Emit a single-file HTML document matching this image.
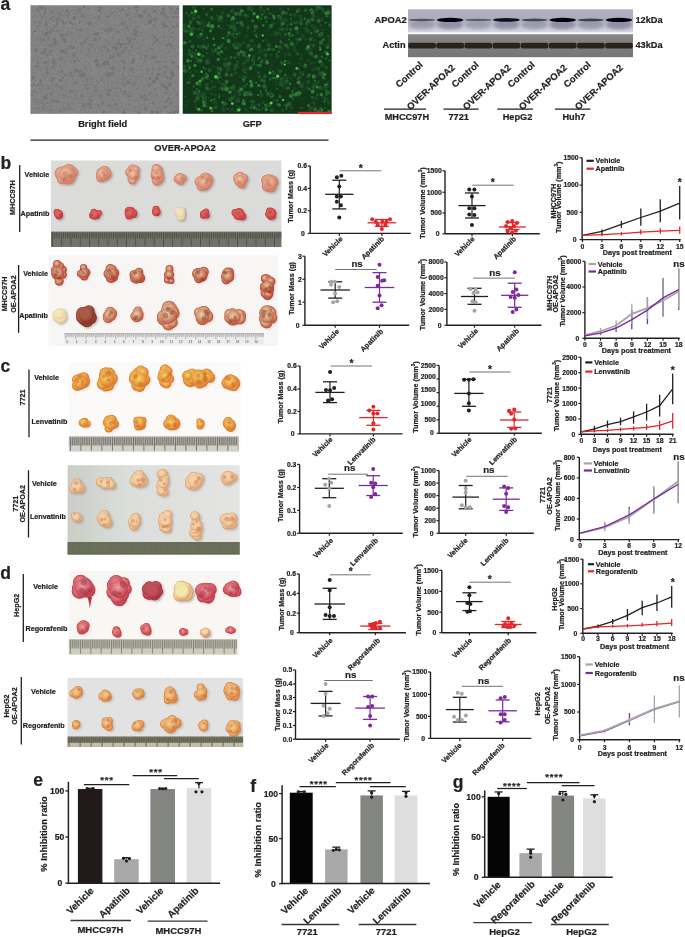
<!DOCTYPE html>
<html><head><meta charset="utf-8"><style>
html,body{margin:0;padding:0;background:#fff;}
body{width:685px;height:937px;overflow:hidden;}
svg{display:block;font-family:"Liberation Sans", sans-serif;will-change:transform;}
</style></head><body>
<svg width="685" height="937" viewBox="0 0 685 937">
<defs>
<filter id="noise" x="0" y="0" width="100%" height="100%">
<feTurbulence type="fractalNoise" baseFrequency="0.55" numOctaves="2" seed="3" result="t"/>
<feColorMatrix type="matrix" values="0 0 0 0 0.49  0 0 0 0 0.49  0 0 0 0 0.49  0 0 0 1.6 -0.55" />
</filter>
<filter id="bfn" x="0" y="0" width="1" height="1"><feTurbulence type="fractalNoise" baseFrequency="0.75" numOctaves="2" seed="5"/><feColorMatrix type="matrix" values="1 0 0 0 0  1 0 0 0 0  1 0 0 0 0  0 0 0 0 0.22"/></filter>
<clipPath id="bfclip"><rect x="30.5" y="5.3" width="148.7" height="108.5"/></clipPath>
<clipPath id="gfpclip"><rect x="182.7" y="5.3" width="148.9" height="108.5"/></clipPath>
<linearGradient id="apoa" x1="0" y1="0" x2="0" y2="1">
<stop offset="0" stop-color="#b0b0be"/><stop offset="0.45" stop-color="#acacbc"/><stop offset="0.75" stop-color="#c4c4d2"/><stop offset="1" stop-color="#d6d6e2"/></linearGradient>
<linearGradient id="act" x1="0" y1="0" x2="0" y2="1">
<stop offset="0" stop-color="#878785"/><stop offset="1" stop-color="#767674"/></linearGradient>
<filter id="bl1"><feGaussianBlur stdDeviation="0.9"/></filter>
<filter id="bl2"><feGaussianBlur stdDeviation="1.6"/></filter>
<filter id="bl05"><feGaussianBlur stdDeviation="0.5"/></filter>
<filter id="bl07"><feGaussianBlur stdDeviation="0.7"/></filter>
<radialGradient id="tg0" cx="0.42" cy="0.4" r="0.6"><stop offset="0" stop-color="#f0c8a8"/><stop offset="0.55" stop-color="#e0a084"/><stop offset="1" stop-color="#cf7c64"/></radialGradient>
<radialGradient id="tg1" cx="0.42" cy="0.4" r="0.6"><stop offset="0" stop-color="#dc6a60"/><stop offset="0.55" stop-color="#d85c58"/><stop offset="1" stop-color="#c63a3e"/></radialGradient>
<radialGradient id="tg2" cx="0.42" cy="0.4" r="0.6"><stop offset="0" stop-color="#f2e2c0"/><stop offset="0.55" stop-color="#f2e2c0"/><stop offset="1" stop-color="#e6c8a0"/></radialGradient>
<pattern id="rp1" patternUnits="userSpaceOnUse" x="52.00" y="231.60" width="9.25" height="15.40"><line x1="0.40" y1="0.8" x2="0.40" y2="14.94" stroke="#3c3e34" stroke-width="0.7"/><line x1="2.25" y1="0.8" x2="2.25" y2="6.93" stroke="#3c3e34" stroke-width="0.7"/><line x1="4.10" y1="0.8" x2="4.10" y2="6.93" stroke="#3c3e34" stroke-width="0.7"/><line x1="5.95" y1="0.8" x2="5.95" y2="6.93" stroke="#3c3e34" stroke-width="0.7"/><line x1="7.80" y1="0.8" x2="7.80" y2="6.93" stroke="#3c3e34" stroke-width="0.7"/></pattern>
<radialGradient id="tg3" cx="0.42" cy="0.4" r="0.6"><stop offset="0" stop-color="#e4c49c"/><stop offset="0.55" stop-color="#cc8466"/><stop offset="1" stop-color="#b4483a"/></radialGradient>
<radialGradient id="tg4" cx="0.42" cy="0.4" r="0.6"><stop offset="0" stop-color="#f3e4bc"/><stop offset="0.55" stop-color="#f3e4bc"/><stop offset="1" stop-color="#e8cf98"/></radialGradient>
<radialGradient id="tg5" cx="0.42" cy="0.4" r="0.6"><stop offset="0" stop-color="#a85a48"/><stop offset="0.55" stop-color="#a85a48"/><stop offset="1" stop-color="#8a3026"/></radialGradient>
<radialGradient id="tg6" cx="0.42" cy="0.4" r="0.6"><stop offset="0" stop-color="#ead2aa"/><stop offset="0.55" stop-color="#d49a7a"/><stop offset="1" stop-color="#bc5a42"/></radialGradient>
<pattern id="rp2" patternUnits="userSpaceOnUse" x="65.30" y="333.30" width="10" height="10.50"><line x1="0.30" y1="0.5" x2="0.30" y2="5.78" stroke="#5a5a5a" stroke-width="0.5"/><line x1="2.30" y1="0.5" x2="2.30" y2="3.67" stroke="#5a5a5a" stroke-width="0.5"/><line x1="4.30" y1="0.5" x2="4.30" y2="3.67" stroke="#5a5a5a" stroke-width="0.5"/><line x1="6.30" y1="0.5" x2="6.30" y2="3.67" stroke="#5a5a5a" stroke-width="0.5"/><line x1="8.30" y1="0.5" x2="8.30" y2="3.67" stroke="#5a5a5a" stroke-width="0.5"/></pattern>
<radialGradient id="tg7" cx="0.42" cy="0.4" r="0.6"><stop offset="0" stop-color="#f2d468"/><stop offset="0.55" stop-color="#eaa848"/><stop offset="1" stop-color="#da7a30"/></radialGradient>
<pattern id="rp3" patternUnits="userSpaceOnUse" x="69.90" y="436.30" width="10.50" height="15.00"><line x1="0.40" y1="0.8" x2="0.40" y2="14.55" stroke="#45453f" stroke-width="0.75"/><line x1="2.50" y1="0.8" x2="2.50" y2="9.00" stroke="#45453f" stroke-width="0.75"/><line x1="4.60" y1="0.8" x2="4.60" y2="9.00" stroke="#45453f" stroke-width="0.75"/><line x1="6.70" y1="0.8" x2="6.70" y2="9.00" stroke="#45453f" stroke-width="0.75"/><line x1="8.80" y1="0.8" x2="8.80" y2="9.00" stroke="#45453f" stroke-width="0.75"/></pattern>
<linearGradient id="c2bg" x1="0" y1="0" x2="1" y2="0"><stop offset="0" stop-color="#c9cdc6"/><stop offset="0.35" stop-color="#dcdedb"/><stop offset="1" stop-color="#e4e4e2"/></linearGradient>
<radialGradient id="tg8" cx="0.42" cy="0.4" r="0.6"><stop offset="0" stop-color="#f4d8b0"/><stop offset="0.55" stop-color="#f0cca0"/><stop offset="1" stop-color="#dca070"/></radialGradient>
<pattern id="rp4" patternUnits="userSpaceOnUse" x="68.60" y="542.10" width="11.00" height="12.50"><line x1="0.40" y1="0.8" x2="0.40" y2="11.50" stroke="#7e846c" stroke-width="0.9"/><line x1="2.60" y1="0.8" x2="2.60" y2="11.50" stroke="#7e846c" stroke-width="0.9"/><line x1="4.80" y1="0.8" x2="4.80" y2="11.50" stroke="#7e846c" stroke-width="0.9"/><line x1="7.00" y1="0.8" x2="7.00" y2="11.50" stroke="#7e846c" stroke-width="0.9"/><line x1="9.20" y1="0.8" x2="9.20" y2="11.50" stroke="#7e846c" stroke-width="0.9"/></pattern>
<radialGradient id="tg9" cx="0.42" cy="0.4" r="0.6"><stop offset="0" stop-color="#e8a0a0"/><stop offset="0.55" stop-color="#d86a74"/><stop offset="1" stop-color="#c03c4c"/></radialGradient>
<radialGradient id="tg10" cx="0.42" cy="0.4" r="0.6"><stop offset="0" stop-color="#c0505a"/><stop offset="0.55" stop-color="#c0505a"/><stop offset="1" stop-color="#a83446"/></radialGradient>
<radialGradient id="tg11" cx="0.42" cy="0.4" r="0.6"><stop offset="0" stop-color="#f4e8a8"/><stop offset="0.55" stop-color="#f4e8a8"/><stop offset="1" stop-color="#dca070"/></radialGradient>
<radialGradient id="tg12" cx="0.42" cy="0.4" r="0.6"><stop offset="0" stop-color="#e8a0a0"/><stop offset="0.55" stop-color="#dc7070"/><stop offset="1" stop-color="#c8404a"/></radialGradient>
<radialGradient id="tg13" cx="0.42" cy="0.4" r="0.6"><stop offset="0" stop-color="#f0d8a0"/><stop offset="0.55" stop-color="#f0d8a0"/><stop offset="1" stop-color="#dc8a70"/></radialGradient>
<pattern id="rp5" patternUnits="userSpaceOnUse" x="69.90" y="639.10" width="10.25" height="15.20"><line x1="0.40" y1="0.8" x2="0.40" y2="14.74" stroke="#4a4a40" stroke-width="0.6"/><line x1="2.45" y1="0.8" x2="2.45" y2="9.12" stroke="#4a4a40" stroke-width="0.6"/><line x1="4.50" y1="0.8" x2="4.50" y2="9.12" stroke="#4a4a40" stroke-width="0.6"/><line x1="6.55" y1="0.8" x2="6.55" y2="9.12" stroke="#4a4a40" stroke-width="0.6"/><line x1="8.60" y1="0.8" x2="8.60" y2="9.12" stroke="#4a4a40" stroke-width="0.6"/></pattern>
<radialGradient id="tg14" cx="0.42" cy="0.4" r="0.6"><stop offset="0" stop-color="#f4d090"/><stop offset="0.55" stop-color="#eab070"/><stop offset="1" stop-color="#d8803e"/></radialGradient>
<pattern id="rp6" patternUnits="userSpaceOnUse" x="68.60" y="736.40" width="11.00" height="10.50"><line x1="0.40" y1="0.8" x2="0.40" y2="10.19" stroke="#3a3a2e" stroke-width="0.8"/><line x1="2.60" y1="0.8" x2="2.60" y2="6.30" stroke="#3a3a2e" stroke-width="0.8"/><line x1="4.80" y1="0.8" x2="4.80" y2="6.30" stroke="#3a3a2e" stroke-width="0.8"/><line x1="7.00" y1="0.8" x2="7.00" y2="6.30" stroke="#3a3a2e" stroke-width="0.8"/><line x1="9.20" y1="0.8" x2="9.20" y2="6.30" stroke="#3a3a2e" stroke-width="0.8"/></pattern>
</defs>
<rect width="685" height="937" fill="#ffffff"/>
<text x="0.40" y="9.85" font-size="17.5" text-anchor="start" fill="#231f20" font-weight="bold" stroke="#231f20" stroke-width="0.22">a</text>
<text x="0.60" y="168.60" font-size="17.5" text-anchor="start" fill="#231f20" font-weight="bold" stroke="#231f20" stroke-width="0.22">b</text>
<text x="0.50" y="372.40" font-size="17.5" text-anchor="start" fill="#231f20" font-weight="bold" stroke="#231f20" stroke-width="0.22">c</text>
<text x="0.30" y="578.70" font-size="17.5" text-anchor="start" fill="#231f20" font-weight="bold" stroke="#231f20" stroke-width="0.22">d</text>
<text x="33.30" y="785.60" font-size="17.5" text-anchor="start" fill="#231f20" font-weight="bold" stroke="#231f20" stroke-width="0.22">e</text>
<text x="250.30" y="791.70" font-size="17.5" text-anchor="start" fill="#231f20" font-weight="bold" stroke="#231f20" stroke-width="0.22">f</text>
<text x="452.70" y="788.00" font-size="17.5" text-anchor="start" fill="#231f20" font-weight="bold" stroke="#231f20" stroke-width="0.22">g</text>
<rect x="30.50" y="5.30" width="148.70" height="108.50" fill="#727272"/>
<rect x="30.50" y="5.30" width="148.70" height="108.50" fill="#000" filter="url(#bfn)"/>
<g clip-path="url(#bfclip)" opacity="0.55">
<g fill="#6c6c6c"><circle cx="79.1" cy="22.4" r="1.6"/><circle cx="44.8" cy="51.6" r="1.8"/><circle cx="170.8" cy="73.6" r="1.5"/><circle cx="116.3" cy="48.6" r="2.0"/><circle cx="46.6" cy="67.2" r="1.0"/><circle cx="53.8" cy="58.5" r="0.8"/><circle cx="41.6" cy="16.3" r="1.1"/><circle cx="73.3" cy="47.5" r="1.6"/><circle cx="131.9" cy="46.9" r="1.1"/><circle cx="133.0" cy="61.3" r="1.5"/><circle cx="53.7" cy="17.1" r="1.2"/><circle cx="172.0" cy="70.6" r="1.4"/><circle cx="165.9" cy="87.2" r="1.2"/><circle cx="60.9" cy="58.9" r="1.7"/><circle cx="155.0" cy="57.5" r="1.6"/><circle cx="34.6" cy="91.6" r="1.7"/><circle cx="131.8" cy="62.9" r="1.4"/><circle cx="161.3" cy="12.4" r="1.0"/><circle cx="145.0" cy="60.5" r="1.5"/><circle cx="51.7" cy="19.3" r="1.3"/><circle cx="174.3" cy="17.5" r="1.1"/><circle cx="163.1" cy="35.0" r="0.8"/><circle cx="149.3" cy="15.2" r="1.8"/><circle cx="92.9" cy="104.0" r="1.5"/><circle cx="71.3" cy="92.1" r="2.0"/><circle cx="176.9" cy="111.1" r="1.8"/><circle cx="38.1" cy="26.1" r="1.1"/><circle cx="72.5" cy="76.3" r="1.1"/><circle cx="165.3" cy="86.6" r="1.5"/><circle cx="44.0" cy="10.8" r="1.6"/><circle cx="86.9" cy="54.5" r="0.9"/><circle cx="123.6" cy="78.9" r="1.4"/><circle cx="42.8" cy="103.4" r="1.1"/><circle cx="88.4" cy="104.1" r="1.9"/><circle cx="51.0" cy="93.8" r="1.4"/><circle cx="154.8" cy="19.1" r="1.9"/><circle cx="142.6" cy="97.4" r="1.1"/><circle cx="165.8" cy="106.7" r="1.5"/><circle cx="66.7" cy="33.9" r="1.5"/><circle cx="109.3" cy="90.6" r="1.8"/><circle cx="95.0" cy="39.6" r="1.8"/><circle cx="157.3" cy="110.0" r="1.1"/><circle cx="64.4" cy="22.5" r="2.0"/><circle cx="129.6" cy="105.0" r="1.1"/><circle cx="97.6" cy="82.3" r="1.2"/><circle cx="96.5" cy="17.9" r="0.9"/><circle cx="37.5" cy="10.0" r="0.9"/><circle cx="84.9" cy="42.0" r="1.9"/><circle cx="75.2" cy="83.3" r="1.5"/><circle cx="151.3" cy="20.5" r="1.4"/><circle cx="142.2" cy="32.7" r="0.9"/><circle cx="161.4" cy="111.7" r="1.1"/><circle cx="141.5" cy="96.7" r="1.6"/><circle cx="97.5" cy="34.0" r="1.7"/><circle cx="37.1" cy="84.4" r="1.9"/><circle cx="126.2" cy="48.0" r="1.3"/><circle cx="95.3" cy="23.0" r="0.9"/><circle cx="77.7" cy="71.1" r="1.6"/><circle cx="37.5" cy="66.3" r="1.7"/><circle cx="45.0" cy="53.5" r="1.4"/><circle cx="163.0" cy="75.9" r="1.7"/><circle cx="157.5" cy="112.6" r="1.7"/><circle cx="163.1" cy="24.3" r="1.7"/><circle cx="113.1" cy="68.2" r="1.9"/><circle cx="122.1" cy="52.4" r="1.4"/><circle cx="50.9" cy="30.5" r="1.6"/><circle cx="169.3" cy="84.6" r="1.1"/><circle cx="43.3" cy="76.2" r="1.0"/><circle cx="100.5" cy="95.9" r="1.6"/><circle cx="165.4" cy="21.7" r="0.8"/><circle cx="122.9" cy="23.6" r="2.0"/><circle cx="36.0" cy="21.1" r="1.6"/><circle cx="47.2" cy="28.3" r="0.9"/><circle cx="171.0" cy="103.5" r="1.7"/><circle cx="152.8" cy="73.7" r="1.1"/><circle cx="107.7" cy="16.8" r="1.4"/><circle cx="110.6" cy="29.4" r="1.8"/><circle cx="61.2" cy="87.6" r="2.0"/><circle cx="169.4" cy="31.0" r="1.0"/><circle cx="103.6" cy="112.1" r="1.5"/><circle cx="162.6" cy="85.8" r="1.3"/><circle cx="34.8" cy="33.7" r="1.7"/><circle cx="177.1" cy="25.9" r="1.4"/><circle cx="54.0" cy="38.6" r="1.3"/><circle cx="109.5" cy="43.1" r="1.5"/><circle cx="56.2" cy="101.4" r="1.5"/><circle cx="65.9" cy="21.2" r="1.4"/><circle cx="104.7" cy="63.9" r="1.8"/><circle cx="50.3" cy="110.1" r="0.9"/><circle cx="152.3" cy="57.0" r="1.7"/><circle cx="53.1" cy="78.2" r="1.6"/><circle cx="46.4" cy="25.6" r="0.8"/><circle cx="116.1" cy="104.3" r="1.3"/><circle cx="62.7" cy="22.5" r="0.8"/><circle cx="32.9" cy="77.7" r="2.0"/><circle cx="99.2" cy="105.8" r="1.1"/><circle cx="70.9" cy="23.1" r="1.9"/><circle cx="132.1" cy="103.8" r="1.2"/><circle cx="99.1" cy="15.7" r="1.8"/><circle cx="67.7" cy="104.7" r="1.4"/><circle cx="119.3" cy="43.1" r="1.4"/><circle cx="177.7" cy="46.7" r="0.8"/><circle cx="113.4" cy="99.2" r="1.3"/><circle cx="158.4" cy="74.6" r="1.9"/><circle cx="169.9" cy="12.6" r="1.5"/><circle cx="131.0" cy="38.2" r="1.5"/><circle cx="148.9" cy="23.0" r="1.8"/><circle cx="39.9" cy="83.8" r="1.2"/><circle cx="136.1" cy="27.3" r="0.9"/><circle cx="36.9" cy="81.2" r="1.5"/><circle cx="83.9" cy="105.8" r="2.0"/><circle cx="146.0" cy="98.9" r="1.5"/><circle cx="107.0" cy="62.9" r="1.4"/><circle cx="46.6" cy="33.0" r="1.8"/><circle cx="66.5" cy="53.7" r="1.2"/><circle cx="117.6" cy="87.6" r="0.9"/><circle cx="119.3" cy="70.6" r="0.8"/><circle cx="41.7" cy="52.5" r="1.4"/><circle cx="124.6" cy="92.6" r="1.9"/><circle cx="61.5" cy="51.8" r="1.9"/><circle cx="170.8" cy="78.5" r="1.4"/><circle cx="120.2" cy="44.0" r="2.0"/><circle cx="178.1" cy="67.6" r="1.3"/><circle cx="52.9" cy="61.6" r="1.4"/><circle cx="121.6" cy="92.4" r="0.9"/><circle cx="83.5" cy="24.4" r="1.1"/><circle cx="35.7" cy="82.9" r="1.0"/><circle cx="68.0" cy="96.6" r="1.2"/><circle cx="94.8" cy="87.1" r="1.0"/><circle cx="167.6" cy="77.8" r="1.5"/><circle cx="47.9" cy="87.8" r="1.6"/><circle cx="117.9" cy="32.0" r="1.6"/><circle cx="37.9" cy="101.9" r="1.2"/><circle cx="59.4" cy="64.2" r="0.8"/><circle cx="127.5" cy="14.6" r="1.7"/><circle cx="138.9" cy="112.5" r="1.5"/><circle cx="58.0" cy="101.3" r="1.5"/><circle cx="165.2" cy="66.8" r="1.8"/><circle cx="173.8" cy="26.7" r="1.4"/><circle cx="99.1" cy="19.2" r="1.0"/><circle cx="56.2" cy="85.8" r="1.2"/><circle cx="96.2" cy="90.7" r="1.4"/></g>
<g fill="#858585"><circle cx="152.2" cy="16.3" r="1.5"/><circle cx="113.3" cy="20.5" r="1.3"/><circle cx="134.3" cy="32.3" r="1.5"/><circle cx="104.3" cy="42.9" r="1.3"/><circle cx="98.6" cy="99.2" r="1.9"/><circle cx="47.7" cy="70.4" r="0.9"/><circle cx="171.3" cy="62.7" r="1.0"/><circle cx="83.8" cy="30.1" r="1.4"/><circle cx="147.6" cy="56.7" r="1.0"/><circle cx="100.6" cy="42.3" r="1.4"/><circle cx="105.2" cy="87.8" r="1.2"/><circle cx="163.5" cy="77.0" r="1.8"/><circle cx="93.3" cy="104.2" r="1.4"/><circle cx="96.7" cy="71.7" r="1.4"/><circle cx="78.3" cy="83.4" r="0.8"/><circle cx="98.9" cy="81.3" r="1.3"/><circle cx="70.4" cy="19.3" r="0.8"/><circle cx="128.0" cy="64.5" r="1.9"/><circle cx="39.6" cy="77.3" r="1.3"/><circle cx="70.2" cy="108.9" r="2.0"/><circle cx="44.9" cy="93.5" r="1.0"/><circle cx="138.0" cy="74.9" r="0.9"/><circle cx="98.7" cy="13.8" r="1.9"/><circle cx="80.3" cy="75.8" r="1.6"/><circle cx="126.2" cy="36.8" r="0.9"/><circle cx="49.1" cy="74.9" r="0.9"/><circle cx="141.7" cy="50.3" r="1.3"/><circle cx="72.3" cy="109.6" r="1.0"/><circle cx="173.8" cy="58.6" r="0.9"/><circle cx="134.2" cy="18.3" r="0.9"/><circle cx="170.2" cy="26.8" r="1.1"/><circle cx="60.6" cy="91.3" r="1.7"/><circle cx="102.8" cy="103.4" r="0.9"/><circle cx="53.0" cy="48.3" r="1.1"/><circle cx="44.4" cy="81.6" r="1.0"/><circle cx="58.8" cy="31.4" r="1.1"/><circle cx="65.7" cy="11.7" r="1.5"/><circle cx="151.9" cy="49.9" r="1.2"/><circle cx="77.4" cy="28.0" r="1.8"/><circle cx="102.6" cy="49.9" r="1.8"/><circle cx="44.6" cy="72.7" r="1.2"/><circle cx="125.6" cy="97.7" r="1.5"/><circle cx="97.2" cy="53.1" r="0.8"/><circle cx="176.5" cy="55.9" r="1.3"/><circle cx="145.8" cy="60.9" r="0.9"/><circle cx="121.2" cy="33.2" r="1.2"/><circle cx="71.9" cy="93.3" r="1.0"/><circle cx="173.3" cy="57.5" r="1.5"/><circle cx="80.1" cy="15.0" r="1.1"/><circle cx="39.5" cy="66.8" r="1.2"/><circle cx="84.0" cy="30.2" r="1.5"/><circle cx="90.6" cy="34.5" r="0.8"/><circle cx="162.7" cy="69.8" r="1.5"/><circle cx="54.9" cy="103.6" r="0.9"/><circle cx="125.9" cy="109.3" r="1.1"/><circle cx="79.8" cy="31.8" r="1.9"/><circle cx="147.5" cy="48.1" r="1.5"/><circle cx="134.0" cy="84.9" r="0.9"/><circle cx="143.5" cy="27.6" r="1.9"/><circle cx="116.0" cy="36.9" r="1.3"/><circle cx="173.7" cy="69.5" r="1.9"/><circle cx="86.2" cy="38.6" r="1.3"/><circle cx="170.3" cy="19.8" r="1.5"/><circle cx="56.4" cy="53.1" r="1.7"/><circle cx="106.1" cy="34.8" r="1.7"/><circle cx="140.4" cy="103.2" r="1.3"/><circle cx="117.9" cy="75.4" r="1.8"/><circle cx="68.3" cy="51.5" r="1.3"/><circle cx="55.1" cy="89.7" r="1.9"/><circle cx="166.1" cy="73.4" r="1.6"/><circle cx="70.5" cy="30.2" r="1.7"/><circle cx="62.3" cy="14.0" r="1.2"/><circle cx="82.4" cy="22.6" r="1.9"/><circle cx="45.4" cy="76.6" r="1.2"/><circle cx="90.1" cy="65.4" r="1.3"/><circle cx="147.5" cy="103.4" r="1.5"/><circle cx="58.7" cy="10.0" r="0.8"/><circle cx="125.8" cy="105.9" r="0.9"/><circle cx="136.9" cy="7.5" r="0.8"/><circle cx="72.6" cy="72.7" r="1.6"/><circle cx="73.9" cy="21.3" r="1.9"/><circle cx="53.1" cy="110.4" r="1.8"/><circle cx="65.7" cy="68.1" r="1.9"/><circle cx="45.3" cy="28.1" r="1.8"/><circle cx="94.1" cy="107.3" r="1.7"/><circle cx="69.3" cy="66.5" r="1.6"/><circle cx="93.0" cy="32.6" r="0.8"/><circle cx="117.2" cy="27.9" r="0.9"/><circle cx="34.1" cy="70.3" r="1.5"/><circle cx="151.3" cy="96.7" r="0.9"/><circle cx="36.6" cy="74.8" r="1.1"/><circle cx="71.7" cy="64.2" r="1.9"/><circle cx="49.2" cy="69.7" r="1.9"/><circle cx="116.4" cy="35.5" r="1.7"/><circle cx="36.1" cy="41.9" r="1.0"/><circle cx="39.9" cy="8.6" r="1.5"/><circle cx="154.1" cy="44.1" r="1.7"/><circle cx="122.1" cy="97.0" r="1.8"/><circle cx="92.2" cy="17.3" r="1.3"/><circle cx="117.6" cy="59.4" r="2.0"/><circle cx="53.5" cy="97.0" r="1.1"/><circle cx="73.8" cy="43.9" r="1.2"/><circle cx="91.7" cy="59.7" r="1.6"/><circle cx="78.3" cy="110.7" r="1.8"/><circle cx="105.7" cy="26.4" r="1.0"/><circle cx="133.2" cy="7.4" r="0.8"/><circle cx="32.1" cy="38.8" r="1.8"/><circle cx="33.8" cy="9.5" r="1.0"/><circle cx="114.9" cy="99.3" r="1.9"/><circle cx="117.2" cy="108.7" r="1.3"/><circle cx="66.5" cy="30.1" r="1.0"/><circle cx="175.5" cy="13.5" r="1.6"/><circle cx="117.9" cy="45.6" r="1.1"/><circle cx="106.5" cy="19.7" r="1.7"/><circle cx="78.7" cy="77.0" r="0.9"/><circle cx="112.7" cy="73.5" r="1.9"/><circle cx="178.2" cy="72.0" r="1.1"/><circle cx="106.3" cy="78.5" r="1.0"/><circle cx="96.9" cy="67.0" r="1.1"/><circle cx="43.8" cy="82.8" r="2.0"/><circle cx="46.5" cy="83.0" r="1.2"/><circle cx="63.6" cy="46.0" r="0.8"/><circle cx="44.0" cy="40.8" r="1.4"/><circle cx="165.1" cy="98.6" r="2.0"/><circle cx="131.3" cy="54.0" r="0.9"/><circle cx="86.2" cy="68.3" r="1.3"/><circle cx="109.5" cy="33.1" r="1.4"/><circle cx="98.8" cy="64.0" r="1.6"/><circle cx="149.1" cy="20.6" r="1.4"/><circle cx="136.5" cy="87.1" r="0.9"/><circle cx="152.9" cy="19.4" r="1.2"/><circle cx="170.9" cy="83.3" r="0.9"/><circle cx="83.5" cy="44.3" r="1.2"/><circle cx="83.6" cy="80.3" r="0.8"/><circle cx="159.9" cy="77.7" r="1.8"/></g>
<g fill="#707070"><circle cx="63.1" cy="15.5" r="1.3"/><circle cx="48.8" cy="39.2" r="1.8"/><circle cx="112.0" cy="13.0" r="0.9"/><circle cx="117.6" cy="54.7" r="1.2"/><circle cx="40.2" cy="88.3" r="1.0"/><circle cx="90.0" cy="104.1" r="1.4"/><circle cx="153.7" cy="25.8" r="1.1"/><circle cx="93.1" cy="45.7" r="1.5"/><circle cx="40.7" cy="13.5" r="1.1"/><circle cx="101.9" cy="80.1" r="1.4"/><circle cx="133.8" cy="34.2" r="1.2"/><circle cx="80.0" cy="30.1" r="1.8"/><circle cx="150.0" cy="93.6" r="1.7"/><circle cx="171.9" cy="45.2" r="1.1"/><circle cx="154.2" cy="19.1" r="1.3"/><circle cx="90.5" cy="107.3" r="1.7"/><circle cx="128.1" cy="43.7" r="1.5"/><circle cx="108.9" cy="105.9" r="1.3"/><circle cx="53.8" cy="60.8" r="1.8"/><circle cx="121.0" cy="89.1" r="1.0"/><circle cx="52.5" cy="100.5" r="2.0"/><circle cx="141.3" cy="16.3" r="1.9"/><circle cx="123.2" cy="61.0" r="0.9"/><circle cx="109.0" cy="31.7" r="0.9"/><circle cx="109.6" cy="28.3" r="1.3"/><circle cx="33.8" cy="84.5" r="1.5"/><circle cx="76.7" cy="29.3" r="1.1"/><circle cx="41.9" cy="85.4" r="1.1"/><circle cx="79.1" cy="10.0" r="1.9"/><circle cx="37.6" cy="8.7" r="1.2"/><circle cx="43.9" cy="108.5" r="1.8"/><circle cx="123.7" cy="84.6" r="1.8"/><circle cx="153.0" cy="68.6" r="1.9"/><circle cx="68.6" cy="14.2" r="1.1"/><circle cx="122.2" cy="74.9" r="0.9"/><circle cx="154.2" cy="36.8" r="1.9"/><circle cx="38.8" cy="84.4" r="1.3"/><circle cx="178.0" cy="54.3" r="1.0"/><circle cx="44.0" cy="89.2" r="0.8"/><circle cx="161.6" cy="75.4" r="0.9"/><circle cx="41.4" cy="59.2" r="1.0"/><circle cx="47.5" cy="72.8" r="1.5"/><circle cx="178.1" cy="105.7" r="1.2"/><circle cx="83.2" cy="108.3" r="0.9"/><circle cx="149.5" cy="85.1" r="1.8"/><circle cx="57.0" cy="20.5" r="1.4"/><circle cx="86.3" cy="85.1" r="1.0"/><circle cx="59.2" cy="13.2" r="1.1"/><circle cx="177.2" cy="17.2" r="1.4"/><circle cx="60.0" cy="14.3" r="1.4"/><circle cx="47.0" cy="69.9" r="1.5"/><circle cx="91.2" cy="100.5" r="1.4"/><circle cx="56.7" cy="43.4" r="1.0"/><circle cx="167.5" cy="17.9" r="1.4"/><circle cx="164.4" cy="72.5" r="1.8"/><circle cx="155.9" cy="94.8" r="1.0"/><circle cx="49.6" cy="32.7" r="1.7"/><circle cx="60.0" cy="111.1" r="1.4"/><circle cx="105.9" cy="40.3" r="0.8"/><circle cx="51.2" cy="45.4" r="1.8"/><circle cx="51.3" cy="106.2" r="1.1"/><circle cx="38.0" cy="63.0" r="1.3"/><circle cx="112.5" cy="106.7" r="1.0"/><circle cx="33.7" cy="34.1" r="1.1"/><circle cx="82.6" cy="16.5" r="1.6"/><circle cx="69.8" cy="107.0" r="1.1"/><circle cx="105.2" cy="46.8" r="1.9"/><circle cx="126.5" cy="43.5" r="1.2"/><circle cx="65.5" cy="41.9" r="1.6"/><circle cx="120.1" cy="43.5" r="1.1"/><circle cx="69.5" cy="108.2" r="2.0"/><circle cx="173.0" cy="17.1" r="1.3"/><circle cx="148.3" cy="84.5" r="1.3"/><circle cx="67.1" cy="49.0" r="1.7"/><circle cx="157.7" cy="61.6" r="1.6"/><circle cx="165.0" cy="17.7" r="1.1"/><circle cx="82.7" cy="96.7" r="1.3"/><circle cx="108.2" cy="50.1" r="1.9"/><circle cx="62.7" cy="20.1" r="1.7"/><circle cx="100.5" cy="66.3" r="1.1"/><circle cx="100.3" cy="37.7" r="1.5"/><circle cx="146.1" cy="56.4" r="1.7"/><circle cx="153.2" cy="102.9" r="1.7"/><circle cx="102.7" cy="102.9" r="1.6"/><circle cx="150.4" cy="16.3" r="1.4"/><circle cx="38.8" cy="38.4" r="0.8"/><circle cx="62.7" cy="77.5" r="1.3"/><circle cx="165.9" cy="76.3" r="1.2"/><circle cx="131.5" cy="69.7" r="2.0"/><circle cx="137.2" cy="32.2" r="1.7"/><circle cx="167.2" cy="45.3" r="1.7"/><circle cx="43.2" cy="39.5" r="1.7"/><circle cx="85.5" cy="67.6" r="1.3"/><circle cx="52.8" cy="91.4" r="1.2"/><circle cx="80.3" cy="70.9" r="2.0"/><circle cx="119.9" cy="39.2" r="1.3"/><circle cx="86.9" cy="79.4" r="1.5"/><circle cx="110.9" cy="58.0" r="1.3"/><circle cx="77.0" cy="12.4" r="1.3"/><circle cx="78.7" cy="60.3" r="1.0"/><circle cx="116.4" cy="44.6" r="1.7"/><circle cx="173.1" cy="33.4" r="0.8"/><circle cx="89.3" cy="54.1" r="1.0"/><circle cx="39.7" cy="21.7" r="1.7"/><circle cx="102.3" cy="24.3" r="1.1"/><circle cx="165.9" cy="101.5" r="1.4"/><circle cx="168.8" cy="98.8" r="1.9"/><circle cx="47.6" cy="55.0" r="1.4"/><circle cx="175.4" cy="12.4" r="1.9"/><circle cx="113.8" cy="95.4" r="0.9"/><circle cx="174.2" cy="52.4" r="1.1"/><circle cx="167.5" cy="16.7" r="1.1"/><circle cx="31.8" cy="95.1" r="1.4"/><circle cx="115.5" cy="21.0" r="1.0"/><circle cx="162.2" cy="84.3" r="1.7"/><circle cx="61.8" cy="71.6" r="1.6"/><circle cx="44.8" cy="50.0" r="1.7"/><circle cx="67.3" cy="15.8" r="1.5"/><circle cx="91.1" cy="20.9" r="1.5"/><circle cx="53.1" cy="67.4" r="1.7"/><circle cx="129.0" cy="7.5" r="0.9"/><circle cx="46.3" cy="19.3" r="0.8"/><circle cx="171.3" cy="37.0" r="1.2"/><circle cx="164.0" cy="15.3" r="1.5"/><circle cx="73.7" cy="54.8" r="1.6"/><circle cx="64.6" cy="108.7" r="1.7"/><circle cx="92.8" cy="77.6" r="1.0"/><circle cx="71.0" cy="73.6" r="1.6"/><circle cx="87.5" cy="38.3" r="1.4"/><circle cx="124.3" cy="62.2" r="1.8"/><circle cx="132.1" cy="68.1" r="1.0"/><circle cx="157.8" cy="107.4" r="0.9"/><circle cx="34.8" cy="98.9" r="0.9"/><circle cx="152.9" cy="43.8" r="1.1"/><circle cx="129.1" cy="42.7" r="1.0"/><circle cx="45.1" cy="35.1" r="1.8"/><circle cx="113.1" cy="56.1" r="1.8"/><circle cx="105.7" cy="30.6" r="1.3"/><circle cx="88.8" cy="15.5" r="1.0"/><circle cx="165.8" cy="92.2" r="1.7"/><circle cx="41.2" cy="39.5" r="1.1"/><circle cx="145.4" cy="100.5" r="1.8"/><circle cx="58.2" cy="18.6" r="1.9"/><circle cx="136.3" cy="10.6" r="0.8"/><circle cx="160.1" cy="68.7" r="1.6"/><circle cx="155.9" cy="89.3" r="1.4"/><circle cx="57.2" cy="23.8" r="1.7"/><circle cx="82.5" cy="16.2" r="1.6"/><circle cx="51.6" cy="81.7" r="1.6"/><circle cx="135.2" cy="6.9" r="1.6"/><circle cx="169.1" cy="43.8" r="1.2"/><circle cx="112.1" cy="87.4" r="1.0"/><circle cx="119.5" cy="55.5" r="1.7"/><circle cx="48.3" cy="37.2" r="1.2"/><circle cx="145.3" cy="95.9" r="1.2"/><circle cx="172.9" cy="62.4" r="1.9"/><circle cx="44.7" cy="10.6" r="1.3"/><circle cx="40.7" cy="7.2" r="1.9"/><circle cx="109.5" cy="73.9" r="1.8"/><circle cx="66.8" cy="53.4" r="1.1"/><circle cx="64.0" cy="95.6" r="1.6"/><circle cx="46.5" cy="94.9" r="1.3"/><circle cx="51.6" cy="89.1" r="0.9"/><circle cx="38.4" cy="10.8" r="1.6"/></g>
<g fill="#686868"><circle cx="104.5" cy="63.0" r="1.7"/><circle cx="81.5" cy="43.7" r="1.4"/><circle cx="40.4" cy="81.1" r="1.6"/><circle cx="169.8" cy="44.2" r="1.5"/><circle cx="97.5" cy="64.9" r="1.9"/><circle cx="57.4" cy="31.0" r="1.1"/><circle cx="89.2" cy="48.9" r="0.9"/><circle cx="156.3" cy="112.3" r="1.4"/><circle cx="44.3" cy="107.3" r="1.7"/><circle cx="177.5" cy="9.2" r="1.5"/><circle cx="150.1" cy="21.9" r="1.8"/><circle cx="60.8" cy="35.9" r="1.4"/><circle cx="167.1" cy="101.6" r="1.0"/><circle cx="177.0" cy="95.1" r="1.0"/><circle cx="164.7" cy="25.7" r="1.7"/><circle cx="156.4" cy="78.4" r="1.9"/><circle cx="44.7" cy="12.4" r="1.6"/><circle cx="107.1" cy="32.5" r="1.3"/><circle cx="153.8" cy="81.7" r="1.6"/><circle cx="83.9" cy="6.4" r="1.3"/><circle cx="128.2" cy="82.7" r="1.9"/><circle cx="45.0" cy="62.4" r="1.7"/><circle cx="65.4" cy="75.6" r="1.4"/><circle cx="174.5" cy="16.9" r="1.1"/><circle cx="74.3" cy="61.4" r="1.4"/><circle cx="175.3" cy="106.2" r="0.8"/><circle cx="134.9" cy="31.0" r="1.9"/><circle cx="89.4" cy="23.3" r="1.9"/><circle cx="91.1" cy="83.9" r="1.3"/><circle cx="164.0" cy="37.2" r="1.2"/><circle cx="88.9" cy="99.1" r="0.9"/><circle cx="146.9" cy="51.9" r="0.8"/><circle cx="69.1" cy="85.1" r="1.6"/><circle cx="127.9" cy="38.4" r="1.5"/><circle cx="62.4" cy="35.1" r="1.7"/><circle cx="71.3" cy="32.8" r="1.3"/><circle cx="50.2" cy="51.7" r="1.7"/><circle cx="169.9" cy="83.3" r="1.6"/><circle cx="173.0" cy="73.1" r="1.4"/><circle cx="172.5" cy="75.1" r="1.9"/><circle cx="108.9" cy="64.7" r="0.8"/><circle cx="135.1" cy="39.1" r="0.8"/><circle cx="133.8" cy="82.9" r="1.2"/><circle cx="52.4" cy="11.8" r="0.9"/><circle cx="87.4" cy="88.3" r="1.2"/><circle cx="166.7" cy="26.9" r="1.2"/><circle cx="36.0" cy="50.1" r="1.8"/><circle cx="35.1" cy="31.3" r="1.4"/><circle cx="171.7" cy="47.5" r="1.1"/><circle cx="146.7" cy="69.9" r="1.4"/><circle cx="102.3" cy="64.4" r="1.0"/><circle cx="62.1" cy="51.2" r="2.0"/><circle cx="106.1" cy="31.0" r="1.8"/><circle cx="54.2" cy="63.3" r="1.6"/><circle cx="50.6" cy="11.8" r="1.0"/><circle cx="75.8" cy="95.6" r="0.9"/><circle cx="129.7" cy="40.9" r="1.3"/><circle cx="112.4" cy="73.2" r="1.2"/><circle cx="146.2" cy="55.2" r="1.0"/><circle cx="144.4" cy="11.5" r="1.8"/><circle cx="107.7" cy="74.9" r="1.6"/><circle cx="123.5" cy="112.4" r="1.7"/><circle cx="136.7" cy="7.0" r="1.8"/><circle cx="136.1" cy="34.7" r="1.5"/><circle cx="170.4" cy="85.9" r="1.2"/><circle cx="162.5" cy="13.3" r="1.8"/><circle cx="122.4" cy="9.6" r="1.3"/><circle cx="123.8" cy="44.2" r="1.3"/><circle cx="47.6" cy="103.5" r="1.1"/><circle cx="99.7" cy="7.6" r="1.8"/><circle cx="133.4" cy="59.7" r="1.6"/><circle cx="156.8" cy="78.8" r="1.6"/><circle cx="95.1" cy="34.0" r="1.6"/><circle cx="163.0" cy="41.3" r="0.8"/><circle cx="71.8" cy="48.9" r="0.8"/><circle cx="174.3" cy="112.4" r="2.0"/><circle cx="83.4" cy="74.5" r="1.8"/><circle cx="70.8" cy="46.4" r="1.1"/><circle cx="84.1" cy="76.1" r="1.2"/><circle cx="46.4" cy="21.5" r="1.1"/><circle cx="60.5" cy="80.2" r="1.4"/><circle cx="130.2" cy="18.8" r="0.9"/><circle cx="55.1" cy="40.5" r="1.6"/><circle cx="129.3" cy="96.0" r="1.2"/><circle cx="159.8" cy="43.1" r="1.0"/><circle cx="108.3" cy="94.3" r="1.7"/><circle cx="101.4" cy="50.3" r="0.9"/><circle cx="138.8" cy="15.3" r="1.6"/><circle cx="124.1" cy="50.9" r="1.3"/><circle cx="167.6" cy="68.9" r="0.8"/><circle cx="154.6" cy="11.3" r="1.7"/><circle cx="145.9" cy="108.5" r="1.9"/><circle cx="52.5" cy="30.0" r="0.9"/><circle cx="154.9" cy="42.0" r="1.0"/><circle cx="96.5" cy="60.5" r="1.4"/><circle cx="80.8" cy="96.1" r="1.8"/><circle cx="74.4" cy="17.8" r="1.7"/><circle cx="136.9" cy="11.1" r="0.9"/><circle cx="170.9" cy="8.3" r="1.6"/><circle cx="53.1" cy="78.9" r="1.2"/><circle cx="64.6" cy="51.2" r="1.3"/><circle cx="96.2" cy="60.9" r="1.9"/><circle cx="127.1" cy="27.8" r="1.7"/><circle cx="159.6" cy="53.2" r="0.9"/><circle cx="45.5" cy="97.7" r="1.9"/><circle cx="120.8" cy="46.8" r="1.3"/><circle cx="113.1" cy="47.3" r="1.2"/><circle cx="166.8" cy="88.8" r="1.4"/><circle cx="107.6" cy="61.5" r="1.6"/><circle cx="99.7" cy="10.6" r="1.6"/><circle cx="54.2" cy="26.4" r="1.3"/><circle cx="152.1" cy="112.0" r="1.9"/><circle cx="46.2" cy="24.5" r="1.4"/><circle cx="97.6" cy="47.4" r="0.9"/><circle cx="157.1" cy="39.9" r="1.9"/><circle cx="76.1" cy="70.6" r="2.0"/><circle cx="64.0" cy="39.3" r="1.9"/><circle cx="89.7" cy="45.0" r="1.2"/><circle cx="80.9" cy="75.8" r="2.0"/><circle cx="54.9" cy="44.0" r="1.7"/><circle cx="124.0" cy="68.3" r="1.2"/><circle cx="170.0" cy="112.8" r="1.5"/><circle cx="44.9" cy="97.2" r="1.7"/><circle cx="151.6" cy="48.9" r="1.2"/><circle cx="163.4" cy="9.0" r="1.6"/><circle cx="141.7" cy="15.5" r="1.6"/><circle cx="133.2" cy="85.1" r="1.8"/><circle cx="42.1" cy="7.5" r="2.0"/><circle cx="70.4" cy="75.1" r="1.9"/><circle cx="66.7" cy="10.7" r="1.5"/><circle cx="164.6" cy="107.1" r="1.4"/><circle cx="52.4" cy="30.6" r="1.0"/><circle cx="164.4" cy="23.8" r="1.2"/><circle cx="149.7" cy="78.4" r="1.5"/></g>
<g fill="#8a8a8a"><circle cx="175.6" cy="18.9" r="1.3"/><circle cx="143.9" cy="67.4" r="1.9"/><circle cx="158.5" cy="36.0" r="1.3"/><circle cx="41.8" cy="28.5" r="1.3"/><circle cx="77.3" cy="21.7" r="1.7"/><circle cx="172.1" cy="54.0" r="1.9"/><circle cx="101.8" cy="25.3" r="1.7"/><circle cx="152.9" cy="28.8" r="1.1"/><circle cx="93.1" cy="20.3" r="1.9"/><circle cx="101.1" cy="83.7" r="1.5"/><circle cx="106.1" cy="32.7" r="1.4"/><circle cx="130.2" cy="52.0" r="1.1"/><circle cx="146.7" cy="102.0" r="1.0"/><circle cx="177.6" cy="49.4" r="1.3"/><circle cx="53.5" cy="104.4" r="1.5"/><circle cx="70.0" cy="25.6" r="1.9"/><circle cx="130.1" cy="36.4" r="1.1"/><circle cx="143.9" cy="83.2" r="1.4"/><circle cx="115.0" cy="7.6" r="0.9"/><circle cx="144.3" cy="112.3" r="1.5"/><circle cx="42.7" cy="60.4" r="2.0"/><circle cx="117.0" cy="21.4" r="1.4"/><circle cx="78.0" cy="96.0" r="0.8"/><circle cx="174.2" cy="52.8" r="1.2"/><circle cx="50.2" cy="56.7" r="1.2"/><circle cx="164.7" cy="59.3" r="1.1"/><circle cx="67.4" cy="24.9" r="1.5"/><circle cx="65.7" cy="104.5" r="1.6"/><circle cx="31.7" cy="63.6" r="2.0"/><circle cx="65.4" cy="29.9" r="1.7"/><circle cx="127.4" cy="62.3" r="1.4"/><circle cx="129.2" cy="46.7" r="1.2"/><circle cx="69.3" cy="86.0" r="1.9"/><circle cx="70.0" cy="82.8" r="1.2"/><circle cx="120.8" cy="41.3" r="1.2"/><circle cx="146.1" cy="37.7" r="1.1"/><circle cx="155.1" cy="103.9" r="0.8"/><circle cx="37.0" cy="42.6" r="0.9"/><circle cx="133.7" cy="50.0" r="1.1"/><circle cx="92.9" cy="11.8" r="1.7"/><circle cx="92.4" cy="8.2" r="1.7"/><circle cx="37.6" cy="106.4" r="1.0"/><circle cx="76.8" cy="32.9" r="1.3"/><circle cx="90.4" cy="13.5" r="1.2"/><circle cx="37.5" cy="20.2" r="1.9"/><circle cx="132.4" cy="83.2" r="1.1"/><circle cx="90.8" cy="74.2" r="1.1"/><circle cx="68.5" cy="63.5" r="1.8"/><circle cx="70.4" cy="112.0" r="1.5"/><circle cx="140.8" cy="11.5" r="1.8"/><circle cx="77.1" cy="109.4" r="1.8"/><circle cx="139.3" cy="86.0" r="1.1"/><circle cx="97.8" cy="13.1" r="1.0"/><circle cx="151.1" cy="24.9" r="1.2"/><circle cx="69.9" cy="75.0" r="0.9"/><circle cx="132.3" cy="104.2" r="2.0"/><circle cx="95.8" cy="83.6" r="1.5"/><circle cx="51.0" cy="90.8" r="1.6"/><circle cx="78.4" cy="51.5" r="0.8"/><circle cx="168.2" cy="11.5" r="1.7"/><circle cx="144.6" cy="70.5" r="1.4"/><circle cx="159.1" cy="54.3" r="1.5"/><circle cx="54.2" cy="22.9" r="1.1"/><circle cx="136.9" cy="61.0" r="1.6"/><circle cx="138.7" cy="71.8" r="1.6"/><circle cx="131.3" cy="57.7" r="1.8"/><circle cx="94.5" cy="74.3" r="1.6"/><circle cx="129.8" cy="101.7" r="1.7"/><circle cx="178.5" cy="78.4" r="1.0"/><circle cx="125.0" cy="9.3" r="1.5"/><circle cx="36.5" cy="82.9" r="1.6"/><circle cx="113.0" cy="103.6" r="1.1"/><circle cx="93.6" cy="65.4" r="1.8"/><circle cx="83.7" cy="59.0" r="1.2"/><circle cx="147.9" cy="41.6" r="1.2"/><circle cx="147.1" cy="66.3" r="1.1"/><circle cx="63.6" cy="19.2" r="1.4"/><circle cx="172.3" cy="95.4" r="1.5"/><circle cx="170.4" cy="90.0" r="1.5"/><circle cx="150.2" cy="36.5" r="0.8"/><circle cx="59.8" cy="25.6" r="1.6"/><circle cx="86.1" cy="55.7" r="0.9"/><circle cx="103.0" cy="66.8" r="1.1"/><circle cx="177.3" cy="30.0" r="0.8"/><circle cx="100.7" cy="46.0" r="1.3"/><circle cx="155.3" cy="73.3" r="1.3"/><circle cx="78.9" cy="31.3" r="0.9"/><circle cx="112.8" cy="21.7" r="1.8"/><circle cx="84.4" cy="10.6" r="1.3"/><circle cx="91.5" cy="83.3" r="0.9"/><circle cx="159.7" cy="34.7" r="1.0"/><circle cx="49.3" cy="82.5" r="1.8"/><circle cx="34.4" cy="105.1" r="1.7"/><circle cx="145.7" cy="42.4" r="1.1"/><circle cx="136.7" cy="96.3" r="1.5"/><circle cx="162.6" cy="38.7" r="1.4"/><circle cx="87.8" cy="68.8" r="0.8"/><circle cx="55.4" cy="107.9" r="1.2"/><circle cx="103.7" cy="36.7" r="2.0"/><circle cx="95.5" cy="46.5" r="1.1"/><circle cx="79.1" cy="96.3" r="1.8"/><circle cx="35.3" cy="33.7" r="1.9"/><circle cx="96.2" cy="72.9" r="2.0"/><circle cx="133.2" cy="85.9" r="0.9"/><circle cx="57.3" cy="76.3" r="1.2"/><circle cx="84.2" cy="26.2" r="2.0"/><circle cx="100.2" cy="43.1" r="1.3"/><circle cx="169.2" cy="25.1" r="1.2"/><circle cx="154.9" cy="67.1" r="1.7"/><circle cx="131.6" cy="10.3" r="1.2"/><circle cx="44.7" cy="107.3" r="1.3"/><circle cx="37.9" cy="81.3" r="1.8"/><circle cx="111.5" cy="32.9" r="0.9"/><circle cx="134.6" cy="54.1" r="0.9"/><circle cx="126.2" cy="73.3" r="1.9"/><circle cx="79.5" cy="26.0" r="1.8"/><circle cx="65.3" cy="20.8" r="1.9"/><circle cx="157.2" cy="90.3" r="1.3"/><circle cx="42.1" cy="12.2" r="1.7"/><circle cx="122.6" cy="92.8" r="0.9"/><circle cx="121.0" cy="38.0" r="1.5"/><circle cx="102.2" cy="75.4" r="1.2"/><circle cx="122.8" cy="99.4" r="1.5"/><circle cx="48.1" cy="105.0" r="1.6"/><circle cx="149.2" cy="26.1" r="1.5"/></g>
</g>
<rect x="182.70" y="5.30" width="148.90" height="108.50" fill="#123619"/>
<g clip-path="url(#gfpclip)" opacity="0.8">
<g fill="#1c4a24"><circle cx="311.8" cy="63.5" r="1.7"/><circle cx="255.1" cy="57.8" r="0.7"/><circle cx="303.6" cy="83.4" r="1.2"/><circle cx="189.0" cy="65.9" r="1.9"/><circle cx="237.0" cy="36.6" r="1.9"/><circle cx="300.3" cy="21.8" r="0.8"/><circle cx="286.8" cy="77.5" r="2.0"/><circle cx="329.5" cy="22.8" r="1.0"/><circle cx="282.0" cy="49.5" r="1.3"/><circle cx="328.2" cy="44.5" r="1.9"/><circle cx="283.1" cy="42.5" r="0.8"/><circle cx="300.3" cy="16.2" r="1.6"/><circle cx="256.2" cy="69.8" r="1.1"/><circle cx="204.8" cy="87.6" r="0.8"/><circle cx="236.8" cy="43.1" r="1.7"/><circle cx="217.6" cy="72.0" r="1.9"/><circle cx="295.4" cy="88.5" r="1.2"/><circle cx="297.6" cy="32.5" r="2.2"/><circle cx="215.1" cy="102.8" r="2.1"/><circle cx="280.4" cy="8.6" r="1.9"/><circle cx="282.4" cy="43.8" r="1.0"/><circle cx="247.3" cy="31.3" r="1.0"/><circle cx="246.1" cy="36.3" r="2.0"/><circle cx="215.6" cy="66.8" r="0.9"/><circle cx="304.1" cy="36.7" r="1.2"/><circle cx="271.2" cy="54.6" r="1.6"/><circle cx="214.6" cy="99.8" r="1.2"/><circle cx="189.5" cy="60.0" r="1.0"/><circle cx="264.1" cy="79.5" r="2.2"/><circle cx="245.2" cy="109.2" r="1.3"/><circle cx="285.3" cy="83.6" r="2.2"/><circle cx="213.0" cy="19.2" r="2.0"/><circle cx="308.6" cy="60.6" r="1.6"/><circle cx="218.2" cy="73.1" r="1.8"/><circle cx="300.4" cy="76.7" r="2.1"/><circle cx="206.3" cy="76.5" r="1.0"/><circle cx="236.1" cy="91.3" r="1.5"/><circle cx="280.7" cy="35.9" r="1.1"/><circle cx="285.5" cy="54.2" r="1.4"/><circle cx="256.0" cy="16.3" r="0.9"/><circle cx="294.4" cy="46.8" r="1.5"/><circle cx="270.5" cy="55.6" r="1.4"/><circle cx="248.2" cy="58.6" r="1.5"/><circle cx="189.9" cy="78.4" r="1.5"/><circle cx="240.6" cy="55.3" r="0.8"/><circle cx="307.8" cy="29.6" r="1.4"/><circle cx="240.0" cy="76.7" r="1.1"/><circle cx="304.2" cy="10.7" r="1.0"/><circle cx="202.2" cy="21.4" r="2.0"/><circle cx="282.5" cy="38.0" r="1.0"/><circle cx="244.5" cy="76.2" r="1.1"/><circle cx="203.5" cy="23.8" r="1.4"/><circle cx="194.6" cy="58.4" r="0.7"/><circle cx="256.5" cy="104.6" r="0.8"/><circle cx="224.9" cy="38.8" r="1.6"/><circle cx="196.9" cy="21.7" r="1.1"/><circle cx="321.5" cy="41.8" r="2.0"/><circle cx="186.2" cy="106.0" r="1.4"/><circle cx="219.6" cy="88.4" r="1.5"/><circle cx="190.0" cy="71.9" r="1.7"/><circle cx="318.4" cy="8.1" r="2.1"/><circle cx="232.3" cy="109.5" r="2.2"/><circle cx="310.5" cy="12.3" r="1.2"/><circle cx="301.3" cy="58.7" r="1.9"/><circle cx="208.0" cy="47.5" r="1.7"/><circle cx="322.1" cy="19.2" r="2.2"/><circle cx="212.9" cy="55.1" r="1.1"/><circle cx="227.9" cy="70.4" r="2.1"/><circle cx="233.0" cy="29.4" r="1.2"/><circle cx="323.8" cy="45.0" r="1.0"/><circle cx="273.1" cy="100.9" r="1.3"/><circle cx="282.7" cy="110.4" r="1.8"/><circle cx="281.3" cy="15.0" r="1.6"/><circle cx="245.4" cy="109.7" r="1.7"/><circle cx="236.6" cy="101.8" r="1.2"/><circle cx="316.5" cy="68.7" r="2.2"/><circle cx="314.1" cy="56.8" r="1.6"/><circle cx="319.2" cy="72.4" r="1.5"/><circle cx="224.7" cy="63.2" r="1.7"/><circle cx="288.7" cy="48.5" r="1.9"/><circle cx="311.8" cy="17.1" r="1.6"/><circle cx="285.0" cy="88.3" r="1.3"/><circle cx="292.4" cy="42.9" r="1.3"/><circle cx="203.5" cy="42.6" r="0.8"/><circle cx="202.2" cy="36.7" r="0.8"/><circle cx="236.5" cy="80.4" r="0.8"/><circle cx="323.3" cy="29.9" r="1.4"/><circle cx="204.3" cy="35.9" r="0.8"/><circle cx="215.8" cy="90.3" r="1.0"/><circle cx="297.6" cy="10.0" r="1.5"/><circle cx="194.4" cy="57.2" r="0.9"/><circle cx="296.9" cy="28.1" r="1.8"/><circle cx="309.3" cy="45.2" r="2.0"/><circle cx="328.6" cy="102.7" r="1.9"/><circle cx="290.0" cy="23.9" r="2.0"/><circle cx="261.6" cy="9.9" r="1.9"/><circle cx="198.3" cy="99.1" r="2.1"/><circle cx="309.8" cy="110.9" r="1.8"/><circle cx="285.0" cy="56.5" r="0.9"/><circle cx="316.6" cy="28.0" r="0.7"/><circle cx="258.8" cy="18.1" r="1.9"/><circle cx="185.1" cy="85.2" r="0.7"/><circle cx="197.7" cy="83.7" r="2.0"/><circle cx="283.7" cy="87.6" r="1.0"/><circle cx="281.8" cy="21.2" r="2.1"/><circle cx="312.2" cy="25.9" r="2.1"/><circle cx="221.3" cy="21.1" r="1.9"/><circle cx="234.9" cy="41.1" r="0.8"/><circle cx="207.8" cy="106.4" r="1.7"/><circle cx="295.3" cy="94.9" r="2.2"/><circle cx="187.1" cy="31.2" r="2.0"/><circle cx="300.0" cy="62.9" r="0.9"/><circle cx="191.8" cy="76.7" r="1.1"/><circle cx="325.6" cy="79.2" r="1.1"/><circle cx="249.7" cy="101.5" r="1.1"/><circle cx="222.4" cy="11.8" r="1.4"/><circle cx="311.4" cy="102.5" r="0.9"/><circle cx="188.3" cy="53.0" r="0.9"/><circle cx="265.1" cy="58.7" r="1.3"/><circle cx="254.0" cy="25.3" r="1.0"/><circle cx="192.9" cy="27.0" r="1.1"/><circle cx="253.7" cy="56.2" r="2.1"/><circle cx="196.0" cy="29.8" r="0.8"/><circle cx="253.6" cy="60.7" r="2.1"/><circle cx="305.8" cy="28.2" r="2.2"/><circle cx="267.0" cy="87.9" r="1.1"/><circle cx="184.0" cy="70.8" r="1.1"/><circle cx="245.3" cy="62.6" r="2.0"/><circle cx="280.8" cy="81.1" r="1.6"/><circle cx="219.6" cy="76.1" r="1.6"/><circle cx="238.0" cy="61.8" r="1.5"/><circle cx="309.5" cy="107.4" r="1.7"/><circle cx="282.1" cy="91.0" r="0.7"/><circle cx="252.0" cy="41.0" r="2.2"/><circle cx="197.0" cy="109.0" r="1.5"/><circle cx="268.2" cy="44.3" r="1.8"/><circle cx="295.9" cy="38.6" r="1.1"/><circle cx="193.5" cy="54.8" r="1.7"/><circle cx="244.2" cy="65.9" r="0.7"/><circle cx="209.3" cy="25.3" r="2.1"/><circle cx="234.9" cy="37.6" r="1.8"/><circle cx="301.6" cy="85.9" r="2.0"/><circle cx="240.2" cy="82.3" r="1.0"/><circle cx="211.9" cy="81.3" r="1.9"/><circle cx="302.9" cy="72.4" r="1.9"/><circle cx="215.5" cy="95.2" r="1.4"/><circle cx="315.2" cy="20.8" r="0.8"/><circle cx="288.5" cy="84.3" r="0.7"/><circle cx="291.2" cy="20.6" r="1.0"/><circle cx="315.3" cy="107.0" r="1.2"/><circle cx="321.6" cy="8.3" r="1.7"/><circle cx="234.4" cy="95.6" r="2.0"/><circle cx="263.2" cy="102.7" r="1.9"/><circle cx="264.0" cy="54.8" r="1.2"/><circle cx="309.5" cy="74.2" r="1.2"/><circle cx="269.8" cy="94.1" r="1.5"/><circle cx="246.7" cy="16.7" r="1.5"/><circle cx="259.2" cy="85.2" r="0.9"/><circle cx="247.3" cy="47.0" r="1.8"/><circle cx="281.6" cy="22.0" r="2.1"/><circle cx="271.9" cy="34.2" r="1.1"/><circle cx="215.6" cy="73.0" r="0.8"/><circle cx="298.3" cy="63.5" r="1.0"/><circle cx="326.5" cy="82.8" r="0.9"/><circle cx="288.0" cy="81.6" r="1.1"/><circle cx="248.6" cy="16.1" r="0.8"/><circle cx="277.3" cy="111.7" r="1.2"/><circle cx="289.4" cy="111.6" r="1.0"/><circle cx="230.1" cy="60.0" r="1.0"/><circle cx="306.6" cy="87.7" r="1.6"/><circle cx="291.2" cy="42.2" r="1.8"/><circle cx="264.0" cy="11.4" r="1.9"/><circle cx="235.8" cy="73.1" r="2.1"/><circle cx="260.1" cy="9.1" r="1.5"/><circle cx="221.2" cy="71.0" r="1.5"/><circle cx="226.0" cy="59.0" r="2.1"/><circle cx="187.2" cy="27.3" r="0.8"/><circle cx="204.5" cy="39.7" r="1.0"/><circle cx="299.9" cy="72.7" r="1.7"/><circle cx="261.4" cy="78.5" r="0.8"/><circle cx="263.9" cy="99.9" r="0.7"/><circle cx="312.7" cy="70.1" r="1.2"/><circle cx="258.7" cy="22.5" r="0.8"/><circle cx="265.9" cy="22.0" r="1.0"/><circle cx="206.9" cy="74.8" r="1.5"/><circle cx="319.6" cy="71.6" r="1.2"/><circle cx="231.6" cy="74.5" r="1.5"/><circle cx="273.2" cy="23.6" r="2.0"/><circle cx="323.0" cy="97.1" r="2.2"/><circle cx="319.8" cy="86.5" r="0.9"/><circle cx="246.4" cy="105.0" r="0.8"/><circle cx="310.1" cy="49.1" r="2.1"/><circle cx="323.9" cy="11.9" r="2.0"/><circle cx="291.6" cy="105.4" r="1.2"/><circle cx="248.9" cy="9.7" r="0.8"/><circle cx="314.4" cy="10.6" r="1.4"/><circle cx="311.9" cy="15.5" r="1.1"/><circle cx="320.2" cy="26.5" r="0.9"/><circle cx="233.1" cy="24.2" r="2.1"/><circle cx="216.3" cy="102.2" r="1.6"/><circle cx="193.2" cy="47.2" r="1.6"/><circle cx="283.6" cy="85.2" r="1.0"/><circle cx="207.4" cy="78.8" r="1.5"/><circle cx="313.9" cy="103.1" r="2.0"/><circle cx="254.2" cy="104.6" r="1.0"/><circle cx="187.9" cy="69.6" r="1.7"/><circle cx="207.7" cy="22.9" r="0.9"/><circle cx="198.0" cy="59.1" r="1.4"/><circle cx="219.3" cy="16.7" r="1.4"/><circle cx="259.0" cy="104.5" r="1.6"/><circle cx="247.3" cy="76.4" r="0.8"/><circle cx="318.3" cy="17.5" r="1.5"/><circle cx="302.1" cy="37.7" r="2.1"/><circle cx="314.2" cy="20.3" r="0.8"/><circle cx="327.8" cy="82.5" r="1.9"/><circle cx="329.5" cy="40.4" r="2.1"/><circle cx="224.5" cy="59.8" r="1.5"/><circle cx="224.3" cy="87.9" r="1.8"/><circle cx="238.7" cy="57.0" r="1.8"/><circle cx="258.6" cy="46.4" r="1.1"/><circle cx="291.1" cy="28.8" r="1.1"/><circle cx="211.2" cy="17.7" r="1.0"/><circle cx="190.3" cy="20.8" r="1.2"/><circle cx="189.4" cy="25.2" r="0.8"/><circle cx="239.4" cy="8.2" r="1.3"/><circle cx="217.8" cy="17.3" r="1.8"/><circle cx="186.2" cy="31.0" r="1.2"/><circle cx="302.3" cy="35.3" r="1.9"/><circle cx="252.3" cy="8.4" r="1.7"/><circle cx="217.3" cy="72.6" r="1.9"/><circle cx="197.7" cy="16.6" r="1.3"/><circle cx="271.9" cy="65.7" r="1.1"/><circle cx="232.0" cy="95.7" r="1.2"/><circle cx="207.6" cy="76.6" r="1.7"/><circle cx="283.6" cy="77.9" r="1.4"/><circle cx="286.5" cy="87.9" r="1.7"/><circle cx="229.8" cy="64.8" r="0.9"/><circle cx="283.1" cy="64.3" r="1.6"/><circle cx="223.1" cy="95.8" r="1.0"/><circle cx="316.2" cy="98.4" r="2.2"/><circle cx="309.8" cy="22.1" r="1.7"/><circle cx="234.8" cy="57.9" r="1.6"/><circle cx="207.4" cy="59.1" r="2.1"/><circle cx="239.0" cy="67.8" r="1.0"/><circle cx="301.9" cy="98.6" r="1.2"/><circle cx="310.0" cy="89.6" r="1.7"/><circle cx="252.2" cy="94.6" r="1.8"/><circle cx="314.9" cy="40.4" r="1.7"/><circle cx="327.1" cy="98.5" r="1.4"/><circle cx="278.3" cy="17.7" r="1.4"/><circle cx="228.8" cy="33.5" r="1.9"/><circle cx="212.8" cy="28.6" r="1.1"/><circle cx="232.1" cy="18.4" r="1.7"/><circle cx="294.5" cy="50.2" r="2.1"/><circle cx="216.7" cy="50.9" r="1.6"/><circle cx="258.8" cy="53.3" r="1.4"/><circle cx="261.5" cy="86.5" r="1.1"/><circle cx="276.8" cy="105.0" r="0.9"/><circle cx="279.9" cy="76.1" r="0.7"/><circle cx="202.7" cy="77.4" r="1.1"/><circle cx="201.2" cy="55.7" r="1.4"/><circle cx="231.0" cy="74.9" r="1.9"/><circle cx="315.0" cy="32.0" r="1.5"/><circle cx="195.9" cy="71.5" r="1.7"/><circle cx="272.2" cy="14.4" r="1.1"/><circle cx="246.5" cy="67.1" r="1.0"/><circle cx="224.0" cy="110.0" r="2.0"/><circle cx="302.2" cy="65.6" r="0.8"/><circle cx="261.2" cy="51.1" r="2.0"/><circle cx="324.9" cy="88.6" r="2.2"/><circle cx="288.4" cy="105.6" r="2.0"/><circle cx="314.3" cy="62.7" r="1.4"/><circle cx="322.6" cy="30.1" r="1.4"/></g>
<g fill="#235c2c"><circle cx="223.2" cy="53.6" r="0.7"/><circle cx="314.5" cy="68.9" r="0.8"/><circle cx="233.9" cy="45.1" r="2.0"/><circle cx="254.3" cy="45.6" r="1.1"/><circle cx="225.3" cy="59.7" r="0.8"/><circle cx="305.9" cy="23.5" r="0.7"/><circle cx="320.3" cy="87.8" r="2.1"/><circle cx="297.0" cy="53.1" r="1.4"/><circle cx="206.0" cy="84.3" r="0.8"/><circle cx="193.4" cy="18.6" r="2.1"/><circle cx="235.0" cy="29.6" r="2.2"/><circle cx="234.8" cy="68.9" r="1.6"/><circle cx="193.6" cy="86.5" r="1.2"/><circle cx="261.0" cy="92.4" r="1.1"/><circle cx="209.5" cy="61.3" r="0.7"/><circle cx="213.3" cy="66.9" r="0.8"/><circle cx="264.4" cy="85.5" r="2.0"/><circle cx="329.7" cy="92.8" r="2.0"/><circle cx="230.8" cy="27.0" r="2.2"/><circle cx="269.2" cy="45.4" r="1.9"/><circle cx="273.2" cy="49.6" r="1.8"/><circle cx="306.8" cy="22.9" r="1.9"/><circle cx="226.5" cy="75.8" r="1.7"/><circle cx="268.7" cy="17.6" r="0.7"/><circle cx="262.2" cy="60.2" r="1.3"/><circle cx="225.4" cy="65.3" r="2.2"/><circle cx="314.0" cy="15.9" r="1.6"/><circle cx="298.8" cy="10.4" r="1.9"/><circle cx="316.6" cy="85.9" r="1.7"/><circle cx="197.5" cy="82.3" r="1.2"/><circle cx="301.1" cy="85.8" r="2.0"/><circle cx="253.4" cy="50.1" r="1.1"/><circle cx="185.3" cy="96.6" r="0.9"/><circle cx="240.3" cy="108.2" r="1.1"/><circle cx="277.0" cy="88.8" r="1.2"/><circle cx="233.2" cy="97.8" r="1.8"/><circle cx="193.8" cy="7.3" r="1.6"/><circle cx="298.6" cy="78.4" r="2.0"/><circle cx="320.7" cy="108.3" r="1.5"/><circle cx="326.2" cy="67.6" r="1.8"/><circle cx="325.5" cy="99.4" r="1.6"/><circle cx="248.0" cy="27.8" r="1.8"/><circle cx="289.5" cy="82.5" r="0.8"/><circle cx="276.0" cy="34.7" r="1.2"/><circle cx="265.7" cy="55.5" r="1.9"/><circle cx="271.5" cy="13.6" r="1.1"/><circle cx="184.7" cy="66.4" r="1.8"/><circle cx="191.1" cy="32.2" r="2.1"/><circle cx="288.3" cy="52.3" r="0.9"/><circle cx="305.5" cy="10.2" r="1.9"/><circle cx="239.6" cy="87.3" r="1.0"/><circle cx="313.4" cy="87.1" r="2.0"/><circle cx="201.5" cy="110.3" r="1.4"/><circle cx="282.2" cy="29.3" r="2.1"/><circle cx="219.1" cy="19.7" r="2.1"/><circle cx="313.4" cy="13.0" r="1.1"/><circle cx="194.3" cy="86.1" r="1.0"/><circle cx="195.1" cy="101.2" r="1.6"/><circle cx="286.4" cy="13.0" r="1.7"/><circle cx="233.6" cy="86.9" r="2.1"/><circle cx="221.7" cy="12.8" r="0.8"/><circle cx="194.5" cy="56.6" r="0.8"/><circle cx="207.9" cy="62.8" r="1.9"/><circle cx="302.4" cy="86.7" r="1.3"/><circle cx="199.6" cy="92.4" r="1.2"/><circle cx="205.7" cy="96.7" r="1.2"/><circle cx="276.8" cy="100.2" r="1.8"/><circle cx="279.8" cy="47.0" r="2.0"/><circle cx="194.3" cy="14.1" r="1.8"/><circle cx="249.1" cy="8.2" r="2.1"/><circle cx="251.4" cy="66.8" r="0.7"/><circle cx="308.3" cy="82.0" r="1.8"/><circle cx="258.6" cy="104.9" r="1.5"/><circle cx="206.4" cy="53.0" r="0.7"/><circle cx="209.6" cy="70.3" r="2.1"/><circle cx="265.7" cy="50.6" r="1.2"/><circle cx="243.9" cy="71.9" r="1.2"/><circle cx="280.8" cy="84.2" r="2.1"/><circle cx="270.1" cy="78.1" r="1.2"/><circle cx="275.9" cy="81.4" r="1.0"/><circle cx="189.7" cy="41.4" r="1.7"/><circle cx="287.1" cy="25.4" r="1.0"/><circle cx="313.4" cy="45.6" r="2.1"/><circle cx="263.9" cy="40.0" r="0.7"/><circle cx="281.1" cy="25.4" r="1.0"/><circle cx="193.4" cy="8.0" r="1.5"/><circle cx="259.2" cy="76.6" r="1.8"/><circle cx="281.7" cy="78.8" r="2.1"/><circle cx="270.1" cy="93.6" r="0.7"/><circle cx="328.3" cy="102.1" r="1.0"/><circle cx="200.1" cy="85.4" r="1.1"/><circle cx="240.2" cy="46.0" r="1.2"/><circle cx="236.4" cy="101.5" r="1.1"/><circle cx="186.2" cy="13.1" r="1.3"/><circle cx="328.9" cy="12.1" r="2.2"/><circle cx="297.7" cy="53.9" r="1.7"/><circle cx="201.9" cy="96.0" r="1.7"/><circle cx="211.9" cy="49.5" r="1.0"/><circle cx="184.5" cy="30.4" r="1.3"/><circle cx="232.9" cy="35.0" r="1.7"/><circle cx="216.3" cy="106.6" r="1.1"/><circle cx="207.6" cy="53.0" r="1.0"/><circle cx="328.3" cy="110.6" r="1.3"/><circle cx="237.4" cy="110.3" r="1.7"/><circle cx="300.9" cy="63.9" r="0.8"/><circle cx="285.3" cy="34.2" r="1.7"/><circle cx="270.4" cy="79.3" r="1.5"/><circle cx="322.6" cy="9.5" r="1.6"/><circle cx="239.0" cy="91.7" r="1.9"/><circle cx="225.1" cy="85.2" r="1.9"/><circle cx="292.8" cy="99.0" r="1.2"/><circle cx="206.8" cy="87.3" r="1.3"/><circle cx="252.9" cy="60.2" r="1.9"/><circle cx="306.8" cy="23.9" r="1.6"/><circle cx="298.0" cy="39.2" r="1.8"/><circle cx="191.2" cy="29.6" r="2.1"/><circle cx="221.8" cy="58.3" r="0.9"/><circle cx="227.1" cy="90.5" r="1.7"/><circle cx="187.7" cy="83.0" r="1.3"/><circle cx="239.9" cy="52.7" r="1.0"/><circle cx="190.2" cy="54.1" r="2.0"/><circle cx="288.5" cy="9.0" r="1.3"/><circle cx="216.5" cy="15.6" r="0.8"/><circle cx="289.3" cy="36.2" r="1.4"/><circle cx="301.0" cy="21.2" r="1.5"/><circle cx="286.7" cy="44.8" r="1.7"/><circle cx="267.2" cy="61.1" r="1.0"/><circle cx="271.8" cy="110.3" r="2.0"/><circle cx="307.3" cy="77.3" r="1.0"/><circle cx="199.0" cy="23.3" r="1.8"/></g>
<g fill="#3a8f3e"><circle cx="189.2" cy="26.1" r="1.9"/><circle cx="271.6" cy="95.5" r="2.2"/><circle cx="267.1" cy="62.5" r="2.1"/><circle cx="289.1" cy="33.5" r="1.6"/><circle cx="194.7" cy="92.7" r="1.6"/><circle cx="311.5" cy="9.7" r="1.2"/><circle cx="328.2" cy="12.9" r="1.6"/><circle cx="237.4" cy="22.7" r="1.0"/><circle cx="243.8" cy="103.5" r="2.1"/><circle cx="309.6" cy="10.2" r="0.7"/><circle cx="251.8" cy="48.7" r="1.3"/><circle cx="312.7" cy="91.4" r="2.0"/><circle cx="250.5" cy="67.7" r="1.4"/><circle cx="273.5" cy="78.1" r="1.2"/><circle cx="222.7" cy="102.4" r="1.4"/><circle cx="219.3" cy="94.6" r="0.8"/><circle cx="226.4" cy="89.0" r="2.1"/><circle cx="279.2" cy="104.9" r="1.7"/><circle cx="250.6" cy="81.2" r="1.7"/><circle cx="312.2" cy="13.1" r="1.4"/><circle cx="291.6" cy="24.2" r="1.0"/><circle cx="284.1" cy="23.3" r="0.8"/><circle cx="241.2" cy="10.5" r="1.3"/><circle cx="251.8" cy="83.5" r="1.3"/><circle cx="242.6" cy="11.1" r="1.2"/><circle cx="189.8" cy="67.8" r="1.3"/><circle cx="290.2" cy="84.1" r="1.2"/><circle cx="296.4" cy="28.4" r="2.1"/><circle cx="258.9" cy="85.5" r="1.6"/><circle cx="241.2" cy="89.3" r="1.9"/><circle cx="217.3" cy="77.6" r="1.9"/><circle cx="222.9" cy="38.1" r="1.2"/><circle cx="276.3" cy="46.5" r="1.5"/><circle cx="192.7" cy="75.7" r="1.4"/><circle cx="326.5" cy="13.0" r="2.0"/><circle cx="322.7" cy="74.1" r="1.4"/><circle cx="208.2" cy="25.5" r="1.8"/><circle cx="319.8" cy="47.0" r="1.1"/><circle cx="304.8" cy="18.6" r="1.0"/><circle cx="326.1" cy="85.5" r="2.1"/><circle cx="245.0" cy="94.7" r="1.7"/><circle cx="322.0" cy="110.0" r="1.4"/><circle cx="250.6" cy="68.5" r="1.7"/><circle cx="317.4" cy="87.0" r="1.6"/><circle cx="191.8" cy="56.4" r="1.3"/><circle cx="253.9" cy="107.4" r="1.8"/><circle cx="280.6" cy="71.6" r="1.4"/><circle cx="258.0" cy="94.9" r="1.0"/><circle cx="273.5" cy="16.1" r="1.5"/><circle cx="250.5" cy="49.8" r="1.6"/><circle cx="320.0" cy="61.5" r="1.9"/><circle cx="273.1" cy="71.5" r="0.9"/><circle cx="324.8" cy="74.5" r="1.6"/><circle cx="194.9" cy="65.5" r="1.8"/><circle cx="243.7" cy="79.4" r="1.4"/><circle cx="207.1" cy="76.2" r="1.6"/><circle cx="263.2" cy="25.5" r="1.3"/><circle cx="278.0" cy="79.1" r="0.7"/><circle cx="218.2" cy="59.4" r="1.6"/><circle cx="292.1" cy="97.0" r="1.3"/><circle cx="210.5" cy="30.8" r="1.6"/><circle cx="269.2" cy="105.6" r="1.3"/><circle cx="313.7" cy="76.5" r="2.0"/><circle cx="324.4" cy="101.5" r="1.0"/><circle cx="229.9" cy="92.2" r="1.7"/><circle cx="282.7" cy="23.9" r="1.3"/><circle cx="295.9" cy="94.7" r="1.7"/><circle cx="221.7" cy="51.5" r="1.5"/><circle cx="212.1" cy="26.3" r="2.2"/><circle cx="296.6" cy="93.8" r="1.8"/><circle cx="300.0" cy="39.5" r="1.2"/><circle cx="191.2" cy="60.9" r="0.9"/><circle cx="298.6" cy="82.4" r="2.0"/><circle cx="308.4" cy="105.5" r="1.3"/><circle cx="274.3" cy="18.0" r="1.4"/><circle cx="219.0" cy="47.6" r="1.9"/><circle cx="201.1" cy="34.3" r="1.8"/><circle cx="188.0" cy="60.8" r="1.9"/><circle cx="290.5" cy="96.1" r="1.7"/><circle cx="303.3" cy="74.6" r="0.8"/><circle cx="204.3" cy="105.5" r="1.8"/><circle cx="251.4" cy="85.6" r="2.0"/><circle cx="214.4" cy="45.0" r="1.2"/><circle cx="292.7" cy="91.2" r="1.0"/><circle cx="213.5" cy="38.7" r="1.2"/><circle cx="265.9" cy="90.5" r="1.0"/><circle cx="184.8" cy="42.7" r="1.8"/><circle cx="323.0" cy="72.1" r="0.9"/><circle cx="249.1" cy="57.7" r="0.7"/><circle cx="244.5" cy="77.3" r="1.6"/><circle cx="211.9" cy="111.3" r="1.0"/><circle cx="299.1" cy="93.2" r="2.2"/><circle cx="256.1" cy="82.8" r="1.0"/><circle cx="285.1" cy="75.0" r="1.1"/><circle cx="285.2" cy="61.1" r="1.2"/><circle cx="323.6" cy="77.9" r="1.3"/><circle cx="329.1" cy="111.3" r="1.6"/><circle cx="246.7" cy="57.0" r="0.8"/><circle cx="228.6" cy="41.1" r="2.1"/><circle cx="233.0" cy="17.8" r="1.8"/><circle cx="197.4" cy="83.2" r="2.0"/><circle cx="265.6" cy="105.1" r="1.4"/><circle cx="243.8" cy="52.9" r="1.6"/><circle cx="233.2" cy="18.4" r="1.9"/><circle cx="230.9" cy="20.3" r="0.8"/><circle cx="236.7" cy="34.1" r="1.0"/><circle cx="250.8" cy="94.4" r="1.3"/><circle cx="321.3" cy="94.5" r="1.7"/><circle cx="218.8" cy="26.2" r="1.2"/><circle cx="207.3" cy="37.7" r="1.1"/><circle cx="305.3" cy="65.0" r="1.6"/><circle cx="315.0" cy="80.6" r="1.0"/><circle cx="254.1" cy="13.8" r="1.7"/><circle cx="318.0" cy="30.4" r="1.1"/><circle cx="243.3" cy="100.6" r="1.3"/><circle cx="329.3" cy="60.4" r="0.9"/><circle cx="252.6" cy="20.8" r="1.2"/><circle cx="266.2" cy="109.5" r="1.5"/><circle cx="200.8" cy="60.4" r="1.5"/><circle cx="280.5" cy="18.0" r="1.4"/><circle cx="241.1" cy="51.6" r="1.3"/><circle cx="266.0" cy="109.5" r="1.1"/></g>
<g fill="#2f7538"><circle cx="307.4" cy="48.3" r="2.0"/><circle cx="240.6" cy="44.1" r="0.7"/><circle cx="254.6" cy="30.8" r="1.1"/><circle cx="320.9" cy="42.7" r="2.1"/><circle cx="215.9" cy="49.0" r="1.0"/><circle cx="310.7" cy="9.8" r="1.4"/><circle cx="320.8" cy="72.6" r="0.9"/><circle cx="257.3" cy="65.3" r="1.0"/><circle cx="311.3" cy="33.2" r="1.2"/><circle cx="260.7" cy="7.3" r="1.0"/><circle cx="292.8" cy="35.2" r="1.3"/><circle cx="188.9" cy="82.2" r="1.3"/><circle cx="260.4" cy="91.2" r="1.1"/><circle cx="235.4" cy="47.5" r="1.6"/><circle cx="185.4" cy="31.4" r="1.0"/><circle cx="220.3" cy="46.9" r="1.4"/><circle cx="221.5" cy="28.2" r="0.8"/><circle cx="229.9" cy="63.0" r="1.3"/><circle cx="226.6" cy="81.6" r="1.9"/><circle cx="271.1" cy="25.9" r="2.1"/><circle cx="207.2" cy="88.6" r="1.8"/><circle cx="218.0" cy="68.1" r="1.2"/><circle cx="289.0" cy="39.5" r="1.1"/><circle cx="318.8" cy="111.6" r="2.1"/><circle cx="312.3" cy="19.3" r="1.4"/><circle cx="263.0" cy="41.0" r="1.1"/><circle cx="245.9" cy="72.5" r="0.9"/><circle cx="228.3" cy="15.8" r="1.8"/><circle cx="292.8" cy="94.4" r="1.9"/><circle cx="211.3" cy="100.4" r="1.3"/><circle cx="230.5" cy="99.0" r="1.9"/><circle cx="211.7" cy="94.2" r="0.9"/><circle cx="201.4" cy="46.6" r="1.2"/><circle cx="261.7" cy="80.3" r="1.2"/><circle cx="206.1" cy="77.5" r="1.8"/><circle cx="288.0" cy="88.0" r="1.6"/><circle cx="270.2" cy="69.5" r="0.7"/><circle cx="269.4" cy="49.0" r="1.5"/><circle cx="315.0" cy="109.5" r="2.0"/><circle cx="203.5" cy="8.4" r="1.0"/><circle cx="196.6" cy="88.9" r="1.0"/><circle cx="262.0" cy="14.5" r="1.2"/><circle cx="297.2" cy="11.6" r="1.5"/><circle cx="198.1" cy="22.0" r="1.5"/><circle cx="317.8" cy="7.2" r="2.0"/><circle cx="278.6" cy="16.0" r="1.5"/><circle cx="231.6" cy="91.4" r="0.7"/><circle cx="262.4" cy="108.4" r="0.9"/><circle cx="197.4" cy="98.0" r="1.7"/><circle cx="327.5" cy="47.2" r="1.7"/><circle cx="258.4" cy="57.8" r="1.0"/><circle cx="192.7" cy="52.3" r="0.8"/><circle cx="200.5" cy="60.5" r="2.0"/><circle cx="270.0" cy="27.8" r="0.7"/><circle cx="325.6" cy="22.6" r="1.2"/><circle cx="203.2" cy="98.2" r="1.2"/><circle cx="255.8" cy="26.8" r="2.1"/><circle cx="266.5" cy="21.5" r="1.0"/><circle cx="192.3" cy="31.0" r="0.7"/><circle cx="226.5" cy="74.2" r="1.7"/><circle cx="318.7" cy="21.0" r="2.0"/><circle cx="233.4" cy="19.9" r="1.1"/><circle cx="316.0" cy="56.6" r="2.1"/><circle cx="245.1" cy="93.3" r="2.0"/><circle cx="209.0" cy="22.8" r="1.2"/><circle cx="323.3" cy="39.5" r="1.6"/><circle cx="291.9" cy="44.0" r="2.1"/><circle cx="191.8" cy="12.8" r="1.5"/><circle cx="276.7" cy="53.8" r="0.9"/><circle cx="321.9" cy="56.5" r="1.0"/><circle cx="241.2" cy="23.0" r="2.0"/><circle cx="203.9" cy="102.0" r="2.2"/><circle cx="200.4" cy="24.0" r="1.0"/><circle cx="280.8" cy="42.0" r="1.4"/><circle cx="196.1" cy="50.5" r="1.1"/><circle cx="203.5" cy="46.5" r="2.0"/><circle cx="221.7" cy="89.1" r="1.0"/><circle cx="321.7" cy="111.8" r="1.3"/><circle cx="283.2" cy="12.6" r="2.2"/><circle cx="256.0" cy="35.1" r="1.3"/><circle cx="256.8" cy="36.7" r="1.2"/><circle cx="227.8" cy="108.8" r="1.1"/><circle cx="326.3" cy="16.2" r="1.1"/><circle cx="320.1" cy="35.1" r="2.0"/><circle cx="300.9" cy="23.8" r="1.5"/><circle cx="278.7" cy="51.5" r="1.2"/><circle cx="220.9" cy="17.4" r="2.1"/><circle cx="202.5" cy="79.0" r="1.7"/><circle cx="235.8" cy="65.7" r="2.2"/><circle cx="200.3" cy="35.5" r="1.5"/><circle cx="211.5" cy="9.1" r="1.7"/><circle cx="316.8" cy="31.5" r="1.6"/><circle cx="312.8" cy="19.7" r="1.6"/><circle cx="219.1" cy="96.9" r="1.1"/><circle cx="219.1" cy="73.5" r="1.5"/><circle cx="259.4" cy="110.1" r="1.0"/><circle cx="261.1" cy="19.0" r="1.1"/><circle cx="248.2" cy="94.2" r="1.7"/><circle cx="322.5" cy="76.4" r="1.4"/><circle cx="215.7" cy="107.2" r="1.3"/><circle cx="211.6" cy="17.6" r="1.3"/><circle cx="240.6" cy="22.6" r="1.0"/><circle cx="259.8" cy="65.4" r="2.0"/><circle cx="198.9" cy="91.0" r="1.3"/><circle cx="300.6" cy="16.3" r="0.7"/><circle cx="229.0" cy="33.0" r="2.1"/><circle cx="321.7" cy="34.0" r="1.9"/></g>
<g fill="#2a6a33"><circle cx="259.5" cy="44.9" r="1.5"/><circle cx="190.6" cy="22.3" r="1.7"/><circle cx="240.1" cy="13.7" r="2.2"/><circle cx="228.2" cy="24.7" r="0.8"/><circle cx="319.0" cy="68.4" r="1.2"/><circle cx="289.3" cy="103.8" r="2.0"/><circle cx="277.4" cy="103.9" r="1.0"/><circle cx="265.0" cy="76.0" r="1.6"/><circle cx="264.2" cy="81.2" r="1.5"/><circle cx="265.5" cy="17.5" r="1.9"/><circle cx="308.9" cy="88.8" r="1.5"/><circle cx="206.2" cy="102.8" r="0.9"/><circle cx="286.0" cy="83.5" r="0.8"/><circle cx="290.8" cy="35.7" r="1.0"/><circle cx="231.6" cy="11.3" r="1.4"/><circle cx="184.8" cy="70.8" r="2.1"/><circle cx="231.4" cy="74.9" r="1.5"/><circle cx="235.9" cy="13.7" r="2.2"/><circle cx="308.9" cy="75.5" r="2.1"/><circle cx="243.9" cy="80.8" r="1.3"/><circle cx="237.6" cy="61.7" r="1.1"/><circle cx="228.8" cy="64.2" r="2.1"/><circle cx="248.6" cy="45.6" r="1.8"/><circle cx="325.6" cy="52.3" r="1.6"/><circle cx="212.0" cy="109.0" r="1.8"/><circle cx="328.3" cy="35.8" r="1.1"/><circle cx="258.6" cy="51.1" r="0.8"/><circle cx="321.9" cy="75.9" r="0.8"/><circle cx="235.1" cy="57.5" r="1.2"/><circle cx="203.3" cy="67.7" r="1.2"/><circle cx="291.1" cy="78.3" r="0.9"/><circle cx="312.6" cy="11.0" r="1.5"/><circle cx="252.0" cy="10.4" r="1.2"/><circle cx="238.8" cy="101.1" r="1.3"/><circle cx="250.4" cy="92.0" r="1.1"/><circle cx="259.0" cy="46.6" r="2.1"/><circle cx="322.4" cy="57.7" r="0.7"/><circle cx="329.7" cy="25.2" r="1.6"/><circle cx="268.0" cy="93.7" r="1.9"/><circle cx="207.7" cy="84.5" r="1.0"/><circle cx="325.2" cy="108.0" r="1.0"/><circle cx="242.8" cy="78.6" r="1.2"/><circle cx="281.9" cy="86.0" r="1.1"/><circle cx="244.3" cy="91.8" r="0.9"/><circle cx="261.6" cy="61.7" r="1.7"/><circle cx="268.4" cy="49.4" r="1.6"/><circle cx="286.8" cy="80.9" r="1.6"/><circle cx="301.4" cy="107.9" r="1.2"/><circle cx="233.9" cy="26.9" r="1.3"/><circle cx="266.3" cy="60.3" r="1.0"/><circle cx="279.8" cy="105.4" r="1.0"/><circle cx="327.6" cy="16.4" r="1.1"/><circle cx="295.3" cy="22.5" r="1.6"/><circle cx="232.0" cy="87.9" r="1.9"/><circle cx="193.3" cy="14.0" r="0.7"/><circle cx="312.2" cy="97.4" r="1.4"/><circle cx="199.6" cy="28.9" r="1.2"/><circle cx="269.2" cy="13.5" r="1.1"/><circle cx="308.5" cy="20.7" r="2.1"/><circle cx="198.5" cy="46.6" r="1.3"/><circle cx="290.8" cy="14.8" r="1.4"/><circle cx="237.2" cy="47.7" r="2.0"/><circle cx="326.4" cy="95.1" r="1.2"/><circle cx="253.4" cy="64.5" r="1.3"/><circle cx="316.9" cy="111.8" r="0.9"/><circle cx="195.7" cy="93.0" r="1.9"/><circle cx="247.6" cy="93.1" r="2.2"/><circle cx="287.4" cy="46.9" r="1.4"/><circle cx="202.6" cy="30.4" r="1.0"/><circle cx="245.4" cy="15.2" r="1.6"/><circle cx="220.3" cy="69.2" r="1.9"/><circle cx="222.8" cy="13.7" r="0.8"/><circle cx="228.7" cy="88.3" r="1.2"/><circle cx="220.9" cy="77.2" r="1.0"/><circle cx="238.3" cy="53.9" r="2.1"/><circle cx="202.8" cy="55.9" r="1.6"/><circle cx="280.0" cy="96.5" r="1.7"/><circle cx="281.9" cy="62.7" r="1.8"/><circle cx="230.4" cy="99.5" r="2.1"/><circle cx="233.7" cy="33.2" r="0.9"/><circle cx="313.4" cy="101.8" r="0.7"/><circle cx="252.7" cy="101.5" r="1.8"/><circle cx="264.5" cy="86.8" r="2.0"/><circle cx="258.3" cy="59.5" r="1.0"/><circle cx="286.4" cy="108.5" r="1.3"/><circle cx="275.5" cy="78.2" r="1.3"/><circle cx="231.2" cy="57.4" r="1.4"/><circle cx="319.7" cy="74.1" r="1.4"/><circle cx="222.0" cy="45.9" r="1.3"/><circle cx="302.3" cy="73.0" r="0.7"/><circle cx="326.9" cy="52.6" r="1.3"/><circle cx="286.4" cy="105.6" r="2.0"/><circle cx="311.2" cy="53.4" r="1.8"/><circle cx="294.6" cy="74.7" r="2.0"/><circle cx="215.0" cy="50.7" r="1.4"/><circle cx="254.2" cy="62.7" r="1.0"/><circle cx="256.6" cy="109.3" r="1.2"/><circle cx="250.9" cy="107.5" r="1.4"/><circle cx="266.2" cy="106.6" r="1.7"/><circle cx="319.2" cy="7.6" r="2.0"/><circle cx="221.9" cy="88.3" r="1.8"/><circle cx="243.6" cy="63.3" r="1.1"/><circle cx="206.7" cy="14.4" r="1.5"/><circle cx="285.5" cy="45.5" r="1.8"/><circle cx="206.3" cy="98.8" r="0.8"/><circle cx="298.6" cy="95.1" r="1.5"/><circle cx="259.7" cy="57.7" r="1.2"/><circle cx="246.7" cy="69.8" r="0.8"/><circle cx="305.2" cy="10.3" r="1.1"/><circle cx="290.7" cy="29.4" r="1.4"/><circle cx="287.6" cy="54.8" r="0.8"/><circle cx="247.1" cy="84.2" r="1.1"/><circle cx="285.3" cy="35.6" r="0.8"/><circle cx="310.8" cy="39.1" r="1.9"/><circle cx="310.7" cy="53.1" r="1.3"/><circle cx="206.5" cy="74.3" r="1.8"/><circle cx="225.0" cy="103.8" r="2.0"/><circle cx="218.7" cy="53.3" r="2.2"/><circle cx="243.9" cy="54.8" r="2.1"/><circle cx="214.6" cy="99.1" r="1.2"/><circle cx="192.5" cy="46.5" r="2.0"/><circle cx="291.0" cy="18.7" r="1.1"/><circle cx="305.2" cy="66.5" r="1.8"/><circle cx="222.5" cy="43.6" r="0.9"/><circle cx="196.6" cy="58.4" r="1.1"/><circle cx="187.4" cy="30.7" r="1.2"/><circle cx="200.9" cy="83.8" r="0.8"/><circle cx="206.4" cy="47.9" r="1.6"/><circle cx="206.3" cy="61.5" r="1.3"/><circle cx="267.9" cy="9.2" r="1.4"/><circle cx="197.7" cy="61.2" r="1.2"/><circle cx="242.3" cy="25.3" r="1.7"/><circle cx="223.1" cy="89.7" r="1.4"/><circle cx="327.0" cy="92.3" r="2.2"/></g>
<g fill="#1f5328"><circle cx="213.1" cy="51.8" r="1.6"/><circle cx="235.2" cy="64.8" r="1.3"/><circle cx="315.3" cy="36.0" r="1.1"/><circle cx="294.7" cy="72.8" r="1.1"/><circle cx="291.1" cy="108.1" r="1.6"/><circle cx="204.0" cy="26.8" r="1.5"/><circle cx="260.4" cy="105.8" r="0.9"/><circle cx="206.0" cy="73.0" r="1.3"/><circle cx="251.2" cy="41.0" r="2.1"/><circle cx="329.2" cy="38.2" r="0.7"/><circle cx="318.1" cy="82.2" r="2.0"/><circle cx="269.4" cy="28.1" r="1.6"/><circle cx="205.6" cy="84.5" r="1.5"/><circle cx="261.4" cy="95.2" r="2.1"/><circle cx="223.3" cy="108.5" r="1.0"/><circle cx="243.6" cy="65.4" r="1.2"/><circle cx="239.7" cy="94.4" r="1.9"/><circle cx="193.3" cy="28.3" r="2.0"/><circle cx="320.6" cy="74.5" r="1.9"/><circle cx="247.7" cy="111.5" r="1.0"/><circle cx="195.3" cy="92.8" r="0.9"/><circle cx="283.4" cy="81.7" r="1.4"/><circle cx="198.7" cy="17.0" r="1.9"/><circle cx="307.4" cy="30.9" r="2.1"/><circle cx="210.1" cy="89.7" r="1.1"/><circle cx="289.7" cy="54.8" r="1.8"/><circle cx="299.0" cy="69.5" r="1.4"/><circle cx="306.2" cy="38.9" r="1.1"/><circle cx="290.1" cy="63.2" r="1.1"/><circle cx="286.4" cy="29.1" r="1.8"/><circle cx="293.5" cy="23.1" r="1.1"/><circle cx="193.1" cy="32.8" r="1.6"/><circle cx="203.7" cy="94.0" r="2.1"/><circle cx="268.0" cy="105.0" r="2.0"/><circle cx="297.0" cy="43.0" r="1.3"/><circle cx="270.9" cy="94.8" r="1.9"/><circle cx="301.8" cy="19.7" r="1.7"/><circle cx="314.1" cy="83.5" r="1.8"/><circle cx="205.1" cy="68.7" r="1.6"/><circle cx="275.6" cy="32.4" r="1.9"/><circle cx="314.5" cy="28.1" r="1.9"/><circle cx="276.0" cy="34.3" r="1.9"/><circle cx="321.2" cy="34.9" r="1.1"/><circle cx="223.9" cy="29.4" r="1.0"/><circle cx="236.5" cy="66.7" r="2.0"/><circle cx="238.7" cy="107.2" r="1.1"/><circle cx="243.7" cy="77.0" r="2.0"/><circle cx="294.9" cy="15.0" r="2.0"/><circle cx="266.5" cy="40.1" r="1.2"/><circle cx="190.5" cy="25.4" r="1.2"/><circle cx="301.5" cy="54.8" r="0.9"/><circle cx="185.1" cy="28.5" r="1.2"/><circle cx="276.5" cy="84.9" r="0.8"/><circle cx="318.2" cy="34.6" r="0.9"/><circle cx="270.8" cy="90.9" r="0.8"/><circle cx="278.9" cy="28.7" r="1.3"/><circle cx="296.2" cy="7.7" r="0.8"/><circle cx="214.8" cy="86.7" r="1.8"/><circle cx="317.3" cy="94.9" r="1.8"/><circle cx="308.3" cy="51.6" r="1.2"/><circle cx="197.1" cy="29.3" r="1.1"/><circle cx="225.5" cy="48.0" r="1.2"/><circle cx="194.1" cy="14.1" r="1.3"/><circle cx="224.5" cy="8.0" r="1.0"/><circle cx="220.7" cy="45.5" r="1.5"/><circle cx="277.6" cy="56.5" r="2.0"/><circle cx="252.5" cy="105.3" r="1.5"/><circle cx="311.1" cy="108.1" r="2.0"/><circle cx="208.9" cy="97.8" r="1.0"/><circle cx="198.3" cy="36.5" r="1.9"/><circle cx="258.4" cy="72.9" r="1.9"/><circle cx="208.1" cy="44.8" r="1.4"/><circle cx="223.6" cy="109.4" r="1.8"/><circle cx="243.4" cy="43.0" r="1.7"/><circle cx="223.3" cy="105.9" r="1.3"/><circle cx="237.5" cy="62.0" r="1.7"/><circle cx="184.7" cy="25.2" r="1.7"/><circle cx="328.1" cy="9.0" r="0.9"/><circle cx="312.1" cy="55.5" r="1.0"/><circle cx="288.6" cy="62.6" r="1.9"/><circle cx="280.2" cy="72.5" r="1.4"/><circle cx="247.9" cy="16.0" r="1.3"/><circle cx="234.2" cy="89.7" r="1.1"/><circle cx="238.7" cy="44.1" r="1.3"/><circle cx="219.0" cy="81.9" r="1.7"/><circle cx="285.6" cy="20.1" r="2.1"/><circle cx="326.0" cy="58.6" r="1.8"/><circle cx="246.0" cy="60.6" r="1.4"/><circle cx="264.2" cy="49.3" r="1.0"/><circle cx="222.5" cy="84.0" r="1.8"/><circle cx="322.3" cy="64.8" r="2.1"/><circle cx="296.8" cy="22.6" r="2.0"/><circle cx="293.2" cy="97.2" r="1.3"/><circle cx="326.6" cy="11.0" r="0.8"/><circle cx="236.3" cy="105.8" r="1.0"/><circle cx="195.9" cy="54.1" r="1.3"/><circle cx="239.0" cy="33.2" r="1.9"/><circle cx="309.2" cy="30.5" r="1.1"/><circle cx="283.0" cy="81.9" r="0.7"/><circle cx="246.5" cy="98.4" r="0.7"/><circle cx="318.9" cy="70.4" r="1.0"/><circle cx="303.5" cy="90.0" r="1.1"/><circle cx="189.5" cy="50.7" r="2.0"/><circle cx="300.9" cy="18.9" r="1.2"/><circle cx="316.5" cy="76.2" r="1.1"/><circle cx="200.8" cy="47.0" r="1.7"/><circle cx="212.1" cy="88.1" r="1.3"/><circle cx="278.1" cy="70.2" r="1.5"/><circle cx="252.5" cy="107.4" r="0.9"/><circle cx="326.9" cy="86.7" r="1.8"/><circle cx="229.4" cy="98.5" r="1.7"/><circle cx="196.3" cy="107.3" r="1.3"/><circle cx="187.3" cy="101.3" r="1.0"/><circle cx="256.1" cy="64.7" r="0.9"/><circle cx="279.3" cy="18.2" r="1.6"/><circle cx="233.5" cy="9.7" r="1.2"/><circle cx="316.8" cy="9.4" r="1.8"/><circle cx="272.0" cy="108.9" r="1.5"/><circle cx="302.4" cy="83.9" r="1.0"/><circle cx="203.4" cy="39.1" r="0.8"/><circle cx="279.4" cy="33.1" r="1.6"/><circle cx="248.2" cy="59.9" r="2.0"/><circle cx="321.2" cy="25.1" r="1.2"/><circle cx="198.8" cy="95.1" r="2.0"/><circle cx="244.4" cy="86.2" r="2.0"/><circle cx="237.9" cy="99.5" r="2.2"/><circle cx="289.1" cy="61.6" r="1.0"/><circle cx="274.0" cy="73.9" r="1.8"/><circle cx="228.2" cy="68.5" r="1.8"/><circle cx="248.4" cy="68.5" r="1.2"/><circle cx="243.6" cy="69.8" r="2.0"/><circle cx="227.7" cy="35.9" r="1.7"/><circle cx="189.3" cy="15.6" r="1.7"/><circle cx="228.2" cy="35.1" r="1.3"/></g>
</g>
<g fill="#4cc043"><circle cx="308.3" cy="46.6" r="1.1"/><circle cx="320.2" cy="49.5" r="1.0"/><circle cx="198.8" cy="54.2" r="1.8"/><circle cx="238.9" cy="109.9" r="1.6"/><circle cx="201.6" cy="71.8" r="1.2"/><circle cx="283.1" cy="99.9" r="1.2"/><circle cx="215.7" cy="76.7" r="1.8"/><circle cx="327.5" cy="53.9" r="1.5"/><circle cx="210.6" cy="108.1" r="1.4"/><circle cx="257.6" cy="16.9" r="1.7"/><circle cx="296.7" cy="68.4" r="1.3"/></g>
<g fill="#3fae3c"><circle cx="200.1" cy="81.1" r="1.5"/><circle cx="269.9" cy="72.8" r="1.6"/><circle cx="198.8" cy="109.3" r="1.5"/><circle cx="191.4" cy="34.2" r="1.7"/><circle cx="249.3" cy="55.6" r="1.3"/></g>
<g fill="#5ad24a"><circle cx="284.8" cy="64.6" r="1.1"/><circle cx="262.7" cy="35.4" r="1.1"/><circle cx="271.1" cy="103.0" r="1.5"/><circle cx="232.3" cy="103.6" r="1.4"/><circle cx="277.7" cy="76.2" r="1.6"/><circle cx="195.6" cy="11.2" r="1.6"/></g>
<rect x="298.00" y="111.80" width="33.50" height="2.30" fill="#e2262b"/>
<text x="102.70" y="126.80" font-size="9.3" text-anchor="middle" fill="#231f20" font-weight="bold" stroke="#231f20" stroke-width="0.22">Bright field</text>
<text x="252.20" y="127.00" font-size="9.3" text-anchor="middle" fill="#231f20" font-weight="bold" stroke="#231f20" stroke-width="0.22">GFP</text>
<line x1="30.50" y1="140.20" x2="328.50" y2="140.20" stroke="#231f20" stroke-width="1.2"/>
<text x="185.00" y="151.20" font-size="9.3" text-anchor="middle" fill="#231f20" font-weight="bold" stroke="#231f20" stroke-width="0.22">OVER-APOA2</text>
<rect x="408.00" y="9.30" width="225.00" height="23.20" fill="url(#apoa)"/>
<rect x="408.00" y="34.20" width="225.00" height="23.00" fill="url(#act)"/>
<ellipse cx="422.06" cy="25" rx="12.94" ry="4.6" fill="#6a6a86" opacity="0.38" filter="url(#bl2)"/>
<ellipse cx="422.06" cy="19.9" rx="13.22" ry="1.26" fill="#06060c" opacity="0.51" filter="url(#bl07)"/>
<rect x="408.20" y="42.8" width="27.73" height="5.6" rx="2" fill="#2c201e" filter="url(#bl07)"/>
<ellipse cx="450.19" cy="25" rx="12.94" ry="4.6" fill="#6a6a86" opacity="0.55" filter="url(#bl2)"/>
<ellipse cx="450.19" cy="19.9" rx="13.22" ry="2.10" fill="#06060c" opacity="1.00" filter="url(#bl07)"/>
<rect x="436.32" y="42.8" width="27.73" height="5.6" rx="2" fill="#2c201e" filter="url(#bl07)"/>
<ellipse cx="478.31" cy="25" rx="12.94" ry="4.6" fill="#6a6a86" opacity="0.35" filter="url(#bl2)"/>
<ellipse cx="478.31" cy="19.9" rx="13.22" ry="1.14" fill="#06060c" opacity="0.44" filter="url(#bl07)"/>
<rect x="464.45" y="42.8" width="27.73" height="5.6" rx="2" fill="#2c201e" filter="url(#bl07)"/>
<ellipse cx="506.44" cy="25" rx="12.94" ry="4.6" fill="#6a6a86" opacity="0.51" filter="url(#bl2)"/>
<ellipse cx="506.44" cy="19.9" rx="13.22" ry="1.92" fill="#06060c" opacity="0.90" filter="url(#bl07)"/>
<rect x="492.57" y="42.8" width="27.73" height="5.6" rx="2" fill="#2c201e" filter="url(#bl07)"/>
<ellipse cx="534.56" cy="25" rx="12.94" ry="4.6" fill="#6a6a86" opacity="0.40" filter="url(#bl2)"/>
<ellipse cx="534.56" cy="19.9" rx="13.22" ry="1.38" fill="#06060c" opacity="0.58" filter="url(#bl07)"/>
<rect x="520.70" y="42.8" width="27.73" height="5.6" rx="2" fill="#2c201e" filter="url(#bl07)"/>
<ellipse cx="562.69" cy="25" rx="12.94" ry="4.6" fill="#6a6a86" opacity="0.55" filter="url(#bl2)"/>
<ellipse cx="562.69" cy="19.9" rx="13.22" ry="2.10" fill="#06060c" opacity="1.00" filter="url(#bl07)"/>
<rect x="548.83" y="42.8" width="27.73" height="5.6" rx="2" fill="#2c201e" filter="url(#bl07)"/>
<ellipse cx="590.81" cy="25" rx="12.94" ry="4.6" fill="#6a6a86" opacity="0.41" filter="url(#bl2)"/>
<ellipse cx="590.81" cy="19.9" rx="13.22" ry="1.44" fill="#06060c" opacity="0.61" filter="url(#bl07)"/>
<rect x="576.95" y="42.8" width="27.73" height="5.6" rx="2" fill="#2c201e" filter="url(#bl07)"/>
<ellipse cx="618.94" cy="25" rx="12.94" ry="4.6" fill="#6a6a86" opacity="0.55" filter="url(#bl2)"/>
<ellipse cx="618.94" cy="19.9" rx="13.22" ry="2.10" fill="#06060c" opacity="1.00" filter="url(#bl07)"/>
<rect x="605.08" y="42.8" width="27.73" height="5.6" rx="2" fill="#2c201e" filter="url(#bl07)"/>
<text x="406.80" y="22.90" font-size="9.4" text-anchor="end" fill="#231f20" font-weight="bold" stroke="#231f20" stroke-width="0.22">APOA2</text>
<text x="405.50" y="47.80" font-size="9.2" text-anchor="end" fill="#231f20" font-weight="bold" stroke="#231f20" stroke-width="0.22">Actin</text>
<text x="635.50" y="23.20" font-size="9.2" text-anchor="start" fill="#231f20" font-weight="bold" stroke="#231f20" stroke-width="0.22">12kDa</text>
<text x="635.50" y="48.20" font-size="9.2" text-anchor="start" fill="#231f20" font-weight="bold" stroke="#231f20" stroke-width="0.22">43kDa</text>
<text x="423.50" y="65.50" font-size="9.3" text-anchor="end" fill="#231f20" font-weight="bold" stroke="#231f20" stroke-width="0.22" transform="rotate(-43 423.50 65.50)">Control</text>
<text x="455.50" y="68.50" font-size="9.3" text-anchor="end" fill="#231f20" font-weight="bold" stroke="#231f20" stroke-width="0.22" transform="rotate(-43 455.50 68.50)">OVER-APOA2</text>
<text x="479.50" y="65.50" font-size="9.3" text-anchor="end" fill="#231f20" font-weight="bold" stroke="#231f20" stroke-width="0.22" transform="rotate(-43 479.50 65.50)">Control</text>
<text x="511.50" y="68.50" font-size="9.3" text-anchor="end" fill="#231f20" font-weight="bold" stroke="#231f20" stroke-width="0.22" transform="rotate(-43 511.50 68.50)">OVER-APOA2</text>
<text x="535.50" y="65.50" font-size="9.3" text-anchor="end" fill="#231f20" font-weight="bold" stroke="#231f20" stroke-width="0.22" transform="rotate(-43 535.50 65.50)">Control</text>
<text x="567.50" y="68.50" font-size="9.3" text-anchor="end" fill="#231f20" font-weight="bold" stroke="#231f20" stroke-width="0.22" transform="rotate(-43 567.50 68.50)">OVER-APOA2</text>
<text x="591.50" y="65.50" font-size="9.3" text-anchor="end" fill="#231f20" font-weight="bold" stroke="#231f20" stroke-width="0.22" transform="rotate(-43 591.50 65.50)">Control</text>
<text x="623.50" y="68.50" font-size="9.3" text-anchor="end" fill="#231f20" font-weight="bold" stroke="#231f20" stroke-width="0.22" transform="rotate(-43 623.50 68.50)">OVER-APOA2</text>
<line x1="384.00" y1="109.20" x2="426.00" y2="109.20" stroke="#231f20" stroke-width="1.3"/>
<line x1="443.50" y1="109.20" x2="478.60" y2="109.20" stroke="#231f20" stroke-width="1.3"/>
<line x1="497.30" y1="109.20" x2="533.00" y2="109.20" stroke="#231f20" stroke-width="1.3"/>
<line x1="554.90" y1="109.20" x2="590.40" y2="109.20" stroke="#231f20" stroke-width="1.3"/>
<text x="384.70" y="120.30" font-size="9.2" text-anchor="start" fill="#231f20" font-weight="bold" stroke="#231f20" stroke-width="0.22">MHCC97H</text>
<text x="448.50" y="120.30" font-size="9.2" text-anchor="start" fill="#231f20" font-weight="bold" stroke="#231f20" stroke-width="0.22">7721</text>
<text x="502.70" y="120.00" font-size="9.2" text-anchor="start" fill="#231f20" font-weight="bold" stroke="#231f20" stroke-width="0.22">HepG2</text>
<text x="562.40" y="120.30" font-size="9.2" text-anchor="start" fill="#231f20" font-weight="bold" stroke="#231f20" stroke-width="0.22">Huh7</text>
<rect x="51.00" y="160.50" width="230.40" height="86.50" fill="#dbdbd9"/>
<g fill="#000" opacity="0.22" transform="translate(1.5,1.2)" filter="url(#bl1)"><circle cx="66.5" cy="174.2" r="8.6"/><circle cx="62.0" cy="173.7" r="5.2"/><circle cx="68.4" cy="176.3" r="5.9"/><circle cx="63.2" cy="174.1" r="6.0"/><circle cx="70.6" cy="177.1" r="5.2"/><circle cx="64.9" cy="171.5" r="5.3"/><circle cx="72.5" cy="172.5" r="5.4"/><circle cx="68.7" cy="170.7" r="6.7"/><circle cx="61.7" cy="173.5" r="7.0"/><circle cx="68.8" cy="178.7" r="5.8"/><circle cx="70.2" cy="174.1" r="5.8"/><circle cx="62.1" cy="178.9" r="5.2"/><circle cx="66.1" cy="178.0" r="6.3"/></g>
<g fill="#cf7c64"><circle cx="66.5" cy="174.2" r="8.6"/><circle cx="62.0" cy="173.7" r="5.2"/><circle cx="68.4" cy="176.3" r="5.9"/><circle cx="63.2" cy="174.1" r="6.0"/><circle cx="70.6" cy="177.1" r="5.2"/><circle cx="64.9" cy="171.5" r="5.3"/><circle cx="72.5" cy="172.5" r="5.4"/><circle cx="68.7" cy="170.7" r="6.7"/><circle cx="61.7" cy="173.5" r="7.0"/><circle cx="68.8" cy="178.7" r="5.8"/><circle cx="70.2" cy="174.1" r="5.8"/><circle cx="62.1" cy="178.9" r="5.2"/><circle cx="66.1" cy="178.0" r="6.3"/></g>
<g fill="url(#tg0)"><circle cx="62.0" cy="173.7" r="4.7"/><circle cx="68.4" cy="176.3" r="5.4"/><circle cx="63.2" cy="174.1" r="5.5"/><circle cx="70.6" cy="177.1" r="4.7"/><circle cx="64.9" cy="171.5" r="4.8"/><circle cx="72.5" cy="172.5" r="4.9"/><circle cx="68.7" cy="170.7" r="6.2"/><circle cx="61.7" cy="173.5" r="6.5"/><circle cx="68.8" cy="178.7" r="5.3"/><circle cx="70.2" cy="174.1" r="5.3"/><circle cx="62.1" cy="178.9" r="4.7"/><circle cx="66.1" cy="178.0" r="5.8"/><circle cx="66.5" cy="174.2" r="8.1"/></g>
<g fill="#b85a48" opacity=".4" filter="url(#bl07)"><circle cx="70.1" cy="176.2" r="2.3"/><circle cx="64.5" cy="178.9" r="2.3"/><circle cx="66.3" cy="176.9" r="1.9"/><circle cx="65.3" cy="173.7" r="2.7"/></g>
<g fill="#000" opacity="0.22" transform="translate(1.5,1.2)" filter="url(#bl1)"><circle cx="102.5" cy="173.8" r="6.4"/><circle cx="105.5" cy="174.9" r="5.3"/><circle cx="104.5" cy="171.0" r="5.2"/><circle cx="102.8" cy="176.5" r="5.1"/><circle cx="102.2" cy="171.7" r="4.5"/><circle cx="100.5" cy="177.6" r="4.4"/><circle cx="103.4" cy="176.3" r="5.0"/><circle cx="106.1" cy="173.5" r="5.4"/></g>
<g fill="#cf7c64"><circle cx="102.5" cy="173.8" r="6.4"/><circle cx="105.5" cy="174.9" r="5.3"/><circle cx="104.5" cy="171.0" r="5.2"/><circle cx="102.8" cy="176.5" r="5.1"/><circle cx="102.2" cy="171.7" r="4.5"/><circle cx="100.5" cy="177.6" r="4.4"/><circle cx="103.4" cy="176.3" r="5.0"/><circle cx="106.1" cy="173.5" r="5.4"/></g>
<g fill="url(#tg0)"><circle cx="105.5" cy="174.9" r="4.8"/><circle cx="104.5" cy="171.0" r="4.7"/><circle cx="102.8" cy="176.5" r="4.6"/><circle cx="102.2" cy="171.7" r="4.0"/><circle cx="100.5" cy="177.6" r="3.9"/><circle cx="103.4" cy="176.3" r="4.5"/><circle cx="106.1" cy="173.5" r="4.9"/><circle cx="102.5" cy="173.8" r="5.9"/></g>
<g fill="#b85a48" opacity=".4" filter="url(#bl07)"><circle cx="104.5" cy="175.1" r="1.6"/><circle cx="103.0" cy="172.5" r="1.6"/></g>
<g fill="#000" opacity="0.22" transform="translate(1.5,1.2)" filter="url(#bl1)"><circle cx="133.2" cy="174.4" r="6.1"/><circle cx="131.6" cy="171.0" r="3.9"/><circle cx="132.5" cy="169.4" r="4.8"/><circle cx="134.3" cy="176.3" r="4.9"/><circle cx="132.1" cy="178.6" r="4.6"/><circle cx="132.6" cy="170.2" r="3.8"/><circle cx="132.4" cy="180.5" r="3.9"/><circle cx="129.2" cy="172.2" r="3.9"/><circle cx="135.5" cy="169.8" r="4.2"/></g>
<g fill="#cf7c64"><circle cx="133.2" cy="174.4" r="6.1"/><circle cx="131.6" cy="171.0" r="3.9"/><circle cx="132.5" cy="169.4" r="4.8"/><circle cx="134.3" cy="176.3" r="4.9"/><circle cx="132.1" cy="178.6" r="4.6"/><circle cx="132.6" cy="170.2" r="3.8"/><circle cx="132.4" cy="180.5" r="3.9"/><circle cx="129.2" cy="172.2" r="3.9"/><circle cx="135.5" cy="169.8" r="4.2"/></g>
<g fill="url(#tg0)"><circle cx="131.6" cy="171.0" r="3.4"/><circle cx="132.5" cy="169.4" r="4.3"/><circle cx="134.3" cy="176.3" r="4.4"/><circle cx="132.1" cy="178.6" r="4.1"/><circle cx="132.6" cy="170.2" r="3.3"/><circle cx="132.4" cy="180.5" r="3.4"/><circle cx="129.2" cy="172.2" r="3.4"/><circle cx="135.5" cy="169.8" r="3.7"/><circle cx="133.2" cy="174.4" r="5.6"/></g>
<g fill="#b85a48" opacity=".4" filter="url(#bl07)"><circle cx="130.2" cy="170.8" r="1.8"/><circle cx="135.5" cy="177.4" r="1.6"/></g>
<g fill="#000" opacity="0.22" transform="translate(1.5,1.2)" filter="url(#bl1)"><circle cx="156.9" cy="174.7" r="6.3"/><circle cx="158.5" cy="169.6" r="4.2"/><circle cx="158.5" cy="173.4" r="5.0"/><circle cx="159.2" cy="173.0" r="4.0"/><circle cx="157.2" cy="178.7" r="5.3"/><circle cx="157.0" cy="180.3" r="5.2"/><circle cx="156.3" cy="168.9" r="4.8"/><circle cx="159.0" cy="179.6" r="4.1"/><circle cx="159.5" cy="179.3" r="3.9"/><circle cx="159.6" cy="177.6" r="4.7"/></g>
<g fill="#cf7c64"><circle cx="156.9" cy="174.7" r="6.3"/><circle cx="158.5" cy="169.6" r="4.2"/><circle cx="158.5" cy="173.4" r="5.0"/><circle cx="159.2" cy="173.0" r="4.0"/><circle cx="157.2" cy="178.7" r="5.3"/><circle cx="157.0" cy="180.3" r="5.2"/><circle cx="156.3" cy="168.9" r="4.8"/><circle cx="159.0" cy="179.6" r="4.1"/><circle cx="159.5" cy="179.3" r="3.9"/><circle cx="159.6" cy="177.6" r="4.7"/></g>
<g fill="url(#tg0)"><circle cx="158.5" cy="169.6" r="3.7"/><circle cx="158.5" cy="173.4" r="4.5"/><circle cx="159.2" cy="173.0" r="3.5"/><circle cx="157.2" cy="178.7" r="4.8"/><circle cx="157.0" cy="180.3" r="4.7"/><circle cx="156.3" cy="168.9" r="4.3"/><circle cx="159.0" cy="179.6" r="3.6"/><circle cx="159.5" cy="179.3" r="3.4"/><circle cx="159.6" cy="177.6" r="4.2"/><circle cx="156.9" cy="174.7" r="5.8"/></g>
<g fill="#b85a48" opacity=".4" filter="url(#bl07)"><circle cx="156.4" cy="172.9" r="1.9"/><circle cx="153.4" cy="177.6" r="1.7"/><circle cx="158.0" cy="177.6" r="1.9"/></g>
<g fill="#000" opacity="0.22" transform="translate(1.5,1.2)" filter="url(#bl1)"><circle cx="180.0" cy="178.2" r="5.2"/><circle cx="183.1" cy="178.2" r="3.7"/><circle cx="177.1" cy="179.1" r="3.4"/><circle cx="179.5" cy="180.1" r="4.2"/><circle cx="180.9" cy="181.5" r="3.4"/></g>
<g fill="#cf7c64"><circle cx="180.0" cy="178.2" r="5.2"/><circle cx="183.1" cy="178.2" r="3.7"/><circle cx="177.1" cy="179.1" r="3.4"/><circle cx="179.5" cy="180.1" r="4.2"/><circle cx="180.9" cy="181.5" r="3.4"/></g>
<g fill="url(#tg0)"><circle cx="183.1" cy="178.2" r="3.2"/><circle cx="177.1" cy="179.1" r="2.9"/><circle cx="179.5" cy="180.1" r="3.7"/><circle cx="180.9" cy="181.5" r="2.9"/><circle cx="180.0" cy="178.2" r="4.7"/></g>
<g fill="#b85a48" opacity=".4" filter="url(#bl07)"><circle cx="181.4" cy="178.2" r="1.6"/></g>
<g fill="#000" opacity="0.22" transform="translate(1.5,1.2)" filter="url(#bl1)"><circle cx="204.8" cy="182.0" r="7.4"/><circle cx="205.5" cy="178.6" r="5.7"/><circle cx="206.6" cy="180.8" r="6.1"/><circle cx="207.2" cy="179.8" r="6.1"/><circle cx="204.6" cy="179.6" r="5.4"/><circle cx="199.7" cy="181.5" r="5.1"/><circle cx="204.1" cy="186.0" r="4.7"/><circle cx="201.3" cy="186.2" r="4.7"/><circle cx="205.3" cy="184.8" r="5.4"/><circle cx="205.4" cy="178.4" r="5.8"/><circle cx="202.3" cy="182.9" r="5.8"/></g>
<g fill="#cf7c64"><circle cx="204.8" cy="182.0" r="7.4"/><circle cx="205.5" cy="178.6" r="5.7"/><circle cx="206.6" cy="180.8" r="6.1"/><circle cx="207.2" cy="179.8" r="6.1"/><circle cx="204.6" cy="179.6" r="5.4"/><circle cx="199.7" cy="181.5" r="5.1"/><circle cx="204.1" cy="186.0" r="4.7"/><circle cx="201.3" cy="186.2" r="4.7"/><circle cx="205.3" cy="184.8" r="5.4"/><circle cx="205.4" cy="178.4" r="5.8"/><circle cx="202.3" cy="182.9" r="5.8"/></g>
<g fill="url(#tg0)"><circle cx="205.5" cy="178.6" r="5.2"/><circle cx="206.6" cy="180.8" r="5.6"/><circle cx="207.2" cy="179.8" r="5.6"/><circle cx="204.6" cy="179.6" r="4.9"/><circle cx="199.7" cy="181.5" r="4.6"/><circle cx="204.1" cy="186.0" r="4.2"/><circle cx="201.3" cy="186.2" r="4.2"/><circle cx="205.3" cy="184.8" r="4.9"/><circle cx="205.4" cy="178.4" r="5.3"/><circle cx="202.3" cy="182.9" r="5.3"/><circle cx="204.8" cy="182.0" r="6.9"/></g>
<g fill="#b85a48" opacity=".4" filter="url(#bl07)"><circle cx="202.8" cy="177.8" r="1.9"/><circle cx="207.2" cy="180.1" r="2.3"/><circle cx="206.1" cy="182.9" r="1.7"/></g>
<g fill="#000" opacity="0.22" transform="translate(1.5,1.2)" filter="url(#bl1)"><circle cx="240.4" cy="180.6" r="6.2"/><circle cx="243.1" cy="179.1" r="5.0"/><circle cx="240.0" cy="175.8" r="4.0"/><circle cx="242.3" cy="178.4" r="3.9"/><circle cx="243.8" cy="178.1" r="4.3"/><circle cx="241.7" cy="184.3" r="4.1"/><circle cx="237.3" cy="178.2" r="4.1"/><circle cx="241.7" cy="183.8" r="4.4"/></g>
<g fill="#cf7c64"><circle cx="240.4" cy="180.6" r="6.2"/><circle cx="243.1" cy="179.1" r="5.0"/><circle cx="240.0" cy="175.8" r="4.0"/><circle cx="242.3" cy="178.4" r="3.9"/><circle cx="243.8" cy="178.1" r="4.3"/><circle cx="241.7" cy="184.3" r="4.1"/><circle cx="237.3" cy="178.2" r="4.1"/><circle cx="241.7" cy="183.8" r="4.4"/></g>
<g fill="url(#tg0)"><circle cx="243.1" cy="179.1" r="4.5"/><circle cx="240.0" cy="175.8" r="3.5"/><circle cx="242.3" cy="178.4" r="3.4"/><circle cx="243.8" cy="178.1" r="3.8"/><circle cx="241.7" cy="184.3" r="3.6"/><circle cx="237.3" cy="178.2" r="3.6"/><circle cx="241.7" cy="183.8" r="3.9"/><circle cx="240.4" cy="180.6" r="5.7"/></g>
<g fill="#b85a48" opacity=".4" filter="url(#bl07)"><circle cx="239.1" cy="182.1" r="1.9"/><circle cx="239.1" cy="181.9" r="1.4"/></g>
<g fill="#000" opacity="0.22" transform="translate(1.5,1.2)" filter="url(#bl1)"><circle cx="269.9" cy="182.9" r="7.3"/><circle cx="271.2" cy="184.8" r="5.6"/><circle cx="267.6" cy="186.0" r="5.8"/><circle cx="272.4" cy="181.7" r="6.0"/><circle cx="269.8" cy="180.4" r="5.9"/><circle cx="266.3" cy="180.2" r="5.1"/><circle cx="268.2" cy="185.6" r="4.5"/><circle cx="268.4" cy="180.0" r="5.8"/><circle cx="271.5" cy="181.3" r="6.0"/><circle cx="270.8" cy="186.7" r="5.7"/><circle cx="267.6" cy="185.9" r="5.2"/></g>
<g fill="#cf7c64"><circle cx="269.9" cy="182.9" r="7.3"/><circle cx="271.2" cy="184.8" r="5.6"/><circle cx="267.6" cy="186.0" r="5.8"/><circle cx="272.4" cy="181.7" r="6.0"/><circle cx="269.8" cy="180.4" r="5.9"/><circle cx="266.3" cy="180.2" r="5.1"/><circle cx="268.2" cy="185.6" r="4.5"/><circle cx="268.4" cy="180.0" r="5.8"/><circle cx="271.5" cy="181.3" r="6.0"/><circle cx="270.8" cy="186.7" r="5.7"/><circle cx="267.6" cy="185.9" r="5.2"/></g>
<g fill="url(#tg0)"><circle cx="271.2" cy="184.8" r="5.1"/><circle cx="267.6" cy="186.0" r="5.3"/><circle cx="272.4" cy="181.7" r="5.5"/><circle cx="269.8" cy="180.4" r="5.4"/><circle cx="266.3" cy="180.2" r="4.6"/><circle cx="268.2" cy="185.6" r="4.0"/><circle cx="268.4" cy="180.0" r="5.3"/><circle cx="271.5" cy="181.3" r="5.5"/><circle cx="270.8" cy="186.7" r="5.2"/><circle cx="267.6" cy="185.9" r="4.7"/><circle cx="269.9" cy="182.9" r="6.8"/></g>
<g fill="#b85a48" opacity=".4" filter="url(#bl07)"><circle cx="269.0" cy="184.3" r="2.4"/><circle cx="268.3" cy="183.6" r="2.2"/><circle cx="267.9" cy="181.1" r="2.3"/></g>
<g fill="#000" opacity="0.22" transform="translate(1.5,1.2)" filter="url(#bl1)"><circle cx="58.6" cy="214.2" r="4.4"/><circle cx="59.3" cy="215.6" r="3.6"/><circle cx="58.6" cy="216.5" r="2.9"/><circle cx="56.7" cy="212.2" r="3.1"/><circle cx="57.1" cy="212.0" r="3.0"/></g>
<g fill="#c63a3e"><circle cx="58.6" cy="214.2" r="4.4"/><circle cx="59.3" cy="215.6" r="3.6"/><circle cx="58.6" cy="216.5" r="2.9"/><circle cx="56.7" cy="212.2" r="3.1"/><circle cx="57.1" cy="212.0" r="3.0"/></g>
<g fill="url(#tg1)"><circle cx="59.3" cy="215.6" r="3.1"/><circle cx="58.6" cy="216.5" r="2.4"/><circle cx="56.7" cy="212.2" r="2.6"/><circle cx="57.1" cy="212.0" r="2.5"/><circle cx="58.6" cy="214.2" r="3.9"/></g>
<g fill="#a82a30" opacity=".4" filter="url(#bl07)"><circle cx="60.4" cy="215.0" r="1.5"/></g>
<g fill="#000" opacity="0.22" transform="translate(1.5,1.2)" filter="url(#bl1)"><circle cx="94.6" cy="214.6" r="4.7"/><circle cx="96.8" cy="215.7" r="3.4"/><circle cx="93.7" cy="211.8" r="3.0"/><circle cx="98.9" cy="213.1" r="3.0"/><circle cx="92.4" cy="215.4" r="3.3"/><circle cx="95.1" cy="215.7" r="3.8"/></g>
<g fill="#c63a3e"><circle cx="94.6" cy="214.6" r="4.7"/><circle cx="96.8" cy="215.7" r="3.4"/><circle cx="93.7" cy="211.8" r="3.0"/><circle cx="98.9" cy="213.1" r="3.0"/><circle cx="92.4" cy="215.4" r="3.3"/><circle cx="95.1" cy="215.7" r="3.8"/></g>
<g fill="url(#tg1)"><circle cx="96.8" cy="215.7" r="2.9"/><circle cx="93.7" cy="211.8" r="2.5"/><circle cx="98.9" cy="213.1" r="2.5"/><circle cx="92.4" cy="215.4" r="2.8"/><circle cx="95.1" cy="215.7" r="3.3"/><circle cx="94.6" cy="214.6" r="4.2"/></g>
<g fill="#a82a30" opacity=".4" filter="url(#bl07)"><circle cx="91.6" cy="215.0" r="1.2"/></g>
<g fill="#000" opacity="0.22" transform="translate(1.5,1.2)" filter="url(#bl1)"><circle cx="129.8" cy="213.2" r="5.2"/><circle cx="133.5" cy="214.2" r="3.7"/><circle cx="128.9" cy="216.1" r="3.5"/><circle cx="130.8" cy="211.2" r="4.1"/><circle cx="129.0" cy="211.0" r="4.3"/><circle cx="133.3" cy="213.2" r="4.0"/></g>
<g fill="#c63a3e"><circle cx="129.8" cy="213.2" r="5.2"/><circle cx="133.5" cy="214.2" r="3.7"/><circle cx="128.9" cy="216.1" r="3.5"/><circle cx="130.8" cy="211.2" r="4.1"/><circle cx="129.0" cy="211.0" r="4.3"/><circle cx="133.3" cy="213.2" r="4.0"/></g>
<g fill="url(#tg1)"><circle cx="133.5" cy="214.2" r="3.2"/><circle cx="128.9" cy="216.1" r="3.0"/><circle cx="130.8" cy="211.2" r="3.6"/><circle cx="129.0" cy="211.0" r="3.8"/><circle cx="133.3" cy="213.2" r="3.5"/><circle cx="129.8" cy="213.2" r="4.7"/></g>
<g fill="#a82a30" opacity=".4" filter="url(#bl07)"><circle cx="126.9" cy="210.8" r="1.7"/></g>
<g fill="#000" opacity="0.22" transform="translate(1.5,1.2)" filter="url(#bl1)"><circle cx="156.3" cy="212.0" r="4.2"/><circle cx="157.6" cy="212.3" r="2.9"/><circle cx="155.9" cy="209.1" r="3.3"/><circle cx="156.4" cy="209.4" r="3.2"/><circle cx="155.3" cy="211.7" r="3.2"/></g>
<g fill="#c63a3e"><circle cx="156.3" cy="212.0" r="4.2"/><circle cx="157.6" cy="212.3" r="2.9"/><circle cx="155.9" cy="209.1" r="3.3"/><circle cx="156.4" cy="209.4" r="3.2"/><circle cx="155.3" cy="211.7" r="3.2"/></g>
<g fill="url(#tg1)"><circle cx="157.6" cy="212.3" r="2.4"/><circle cx="155.9" cy="209.1" r="2.8"/><circle cx="156.4" cy="209.4" r="2.7"/><circle cx="155.3" cy="211.7" r="2.7"/><circle cx="156.3" cy="212.0" r="3.7"/></g>
<g fill="#a82a30" opacity=".4" filter="url(#bl07)"><circle cx="157.6" cy="214.6" r="1.4"/></g>
<g fill="#000" opacity="0.25" transform="translate(1.5,1.2)" filter="url(#bl1)"><circle cx="180.3" cy="213.2" r="4.9"/><circle cx="179.0" cy="213.1" r="3.2"/><circle cx="180.7" cy="211.0" r="4.1"/><circle cx="180.9" cy="216.5" r="4.0"/><circle cx="178.3" cy="211.0" r="3.9"/></g>
<g fill="#e6c8a0"><circle cx="180.3" cy="213.2" r="4.9"/><circle cx="179.0" cy="213.1" r="3.2"/><circle cx="180.7" cy="211.0" r="4.1"/><circle cx="180.9" cy="216.5" r="4.0"/><circle cx="178.3" cy="211.0" r="3.9"/></g>
<g fill="url(#tg2)"><circle cx="179.0" cy="213.1" r="2.7"/><circle cx="180.7" cy="211.0" r="3.6"/><circle cx="180.9" cy="216.5" r="3.5"/><circle cx="178.3" cy="211.0" r="3.4"/><circle cx="180.3" cy="213.2" r="4.4"/></g>
<g fill="#000" opacity="0.22" transform="translate(1.5,1.2)" filter="url(#bl1)"><circle cx="204.7" cy="214.1" r="4.0"/><circle cx="202.9" cy="213.5" r="2.8"/><circle cx="206.3" cy="215.2" r="3.4"/><circle cx="203.2" cy="215.6" r="3.2"/><circle cx="206.1" cy="211.3" r="2.8"/></g>
<g fill="#c63a3e"><circle cx="204.7" cy="214.1" r="4.0"/><circle cx="202.9" cy="213.5" r="2.8"/><circle cx="206.3" cy="215.2" r="3.4"/><circle cx="203.2" cy="215.6" r="3.2"/><circle cx="206.1" cy="211.3" r="2.8"/></g>
<g fill="url(#tg1)"><circle cx="202.9" cy="213.5" r="2.3"/><circle cx="206.3" cy="215.2" r="2.9"/><circle cx="203.2" cy="215.6" r="2.7"/><circle cx="206.1" cy="211.3" r="2.3"/><circle cx="204.7" cy="214.1" r="3.5"/></g>
<g fill="#a82a30" opacity=".4" filter="url(#bl07)"><circle cx="205.2" cy="214.3" r="1.2"/></g>
<g fill="#000" opacity="0.22" transform="translate(1.5,1.2)" filter="url(#bl1)"><circle cx="239.2" cy="214.6" r="5.5"/><circle cx="239.5" cy="212.2" r="3.9"/><circle cx="237.6" cy="215.6" r="4.1"/><circle cx="241.3" cy="216.5" r="3.5"/><circle cx="238.6" cy="212.8" r="4.5"/><circle cx="235.2" cy="212.6" r="3.7"/><circle cx="242.2" cy="216.4" r="4.0"/></g>
<g fill="#c63a3e"><circle cx="239.2" cy="214.6" r="5.5"/><circle cx="239.5" cy="212.2" r="3.9"/><circle cx="237.6" cy="215.6" r="4.1"/><circle cx="241.3" cy="216.5" r="3.5"/><circle cx="238.6" cy="212.8" r="4.5"/><circle cx="235.2" cy="212.6" r="3.7"/><circle cx="242.2" cy="216.4" r="4.0"/></g>
<g fill="url(#tg1)"><circle cx="239.5" cy="212.2" r="3.4"/><circle cx="237.6" cy="215.6" r="3.6"/><circle cx="241.3" cy="216.5" r="3.0"/><circle cx="238.6" cy="212.8" r="4.0"/><circle cx="235.2" cy="212.6" r="3.2"/><circle cx="242.2" cy="216.4" r="3.5"/><circle cx="239.2" cy="214.6" r="5.0"/></g>
<g fill="#a82a30" opacity=".4" filter="url(#bl07)"><circle cx="238.1" cy="213.5" r="1.4"/><circle cx="239.9" cy="215.9" r="1.2"/></g>
<g fill="#000" opacity="0.22" transform="translate(1.5,1.2)" filter="url(#bl1)"><circle cx="271.2" cy="213.2" r="5.2"/><circle cx="271.1" cy="216.0" r="3.9"/><circle cx="269.5" cy="214.0" r="4.3"/><circle cx="270.0" cy="211.4" r="4.0"/><circle cx="272.3" cy="215.7" r="3.8"/></g>
<g fill="#c63a3e"><circle cx="271.2" cy="213.2" r="5.2"/><circle cx="271.1" cy="216.0" r="3.9"/><circle cx="269.5" cy="214.0" r="4.3"/><circle cx="270.0" cy="211.4" r="4.0"/><circle cx="272.3" cy="215.7" r="3.8"/></g>
<g fill="url(#tg1)"><circle cx="271.1" cy="216.0" r="3.4"/><circle cx="269.5" cy="214.0" r="3.8"/><circle cx="270.0" cy="211.4" r="3.5"/><circle cx="272.3" cy="215.7" r="3.3"/><circle cx="271.2" cy="213.2" r="4.7"/></g>
<g fill="#a82a30" opacity=".4" filter="url(#bl07)"><circle cx="270.3" cy="212.3" r="1.8"/></g>
<rect x="51.00" y="231.60" width="230.40" height="15.40" fill="#70746a"/>
<rect x="51.00" y="231.60" width="230.40" height="15.40" fill="url(#rp1)"/>
<rect x="48.50" y="255.50" width="229.50" height="90.50" fill="#f7f6f4"/>
<g fill="#000" opacity="0.08" transform="translate(1.5,1.2)" filter="url(#bl1)"><circle cx="58.5" cy="273.0" r="6.4"/><circle cx="62.8" cy="269.8" r="4.0"/><circle cx="57.0" cy="270.4" r="4.0"/><circle cx="59.1" cy="279.8" r="4.2"/><circle cx="59.5" cy="267.6" r="4.5"/><circle cx="59.2" cy="281.2" r="4.5"/><circle cx="62.8" cy="274.8" r="4.0"/><circle cx="55.3" cy="269.8" r="4.3"/><circle cx="57.3" cy="271.1" r="5.4"/><circle cx="59.7" cy="266.4" r="4.4"/><circle cx="57.1" cy="264.0" r="4.0"/><circle cx="56.6" cy="274.2" r="5.2"/><circle cx="56.0" cy="272.5" r="4.6"/></g>
<g fill="#b4483a"><circle cx="58.5" cy="273.0" r="6.4"/><circle cx="62.8" cy="269.8" r="4.0"/><circle cx="57.0" cy="270.4" r="4.0"/><circle cx="59.1" cy="279.8" r="4.2"/><circle cx="59.5" cy="267.6" r="4.5"/><circle cx="59.2" cy="281.2" r="4.5"/><circle cx="62.8" cy="274.8" r="4.0"/><circle cx="55.3" cy="269.8" r="4.3"/><circle cx="57.3" cy="271.1" r="5.4"/><circle cx="59.7" cy="266.4" r="4.4"/><circle cx="57.1" cy="264.0" r="4.0"/><circle cx="56.6" cy="274.2" r="5.2"/><circle cx="56.0" cy="272.5" r="4.6"/></g>
<g fill="url(#tg3)"><circle cx="62.8" cy="269.8" r="3.5"/><circle cx="57.0" cy="270.4" r="3.5"/><circle cx="59.1" cy="279.8" r="3.7"/><circle cx="59.5" cy="267.6" r="4.0"/><circle cx="59.2" cy="281.2" r="4.0"/><circle cx="62.8" cy="274.8" r="3.5"/><circle cx="55.3" cy="269.8" r="3.8"/><circle cx="57.3" cy="271.1" r="4.9"/><circle cx="59.7" cy="266.4" r="3.9"/><circle cx="57.1" cy="264.0" r="3.5"/><circle cx="56.6" cy="274.2" r="4.7"/><circle cx="56.0" cy="272.5" r="4.1"/><circle cx="58.5" cy="273.0" r="5.9"/></g>
<g fill="#7a2418" opacity=".4" filter="url(#bl07)"><circle cx="55.7" cy="274.9" r="1.8"/><circle cx="57.0" cy="271.4" r="1.7"/><circle cx="59.1" cy="278.8" r="2.0"/><circle cx="57.3" cy="272.6" r="1.5"/></g>
<g fill="#000" opacity="0.08" transform="translate(1.5,1.2)" filter="url(#bl1)"><circle cx="83.8" cy="273.1" r="5.3"/><circle cx="80.2" cy="273.6" r="3.4"/><circle cx="83.6" cy="267.6" r="3.6"/><circle cx="86.1" cy="272.5" r="4.3"/><circle cx="85.4" cy="271.8" r="3.7"/><circle cx="84.3" cy="276.1" r="4.3"/><circle cx="81.4" cy="274.6" r="3.4"/></g>
<g fill="#b4483a"><circle cx="83.8" cy="273.1" r="5.3"/><circle cx="80.2" cy="273.6" r="3.4"/><circle cx="83.6" cy="267.6" r="3.6"/><circle cx="86.1" cy="272.5" r="4.3"/><circle cx="85.4" cy="271.8" r="3.7"/><circle cx="84.3" cy="276.1" r="4.3"/><circle cx="81.4" cy="274.6" r="3.4"/></g>
<g fill="url(#tg3)"><circle cx="80.2" cy="273.6" r="2.9"/><circle cx="83.6" cy="267.6" r="3.1"/><circle cx="86.1" cy="272.5" r="3.8"/><circle cx="85.4" cy="271.8" r="3.2"/><circle cx="84.3" cy="276.1" r="3.8"/><circle cx="81.4" cy="274.6" r="2.9"/><circle cx="83.8" cy="273.1" r="4.8"/></g>
<g fill="#7a2418" opacity=".4" filter="url(#bl07)"><circle cx="83.2" cy="272.5" r="1.6"/><circle cx="81.3" cy="270.0" r="1.2"/></g>
<g fill="#000" opacity="0.08" transform="translate(1.5,1.2)" filter="url(#bl1)"><circle cx="111.5" cy="273.9" r="6.8"/><circle cx="109.4" cy="274.3" r="5.1"/><circle cx="112.8" cy="276.6" r="5.4"/><circle cx="109.9" cy="272.2" r="5.0"/><circle cx="110.3" cy="268.9" r="4.8"/><circle cx="112.2" cy="277.2" r="5.0"/><circle cx="114.7" cy="272.9" r="4.6"/><circle cx="108.2" cy="273.8" r="4.7"/><circle cx="110.9" cy="277.9" r="5.1"/><circle cx="112.4" cy="269.1" r="4.2"/></g>
<g fill="#b4483a"><circle cx="111.5" cy="273.9" r="6.8"/><circle cx="109.4" cy="274.3" r="5.1"/><circle cx="112.8" cy="276.6" r="5.4"/><circle cx="109.9" cy="272.2" r="5.0"/><circle cx="110.3" cy="268.9" r="4.8"/><circle cx="112.2" cy="277.2" r="5.0"/><circle cx="114.7" cy="272.9" r="4.6"/><circle cx="108.2" cy="273.8" r="4.7"/><circle cx="110.9" cy="277.9" r="5.1"/><circle cx="112.4" cy="269.1" r="4.2"/></g>
<g fill="url(#tg3)"><circle cx="109.4" cy="274.3" r="4.6"/><circle cx="112.8" cy="276.6" r="4.9"/><circle cx="109.9" cy="272.2" r="4.5"/><circle cx="110.3" cy="268.9" r="4.3"/><circle cx="112.2" cy="277.2" r="4.5"/><circle cx="114.7" cy="272.9" r="4.1"/><circle cx="108.2" cy="273.8" r="4.2"/><circle cx="110.9" cy="277.9" r="4.6"/><circle cx="112.4" cy="269.1" r="3.7"/><circle cx="111.5" cy="273.9" r="6.3"/></g>
<g fill="#7a2418" opacity=".4" filter="url(#bl07)"><circle cx="109.5" cy="271.3" r="2.3"/><circle cx="110.9" cy="273.7" r="2.3"/><circle cx="112.9" cy="276.9" r="2.1"/></g>
<g fill="#000" opacity="0.08" transform="translate(1.5,1.2)" filter="url(#bl1)"><circle cx="137.3" cy="276.0" r="6.4"/><circle cx="138.3" cy="273.3" r="4.3"/><circle cx="139.0" cy="272.1" r="4.3"/><circle cx="140.4" cy="278.3" r="4.8"/><circle cx="133.6" cy="274.8" r="4.1"/><circle cx="135.1" cy="278.3" r="5.0"/><circle cx="134.3" cy="274.8" r="4.5"/><circle cx="140.0" cy="277.8" r="4.8"/><circle cx="136.4" cy="279.6" r="4.1"/></g>
<g fill="#b4483a"><circle cx="137.3" cy="276.0" r="6.4"/><circle cx="138.3" cy="273.3" r="4.3"/><circle cx="139.0" cy="272.1" r="4.3"/><circle cx="140.4" cy="278.3" r="4.8"/><circle cx="133.6" cy="274.8" r="4.1"/><circle cx="135.1" cy="278.3" r="5.0"/><circle cx="134.3" cy="274.8" r="4.5"/><circle cx="140.0" cy="277.8" r="4.8"/><circle cx="136.4" cy="279.6" r="4.1"/></g>
<g fill="url(#tg3)"><circle cx="138.3" cy="273.3" r="3.8"/><circle cx="139.0" cy="272.1" r="3.8"/><circle cx="140.4" cy="278.3" r="4.3"/><circle cx="133.6" cy="274.8" r="3.6"/><circle cx="135.1" cy="278.3" r="4.5"/><circle cx="134.3" cy="274.8" r="4.0"/><circle cx="140.0" cy="277.8" r="4.3"/><circle cx="136.4" cy="279.6" r="3.6"/><circle cx="137.3" cy="276.0" r="5.9"/></g>
<g fill="#7a2418" opacity=".4" filter="url(#bl07)"><circle cx="135.2" cy="272.9" r="1.5"/><circle cx="135.0" cy="273.2" r="1.6"/></g>
<g fill="#000" opacity="0.08" transform="translate(1.5,1.2)" filter="url(#bl1)"><circle cx="169.4" cy="274.8" r="4.8"/><circle cx="167.6" cy="279.3" r="3.2"/><circle cx="168.0" cy="279.6" r="3.8"/><circle cx="168.1" cy="274.8" r="4.1"/><circle cx="171.1" cy="280.7" r="3.4"/><circle cx="167.2" cy="280.1" r="3.2"/><circle cx="169.5" cy="268.9" r="4.0"/></g>
<g fill="#b4483a"><circle cx="169.4" cy="274.8" r="4.8"/><circle cx="167.6" cy="279.3" r="3.2"/><circle cx="168.0" cy="279.6" r="3.8"/><circle cx="168.1" cy="274.8" r="4.1"/><circle cx="171.1" cy="280.7" r="3.4"/><circle cx="167.2" cy="280.1" r="3.2"/><circle cx="169.5" cy="268.9" r="4.0"/></g>
<g fill="url(#tg3)"><circle cx="167.6" cy="279.3" r="2.7"/><circle cx="168.0" cy="279.6" r="3.3"/><circle cx="168.1" cy="274.8" r="3.6"/><circle cx="171.1" cy="280.7" r="2.9"/><circle cx="167.2" cy="280.1" r="2.7"/><circle cx="169.5" cy="268.9" r="3.5"/><circle cx="169.4" cy="274.8" r="4.3"/></g>
<g fill="#7a2418" opacity=".4" filter="url(#bl07)"><circle cx="168.1" cy="278.4" r="1.5"/><circle cx="171.3" cy="279.0" r="1.3"/></g>
<g fill="#000" opacity="0.08" transform="translate(1.5,1.2)" filter="url(#bl1)"><circle cx="200.9" cy="275.1" r="6.8"/><circle cx="199.4" cy="274.9" r="5.2"/><circle cx="198.0" cy="272.9" r="4.9"/><circle cx="198.2" cy="276.2" r="4.3"/><circle cx="201.9" cy="272.6" r="4.5"/><circle cx="198.8" cy="278.7" r="4.5"/><circle cx="197.2" cy="273.7" r="5.1"/><circle cx="202.7" cy="277.0" r="4.3"/><circle cx="203.7" cy="271.8" r="5.1"/></g>
<g fill="#b4483a"><circle cx="200.9" cy="275.1" r="6.8"/><circle cx="199.4" cy="274.9" r="5.2"/><circle cx="198.0" cy="272.9" r="4.9"/><circle cx="198.2" cy="276.2" r="4.3"/><circle cx="201.9" cy="272.6" r="4.5"/><circle cx="198.8" cy="278.7" r="4.5"/><circle cx="197.2" cy="273.7" r="5.1"/><circle cx="202.7" cy="277.0" r="4.3"/><circle cx="203.7" cy="271.8" r="5.1"/></g>
<g fill="url(#tg3)"><circle cx="199.4" cy="274.9" r="4.7"/><circle cx="198.0" cy="272.9" r="4.4"/><circle cx="198.2" cy="276.2" r="3.8"/><circle cx="201.9" cy="272.6" r="4.0"/><circle cx="198.8" cy="278.7" r="4.0"/><circle cx="197.2" cy="273.7" r="4.6"/><circle cx="202.7" cy="277.0" r="3.8"/><circle cx="203.7" cy="271.8" r="4.6"/><circle cx="200.9" cy="275.1" r="6.3"/></g>
<g fill="#7a2418" opacity=".4" filter="url(#bl07)"><circle cx="198.3" cy="272.5" r="2.2"/><circle cx="202.4" cy="279.0" r="2.0"/></g>
<g fill="#000" opacity="0.08" transform="translate(1.5,1.2)" filter="url(#bl1)"><circle cx="228.1" cy="276.5" r="6.2"/><circle cx="229.7" cy="272.8" r="4.3"/><circle cx="229.4" cy="274.3" r="4.9"/><circle cx="229.3" cy="273.6" r="4.4"/><circle cx="229.8" cy="271.7" r="3.9"/><circle cx="227.0" cy="273.5" r="5.0"/><circle cx="225.3" cy="276.2" r="4.3"/><circle cx="226.2" cy="279.7" r="4.7"/><circle cx="227.9" cy="272.6" r="5.1"/></g>
<g fill="#b4483a"><circle cx="228.1" cy="276.5" r="6.2"/><circle cx="229.7" cy="272.8" r="4.3"/><circle cx="229.4" cy="274.3" r="4.9"/><circle cx="229.3" cy="273.6" r="4.4"/><circle cx="229.8" cy="271.7" r="3.9"/><circle cx="227.0" cy="273.5" r="5.0"/><circle cx="225.3" cy="276.2" r="4.3"/><circle cx="226.2" cy="279.7" r="4.7"/><circle cx="227.9" cy="272.6" r="5.1"/></g>
<g fill="url(#tg3)"><circle cx="229.7" cy="272.8" r="3.8"/><circle cx="229.4" cy="274.3" r="4.4"/><circle cx="229.3" cy="273.6" r="3.9"/><circle cx="229.8" cy="271.7" r="3.4"/><circle cx="227.0" cy="273.5" r="4.5"/><circle cx="225.3" cy="276.2" r="3.8"/><circle cx="226.2" cy="279.7" r="4.2"/><circle cx="227.9" cy="272.6" r="4.6"/><circle cx="228.1" cy="276.5" r="5.7"/></g>
<g fill="#7a2418" opacity=".4" filter="url(#bl07)"><circle cx="224.8" cy="272.3" r="1.4"/><circle cx="225.8" cy="273.1" r="1.6"/></g>
<g fill="#000" opacity="0.08" transform="translate(1.5,1.2)" filter="url(#bl1)"><circle cx="267.5" cy="286.4" r="6.3"/><circle cx="267.6" cy="294.7" r="5.2"/><circle cx="266.7" cy="279.5" r="5.2"/><circle cx="269.3" cy="289.5" r="4.7"/><circle cx="265.5" cy="293.0" r="5.0"/><circle cx="264.9" cy="278.4" r="4.1"/><circle cx="268.6" cy="293.6" r="4.9"/><circle cx="265.1" cy="288.1" r="5.1"/><circle cx="269.8" cy="289.7" r="3.9"/><circle cx="263.9" cy="286.4" r="4.0"/><circle cx="268.8" cy="286.9" r="5.3"/><circle cx="269.2" cy="280.5" r="3.9"/><circle cx="270.7" cy="281.6" r="4.8"/></g>
<g fill="#b4483a"><circle cx="267.5" cy="286.4" r="6.3"/><circle cx="267.6" cy="294.7" r="5.2"/><circle cx="266.7" cy="279.5" r="5.2"/><circle cx="269.3" cy="289.5" r="4.7"/><circle cx="265.5" cy="293.0" r="5.0"/><circle cx="264.9" cy="278.4" r="4.1"/><circle cx="268.6" cy="293.6" r="4.9"/><circle cx="265.1" cy="288.1" r="5.1"/><circle cx="269.8" cy="289.7" r="3.9"/><circle cx="263.9" cy="286.4" r="4.0"/><circle cx="268.8" cy="286.9" r="5.3"/><circle cx="269.2" cy="280.5" r="3.9"/><circle cx="270.7" cy="281.6" r="4.8"/></g>
<g fill="url(#tg3)"><circle cx="267.6" cy="294.7" r="4.7"/><circle cx="266.7" cy="279.5" r="4.7"/><circle cx="269.3" cy="289.5" r="4.2"/><circle cx="265.5" cy="293.0" r="4.5"/><circle cx="264.9" cy="278.4" r="3.6"/><circle cx="268.6" cy="293.6" r="4.4"/><circle cx="265.1" cy="288.1" r="4.6"/><circle cx="269.8" cy="289.7" r="3.4"/><circle cx="263.9" cy="286.4" r="3.5"/><circle cx="268.8" cy="286.9" r="4.8"/><circle cx="269.2" cy="280.5" r="3.4"/><circle cx="270.7" cy="281.6" r="4.3"/><circle cx="267.5" cy="286.4" r="5.8"/></g>
<g fill="#7a2418" opacity=".4" filter="url(#bl07)"><circle cx="269.8" cy="292.2" r="1.8"/><circle cx="266.1" cy="289.0" r="1.9"/><circle cx="270.0" cy="287.6" r="1.6"/><circle cx="269.4" cy="287.3" r="1.4"/></g>
<g fill="#000" opacity="0.25" transform="translate(1.5,1.2)" filter="url(#bl1)"><circle cx="59.4" cy="314.2" r="5.8"/><circle cx="59.9" cy="319.0" r="4.6"/><circle cx="56.4" cy="317.3" r="3.7"/><circle cx="61.6" cy="312.9" r="4.3"/><circle cx="61.9" cy="316.8" r="4.9"/><circle cx="60.4" cy="318.3" r="4.9"/><circle cx="61.4" cy="317.7" r="4.8"/><circle cx="56.4" cy="315.0" r="4.0"/></g>
<g fill="#e8cf98"><circle cx="59.4" cy="314.2" r="5.8"/><circle cx="59.9" cy="319.0" r="4.6"/><circle cx="56.4" cy="317.3" r="3.7"/><circle cx="61.6" cy="312.9" r="4.3"/><circle cx="61.9" cy="316.8" r="4.9"/><circle cx="60.4" cy="318.3" r="4.9"/><circle cx="61.4" cy="317.7" r="4.8"/><circle cx="56.4" cy="315.0" r="4.0"/></g>
<g fill="url(#tg4)"><circle cx="59.9" cy="319.0" r="4.1"/><circle cx="56.4" cy="317.3" r="3.2"/><circle cx="61.6" cy="312.9" r="3.8"/><circle cx="61.9" cy="316.8" r="4.4"/><circle cx="60.4" cy="318.3" r="4.4"/><circle cx="61.4" cy="317.7" r="4.3"/><circle cx="56.4" cy="315.0" r="3.5"/><circle cx="59.4" cy="314.2" r="5.3"/></g>
<g fill="#000" opacity="0.25" transform="translate(1.5,1.2)" filter="url(#bl1)"><circle cx="86.3" cy="315.1" r="8.1"/><circle cx="83.9" cy="315.0" r="6.4"/><circle cx="86.8" cy="320.9" r="6.3"/><circle cx="84.5" cy="318.8" r="6.8"/><circle cx="88.7" cy="311.1" r="5.9"/><circle cx="90.4" cy="317.8" r="6.5"/><circle cx="88.4" cy="313.9" r="6.6"/><circle cx="85.2" cy="318.9" r="6.4"/><circle cx="83.2" cy="315.6" r="4.9"/><circle cx="89.7" cy="317.1" r="6.5"/><circle cx="87.5" cy="317.5" r="5.9"/><circle cx="82.7" cy="313.6" r="6.6"/><circle cx="82.7" cy="317.2" r="6.6"/></g>
<g fill="#8a3026"><circle cx="86.3" cy="315.1" r="8.1"/><circle cx="83.9" cy="315.0" r="6.4"/><circle cx="86.8" cy="320.9" r="6.3"/><circle cx="84.5" cy="318.8" r="6.8"/><circle cx="88.7" cy="311.1" r="5.9"/><circle cx="90.4" cy="317.8" r="6.5"/><circle cx="88.4" cy="313.9" r="6.6"/><circle cx="85.2" cy="318.9" r="6.4"/><circle cx="83.2" cy="315.6" r="4.9"/><circle cx="89.7" cy="317.1" r="6.5"/><circle cx="87.5" cy="317.5" r="5.9"/><circle cx="82.7" cy="313.6" r="6.6"/><circle cx="82.7" cy="317.2" r="6.6"/></g>
<g fill="url(#tg5)"><circle cx="83.9" cy="315.0" r="5.9"/><circle cx="86.8" cy="320.9" r="5.8"/><circle cx="84.5" cy="318.8" r="6.3"/><circle cx="88.7" cy="311.1" r="5.4"/><circle cx="90.4" cy="317.8" r="6.0"/><circle cx="88.4" cy="313.9" r="6.1"/><circle cx="85.2" cy="318.9" r="5.9"/><circle cx="83.2" cy="315.6" r="4.4"/><circle cx="89.7" cy="317.1" r="6.0"/><circle cx="87.5" cy="317.5" r="5.4"/><circle cx="82.7" cy="313.6" r="6.1"/><circle cx="82.7" cy="317.2" r="6.1"/><circle cx="86.3" cy="315.1" r="7.6"/></g>
<g fill="#000" opacity="0.08" transform="translate(1.5,1.2)" filter="url(#bl1)"><circle cx="109.8" cy="315.1" r="6.3"/><circle cx="111.9" cy="313.6" r="5.0"/><circle cx="107.8" cy="316.6" r="5.1"/><circle cx="111.1" cy="316.0" r="4.9"/><circle cx="110.2" cy="311.6" r="4.9"/><circle cx="110.0" cy="312.7" r="5.2"/><circle cx="108.1" cy="318.3" r="4.9"/><circle cx="111.8" cy="313.7" r="5.3"/></g>
<g fill="#bc5a42"><circle cx="109.8" cy="315.1" r="6.3"/><circle cx="111.9" cy="313.6" r="5.0"/><circle cx="107.8" cy="316.6" r="5.1"/><circle cx="111.1" cy="316.0" r="4.9"/><circle cx="110.2" cy="311.6" r="4.9"/><circle cx="110.0" cy="312.7" r="5.2"/><circle cx="108.1" cy="318.3" r="4.9"/><circle cx="111.8" cy="313.7" r="5.3"/></g>
<g fill="url(#tg6)"><circle cx="111.9" cy="313.6" r="4.5"/><circle cx="107.8" cy="316.6" r="4.6"/><circle cx="111.1" cy="316.0" r="4.4"/><circle cx="110.2" cy="311.6" r="4.4"/><circle cx="110.0" cy="312.7" r="4.7"/><circle cx="108.1" cy="318.3" r="4.4"/><circle cx="111.8" cy="313.7" r="4.8"/><circle cx="109.8" cy="315.1" r="5.8"/></g>
<g fill="#7a2a1c" opacity=".4" filter="url(#bl07)"><circle cx="111.0" cy="312.7" r="2.0"/><circle cx="109.5" cy="315.0" r="1.7"/></g>
<g fill="#000" opacity="0.08" transform="translate(1.5,1.2)" filter="url(#bl1)"><circle cx="137.4" cy="314.8" r="5.9"/><circle cx="138.0" cy="310.4" r="4.0"/><circle cx="139.3" cy="316.6" r="4.2"/><circle cx="136.5" cy="317.0" r="3.9"/><circle cx="136.8" cy="311.6" r="3.7"/><circle cx="134.7" cy="316.1" r="4.4"/><circle cx="138.6" cy="316.5" r="4.3"/><circle cx="139.2" cy="313.9" r="4.4"/><circle cx="136.7" cy="317.5" r="4.8"/></g>
<g fill="#bc5a42"><circle cx="137.4" cy="314.8" r="5.9"/><circle cx="138.0" cy="310.4" r="4.0"/><circle cx="139.3" cy="316.6" r="4.2"/><circle cx="136.5" cy="317.0" r="3.9"/><circle cx="136.8" cy="311.6" r="3.7"/><circle cx="134.7" cy="316.1" r="4.4"/><circle cx="138.6" cy="316.5" r="4.3"/><circle cx="139.2" cy="313.9" r="4.4"/><circle cx="136.7" cy="317.5" r="4.8"/></g>
<g fill="url(#tg6)"><circle cx="138.0" cy="310.4" r="3.5"/><circle cx="139.3" cy="316.6" r="3.7"/><circle cx="136.5" cy="317.0" r="3.4"/><circle cx="136.8" cy="311.6" r="3.2"/><circle cx="134.7" cy="316.1" r="3.9"/><circle cx="138.6" cy="316.5" r="3.8"/><circle cx="139.2" cy="313.9" r="3.9"/><circle cx="136.7" cy="317.5" r="4.3"/><circle cx="137.4" cy="314.8" r="5.4"/></g>
<g fill="#7a2a1c" opacity=".4" filter="url(#bl07)"><circle cx="134.8" cy="318.8" r="1.8"/><circle cx="136.1" cy="316.9" r="1.8"/></g>
<g fill="#000" opacity="0.08" transform="translate(1.5,1.2)" filter="url(#bl1)"><circle cx="168.5" cy="315.6" r="8.7"/><circle cx="163.3" cy="318.5" r="6.3"/><circle cx="169.0" cy="307.9" r="7.2"/><circle cx="168.4" cy="324.0" r="6.5"/><circle cx="172.1" cy="322.4" r="5.7"/><circle cx="169.7" cy="311.3" r="6.6"/><circle cx="167.6" cy="309.4" r="6.2"/><circle cx="171.3" cy="314.5" r="6.9"/><circle cx="171.1" cy="309.5" r="6.5"/><circle cx="163.8" cy="318.7" r="6.7"/><circle cx="172.4" cy="313.2" r="7.2"/><circle cx="163.4" cy="316.6" r="6.5"/><circle cx="172.2" cy="315.0" r="5.5"/></g>
<g fill="#bc5a42"><circle cx="168.5" cy="315.6" r="8.7"/><circle cx="163.3" cy="318.5" r="6.3"/><circle cx="169.0" cy="307.9" r="7.2"/><circle cx="168.4" cy="324.0" r="6.5"/><circle cx="172.1" cy="322.4" r="5.7"/><circle cx="169.7" cy="311.3" r="6.6"/><circle cx="167.6" cy="309.4" r="6.2"/><circle cx="171.3" cy="314.5" r="6.9"/><circle cx="171.1" cy="309.5" r="6.5"/><circle cx="163.8" cy="318.7" r="6.7"/><circle cx="172.4" cy="313.2" r="7.2"/><circle cx="163.4" cy="316.6" r="6.5"/><circle cx="172.2" cy="315.0" r="5.5"/></g>
<g fill="url(#tg6)"><circle cx="163.3" cy="318.5" r="5.8"/><circle cx="169.0" cy="307.9" r="6.7"/><circle cx="168.4" cy="324.0" r="6.0"/><circle cx="172.1" cy="322.4" r="5.2"/><circle cx="169.7" cy="311.3" r="6.1"/><circle cx="167.6" cy="309.4" r="5.7"/><circle cx="171.3" cy="314.5" r="6.4"/><circle cx="171.1" cy="309.5" r="6.0"/><circle cx="163.8" cy="318.7" r="6.2"/><circle cx="172.4" cy="313.2" r="6.7"/><circle cx="163.4" cy="316.6" r="6.0"/><circle cx="172.2" cy="315.0" r="5.0"/><circle cx="168.5" cy="315.6" r="8.2"/></g>
<g fill="#7a2a1c" opacity=".4" filter="url(#bl07)"><circle cx="168.0" cy="309.5" r="2.4"/><circle cx="165.4" cy="315.2" r="2.8"/><circle cx="171.8" cy="312.6" r="2.5"/><circle cx="166.4" cy="316.5" r="1.8"/></g>
<g fill="#000" opacity="0.08" transform="translate(1.5,1.2)" filter="url(#bl1)"><circle cx="202.7" cy="316.0" r="7.4"/><circle cx="207.4" cy="315.9" r="5.6"/><circle cx="198.7" cy="312.4" r="4.8"/><circle cx="205.8" cy="315.0" r="5.3"/><circle cx="205.9" cy="317.0" r="5.8"/><circle cx="207.8" cy="316.8" r="5.5"/><circle cx="200.4" cy="318.4" r="4.6"/><circle cx="203.6" cy="311.4" r="5.3"/><circle cx="202.4" cy="318.8" r="6.3"/><circle cx="203.7" cy="311.5" r="5.3"/><circle cx="202.3" cy="311.4" r="4.8"/><circle cx="204.1" cy="312.3" r="6.2"/></g>
<g fill="#bc5a42"><circle cx="202.7" cy="316.0" r="7.4"/><circle cx="207.4" cy="315.9" r="5.6"/><circle cx="198.7" cy="312.4" r="4.8"/><circle cx="205.8" cy="315.0" r="5.3"/><circle cx="205.9" cy="317.0" r="5.8"/><circle cx="207.8" cy="316.8" r="5.5"/><circle cx="200.4" cy="318.4" r="4.6"/><circle cx="203.6" cy="311.4" r="5.3"/><circle cx="202.4" cy="318.8" r="6.3"/><circle cx="203.7" cy="311.5" r="5.3"/><circle cx="202.3" cy="311.4" r="4.8"/><circle cx="204.1" cy="312.3" r="6.2"/></g>
<g fill="url(#tg6)"><circle cx="207.4" cy="315.9" r="5.1"/><circle cx="198.7" cy="312.4" r="4.3"/><circle cx="205.8" cy="315.0" r="4.8"/><circle cx="205.9" cy="317.0" r="5.3"/><circle cx="207.8" cy="316.8" r="5.0"/><circle cx="200.4" cy="318.4" r="4.1"/><circle cx="203.6" cy="311.4" r="4.8"/><circle cx="202.4" cy="318.8" r="5.8"/><circle cx="203.7" cy="311.5" r="4.8"/><circle cx="202.3" cy="311.4" r="4.3"/><circle cx="204.1" cy="312.3" r="5.7"/><circle cx="202.7" cy="316.0" r="6.9"/></g>
<g fill="#7a2a1c" opacity=".4" filter="url(#bl07)"><circle cx="205.8" cy="311.7" r="2.1"/><circle cx="203.9" cy="318.6" r="2.3"/><circle cx="206.6" cy="313.9" r="2.3"/></g>
<g fill="#000" opacity="0.08" transform="translate(1.5,1.2)" filter="url(#bl1)"><circle cx="234.2" cy="317.1" r="7.1"/><circle cx="232.4" cy="313.2" r="4.9"/><circle cx="240.5" cy="315.4" r="5.6"/><circle cx="238.3" cy="313.9" r="4.6"/><circle cx="229.1" cy="317.8" r="4.9"/><circle cx="239.8" cy="313.9" r="4.5"/><circle cx="229.2" cy="313.9" r="4.8"/><circle cx="235.9" cy="319.0" r="5.6"/><circle cx="232.2" cy="319.9" r="5.6"/><circle cx="233.6" cy="320.4" r="5.1"/><circle cx="240.0" cy="318.6" r="5.8"/><circle cx="231.7" cy="319.0" r="5.7"/><circle cx="230.8" cy="316.2" r="4.4"/></g>
<g fill="#bc5a42"><circle cx="234.2" cy="317.1" r="7.1"/><circle cx="232.4" cy="313.2" r="4.9"/><circle cx="240.5" cy="315.4" r="5.6"/><circle cx="238.3" cy="313.9" r="4.6"/><circle cx="229.1" cy="317.8" r="4.9"/><circle cx="239.8" cy="313.9" r="4.5"/><circle cx="229.2" cy="313.9" r="4.8"/><circle cx="235.9" cy="319.0" r="5.6"/><circle cx="232.2" cy="319.9" r="5.6"/><circle cx="233.6" cy="320.4" r="5.1"/><circle cx="240.0" cy="318.6" r="5.8"/><circle cx="231.7" cy="319.0" r="5.7"/><circle cx="230.8" cy="316.2" r="4.4"/></g>
<g fill="url(#tg6)"><circle cx="232.4" cy="313.2" r="4.4"/><circle cx="240.5" cy="315.4" r="5.1"/><circle cx="238.3" cy="313.9" r="4.1"/><circle cx="229.1" cy="317.8" r="4.4"/><circle cx="239.8" cy="313.9" r="4.0"/><circle cx="229.2" cy="313.9" r="4.3"/><circle cx="235.9" cy="319.0" r="5.1"/><circle cx="232.2" cy="319.9" r="5.1"/><circle cx="233.6" cy="320.4" r="4.6"/><circle cx="240.0" cy="318.6" r="5.3"/><circle cx="231.7" cy="319.0" r="5.2"/><circle cx="230.8" cy="316.2" r="3.9"/><circle cx="234.2" cy="317.1" r="6.6"/></g>
<g fill="#7a2a1c" opacity=".4" filter="url(#bl07)"><circle cx="233.5" cy="320.1" r="1.5"/><circle cx="234.8" cy="317.1" r="1.8"/><circle cx="230.7" cy="320.9" r="2.2"/><circle cx="235.3" cy="319.9" r="2.2"/></g>
<g fill="#000" opacity="0.08" transform="translate(1.5,1.2)" filter="url(#bl1)"><circle cx="267.5" cy="316.5" r="7.3"/><circle cx="268.8" cy="310.9" r="4.8"/><circle cx="266.4" cy="319.5" r="5.7"/><circle cx="271.4" cy="318.1" r="5.8"/><circle cx="267.0" cy="323.1" r="5.2"/><circle cx="264.7" cy="318.6" r="5.8"/><circle cx="269.1" cy="311.6" r="6.1"/><circle cx="271.7" cy="312.4" r="4.7"/><circle cx="265.9" cy="312.1" r="5.6"/><circle cx="272.1" cy="317.3" r="5.2"/><circle cx="264.9" cy="312.9" r="5.7"/><circle cx="266.3" cy="322.3" r="6.1"/><circle cx="266.6" cy="311.4" r="6.1"/></g>
<g fill="#bc5a42"><circle cx="267.5" cy="316.5" r="7.3"/><circle cx="268.8" cy="310.9" r="4.8"/><circle cx="266.4" cy="319.5" r="5.7"/><circle cx="271.4" cy="318.1" r="5.8"/><circle cx="267.0" cy="323.1" r="5.2"/><circle cx="264.7" cy="318.6" r="5.8"/><circle cx="269.1" cy="311.6" r="6.1"/><circle cx="271.7" cy="312.4" r="4.7"/><circle cx="265.9" cy="312.1" r="5.6"/><circle cx="272.1" cy="317.3" r="5.2"/><circle cx="264.9" cy="312.9" r="5.7"/><circle cx="266.3" cy="322.3" r="6.1"/><circle cx="266.6" cy="311.4" r="6.1"/></g>
<g fill="url(#tg6)"><circle cx="268.8" cy="310.9" r="4.3"/><circle cx="266.4" cy="319.5" r="5.2"/><circle cx="271.4" cy="318.1" r="5.3"/><circle cx="267.0" cy="323.1" r="4.7"/><circle cx="264.7" cy="318.6" r="5.3"/><circle cx="269.1" cy="311.6" r="5.6"/><circle cx="271.7" cy="312.4" r="4.2"/><circle cx="265.9" cy="312.1" r="5.1"/><circle cx="272.1" cy="317.3" r="4.7"/><circle cx="264.9" cy="312.9" r="5.2"/><circle cx="266.3" cy="322.3" r="5.6"/><circle cx="266.6" cy="311.4" r="5.6"/><circle cx="267.5" cy="316.5" r="6.8"/></g>
<g fill="#7a2a1c" opacity=".4" filter="url(#bl07)"><circle cx="269.3" cy="314.8" r="2.4"/><circle cx="264.2" cy="311.7" r="2.3"/><circle cx="263.5" cy="316.1" r="2.1"/><circle cx="264.0" cy="313.6" r="2.4"/></g>
<rect x="64.30" y="333.30" width="199.70" height="10.50" fill="#ececec"/>
<rect x="64.30" y="333.30" width="199.70" height="1.00" fill="#b0b0b0"/>
<rect x="64.30" y="333.30" width="199.70" height="10.50" fill="url(#rp2)"/>
<text x="67.30" y="342.60" font-size="3.2" text-anchor="middle" fill="#444" font-weight="normal">0</text>
<text x="76.75" y="342.60" font-size="3.2" text-anchor="middle" fill="#444" font-weight="normal">1</text>
<text x="86.20" y="342.60" font-size="3.2" text-anchor="middle" fill="#444" font-weight="normal">2</text>
<text x="95.65" y="342.60" font-size="3.2" text-anchor="middle" fill="#444" font-weight="normal">3</text>
<text x="105.10" y="342.60" font-size="3.2" text-anchor="middle" fill="#444" font-weight="normal">4</text>
<text x="114.55" y="342.60" font-size="3.2" text-anchor="middle" fill="#444" font-weight="normal">5</text>
<text x="124.00" y="342.60" font-size="3.2" text-anchor="middle" fill="#444" font-weight="normal">6</text>
<text x="133.45" y="342.60" font-size="3.2" text-anchor="middle" fill="#444" font-weight="normal">7</text>
<text x="142.90" y="342.60" font-size="3.2" text-anchor="middle" fill="#444" font-weight="normal">8</text>
<text x="152.35" y="342.60" font-size="3.2" text-anchor="middle" fill="#444" font-weight="normal">9</text>
<text x="161.80" y="342.60" font-size="3.2" text-anchor="middle" fill="#444" font-weight="normal">10</text>
<text x="171.25" y="342.60" font-size="3.2" text-anchor="middle" fill="#444" font-weight="normal">11</text>
<text x="180.70" y="342.60" font-size="3.2" text-anchor="middle" fill="#444" font-weight="normal">12</text>
<text x="190.15" y="342.60" font-size="3.2" text-anchor="middle" fill="#444" font-weight="normal">13</text>
<text x="199.60" y="342.60" font-size="3.2" text-anchor="middle" fill="#444" font-weight="normal">14</text>
<text x="209.05" y="342.60" font-size="3.2" text-anchor="middle" fill="#444" font-weight="normal">15</text>
<text x="218.50" y="342.60" font-size="3.2" text-anchor="middle" fill="#444" font-weight="normal">16</text>
<text x="227.95" y="342.60" font-size="3.2" text-anchor="middle" fill="#444" font-weight="normal">17</text>
<text x="237.40" y="342.60" font-size="3.2" text-anchor="middle" fill="#444" font-weight="normal">18</text>
<text x="246.85" y="342.60" font-size="3.2" text-anchor="middle" fill="#444" font-weight="normal">19</text>
<text x="256.30" y="342.60" font-size="3.2" text-anchor="middle" fill="#444" font-weight="normal">20</text>
<rect x="68.90" y="361.90" width="171.60" height="89.40" fill="#fbfaf8"/>
<g fill="#000" opacity="0.08" transform="translate(1.5,1.2)" filter="url(#bl1)"><circle cx="80.4" cy="382.1" r="7.4"/><circle cx="82.5" cy="380.1" r="5.0"/><circle cx="83.7" cy="382.1" r="6.1"/><circle cx="83.1" cy="381.7" r="5.0"/><circle cx="84.1" cy="377.7" r="5.0"/><circle cx="77.2" cy="379.7" r="5.2"/><circle cx="77.2" cy="385.5" r="5.3"/><circle cx="82.4" cy="382.7" r="5.9"/><circle cx="85.0" cy="380.8" r="5.1"/><circle cx="79.4" cy="384.0" r="6.2"/><circle cx="80.2" cy="379.4" r="5.9"/><circle cx="83.5" cy="377.6" r="5.4"/><circle cx="81.1" cy="379.5" r="5.9"/></g>
<g fill="#da7a30"><circle cx="80.4" cy="382.1" r="7.4"/><circle cx="82.5" cy="380.1" r="5.0"/><circle cx="83.7" cy="382.1" r="6.1"/><circle cx="83.1" cy="381.7" r="5.0"/><circle cx="84.1" cy="377.7" r="5.0"/><circle cx="77.2" cy="379.7" r="5.2"/><circle cx="77.2" cy="385.5" r="5.3"/><circle cx="82.4" cy="382.7" r="5.9"/><circle cx="85.0" cy="380.8" r="5.1"/><circle cx="79.4" cy="384.0" r="6.2"/><circle cx="80.2" cy="379.4" r="5.9"/><circle cx="83.5" cy="377.6" r="5.4"/><circle cx="81.1" cy="379.5" r="5.9"/></g>
<g fill="url(#tg7)"><circle cx="82.5" cy="380.1" r="4.5"/><circle cx="83.7" cy="382.1" r="5.6"/><circle cx="83.1" cy="381.7" r="4.5"/><circle cx="84.1" cy="377.7" r="4.5"/><circle cx="77.2" cy="379.7" r="4.7"/><circle cx="77.2" cy="385.5" r="4.8"/><circle cx="82.4" cy="382.7" r="5.4"/><circle cx="85.0" cy="380.8" r="4.6"/><circle cx="79.4" cy="384.0" r="5.7"/><circle cx="80.2" cy="379.4" r="5.4"/><circle cx="83.5" cy="377.6" r="4.9"/><circle cx="81.1" cy="379.5" r="5.4"/><circle cx="80.4" cy="382.1" r="6.9"/></g>
<g fill="#c85020" opacity=".4" filter="url(#bl07)"><circle cx="82.3" cy="381.1" r="1.8"/><circle cx="82.2" cy="383.9" r="1.6"/><circle cx="79.7" cy="377.3" r="2.5"/><circle cx="77.1" cy="380.5" r="2.5"/></g>
<g fill="#000" opacity="0.08" transform="translate(1.5,1.2)" filter="url(#bl1)"><circle cx="106.8" cy="379.0" r="8.2"/><circle cx="110.1" cy="379.9" r="6.8"/><circle cx="105.4" cy="373.3" r="5.7"/><circle cx="104.0" cy="381.3" r="5.7"/><circle cx="109.0" cy="373.8" r="6.2"/><circle cx="103.7" cy="381.7" r="5.7"/><circle cx="105.6" cy="386.3" r="5.2"/><circle cx="108.9" cy="385.5" r="5.2"/><circle cx="106.5" cy="382.7" r="6.1"/><circle cx="105.9" cy="373.1" r="5.7"/><circle cx="102.6" cy="383.8" r="5.9"/><circle cx="111.8" cy="378.6" r="6.0"/><circle cx="105.3" cy="374.7" r="6.2"/></g>
<g fill="#da7a30"><circle cx="106.8" cy="379.0" r="8.2"/><circle cx="110.1" cy="379.9" r="6.8"/><circle cx="105.4" cy="373.3" r="5.7"/><circle cx="104.0" cy="381.3" r="5.7"/><circle cx="109.0" cy="373.8" r="6.2"/><circle cx="103.7" cy="381.7" r="5.7"/><circle cx="105.6" cy="386.3" r="5.2"/><circle cx="108.9" cy="385.5" r="5.2"/><circle cx="106.5" cy="382.7" r="6.1"/><circle cx="105.9" cy="373.1" r="5.7"/><circle cx="102.6" cy="383.8" r="5.9"/><circle cx="111.8" cy="378.6" r="6.0"/><circle cx="105.3" cy="374.7" r="6.2"/></g>
<g fill="url(#tg7)"><circle cx="110.1" cy="379.9" r="6.3"/><circle cx="105.4" cy="373.3" r="5.2"/><circle cx="104.0" cy="381.3" r="5.2"/><circle cx="109.0" cy="373.8" r="5.7"/><circle cx="103.7" cy="381.7" r="5.2"/><circle cx="105.6" cy="386.3" r="4.7"/><circle cx="108.9" cy="385.5" r="4.7"/><circle cx="106.5" cy="382.7" r="5.6"/><circle cx="105.9" cy="373.1" r="5.2"/><circle cx="102.6" cy="383.8" r="5.4"/><circle cx="111.8" cy="378.6" r="5.5"/><circle cx="105.3" cy="374.7" r="5.7"/><circle cx="106.8" cy="379.0" r="7.7"/></g>
<g fill="#c85020" opacity=".4" filter="url(#bl07)"><circle cx="108.9" cy="373.5" r="2.4"/><circle cx="104.0" cy="376.8" r="1.8"/><circle cx="107.3" cy="374.3" r="2.6"/><circle cx="108.5" cy="379.9" r="1.9"/></g>
<g fill="#000" opacity="0.08" transform="translate(1.5,1.2)" filter="url(#bl1)"><circle cx="139.9" cy="379.9" r="8.1"/><circle cx="139.4" cy="373.4" r="6.4"/><circle cx="136.0" cy="376.7" r="6.6"/><circle cx="138.1" cy="377.7" r="5.4"/><circle cx="133.9" cy="379.1" r="5.0"/><circle cx="140.7" cy="370.5" r="5.0"/><circle cx="142.8" cy="380.3" r="5.7"/><circle cx="137.3" cy="385.0" r="6.0"/><circle cx="138.2" cy="382.2" r="5.9"/><circle cx="142.7" cy="380.3" r="6.8"/><circle cx="142.7" cy="372.8" r="6.0"/><circle cx="144.9" cy="379.6" r="5.5"/><circle cx="139.6" cy="386.2" r="5.7"/></g>
<g fill="#da7a30"><circle cx="139.9" cy="379.9" r="8.1"/><circle cx="139.4" cy="373.4" r="6.4"/><circle cx="136.0" cy="376.7" r="6.6"/><circle cx="138.1" cy="377.7" r="5.4"/><circle cx="133.9" cy="379.1" r="5.0"/><circle cx="140.7" cy="370.5" r="5.0"/><circle cx="142.8" cy="380.3" r="5.7"/><circle cx="137.3" cy="385.0" r="6.0"/><circle cx="138.2" cy="382.2" r="5.9"/><circle cx="142.7" cy="380.3" r="6.8"/><circle cx="142.7" cy="372.8" r="6.0"/><circle cx="144.9" cy="379.6" r="5.5"/><circle cx="139.6" cy="386.2" r="5.7"/></g>
<g fill="url(#tg7)"><circle cx="139.4" cy="373.4" r="5.9"/><circle cx="136.0" cy="376.7" r="6.1"/><circle cx="138.1" cy="377.7" r="4.9"/><circle cx="133.9" cy="379.1" r="4.5"/><circle cx="140.7" cy="370.5" r="4.5"/><circle cx="142.8" cy="380.3" r="5.2"/><circle cx="137.3" cy="385.0" r="5.5"/><circle cx="138.2" cy="382.2" r="5.4"/><circle cx="142.7" cy="380.3" r="6.3"/><circle cx="142.7" cy="372.8" r="5.5"/><circle cx="144.9" cy="379.6" r="5.0"/><circle cx="139.6" cy="386.2" r="5.2"/><circle cx="139.9" cy="379.9" r="7.6"/></g>
<g fill="#c85020" opacity=".4" filter="url(#bl07)"><circle cx="135.5" cy="377.1" r="2.1"/><circle cx="139.7" cy="383.9" r="1.7"/><circle cx="136.4" cy="375.6" r="1.7"/><circle cx="141.4" cy="384.1" r="1.8"/></g>
<g fill="#000" opacity="0.08" transform="translate(1.5,1.2)" filter="url(#bl1)"><circle cx="165.8" cy="376.9" r="6.4"/><circle cx="167.4" cy="376.3" r="5.1"/><circle cx="165.3" cy="382.1" r="4.0"/><circle cx="167.6" cy="373.2" r="4.1"/><circle cx="165.1" cy="369.3" r="4.7"/><circle cx="165.1" cy="369.7" r="5.3"/><circle cx="170.1" cy="378.9" r="4.1"/><circle cx="164.6" cy="382.0" r="5.4"/><circle cx="167.8" cy="371.4" r="4.7"/><circle cx="165.2" cy="372.6" r="4.7"/><circle cx="162.6" cy="373.3" r="4.3"/><circle cx="166.5" cy="383.6" r="4.9"/><circle cx="162.8" cy="377.2" r="5.4"/></g>
<g fill="#da7a30"><circle cx="165.8" cy="376.9" r="6.4"/><circle cx="167.4" cy="376.3" r="5.1"/><circle cx="165.3" cy="382.1" r="4.0"/><circle cx="167.6" cy="373.2" r="4.1"/><circle cx="165.1" cy="369.3" r="4.7"/><circle cx="165.1" cy="369.7" r="5.3"/><circle cx="170.1" cy="378.9" r="4.1"/><circle cx="164.6" cy="382.0" r="5.4"/><circle cx="167.8" cy="371.4" r="4.7"/><circle cx="165.2" cy="372.6" r="4.7"/><circle cx="162.6" cy="373.3" r="4.3"/><circle cx="166.5" cy="383.6" r="4.9"/><circle cx="162.8" cy="377.2" r="5.4"/></g>
<g fill="url(#tg7)"><circle cx="167.4" cy="376.3" r="4.6"/><circle cx="165.3" cy="382.1" r="3.5"/><circle cx="167.6" cy="373.2" r="3.6"/><circle cx="165.1" cy="369.3" r="4.2"/><circle cx="165.1" cy="369.7" r="4.8"/><circle cx="170.1" cy="378.9" r="3.6"/><circle cx="164.6" cy="382.0" r="4.9"/><circle cx="167.8" cy="371.4" r="4.2"/><circle cx="165.2" cy="372.6" r="4.2"/><circle cx="162.6" cy="373.3" r="3.8"/><circle cx="166.5" cy="383.6" r="4.4"/><circle cx="162.8" cy="377.2" r="4.9"/><circle cx="165.8" cy="376.9" r="5.9"/></g>
<g fill="#c85020" opacity=".4" filter="url(#bl07)"><circle cx="166.8" cy="377.3" r="1.8"/><circle cx="163.7" cy="379.5" r="1.8"/><circle cx="168.9" cy="374.4" r="1.9"/><circle cx="167.4" cy="377.2" r="1.4"/></g>
<g fill="#000" opacity="0.08" transform="translate(1.5,1.2)" filter="url(#bl1)"><circle cx="198.8" cy="377.7" r="8.1"/><circle cx="187.2" cy="375.6" r="5.1"/><circle cx="189.6" cy="379.9" r="6.6"/><circle cx="190.4" cy="381.1" r="6.1"/><circle cx="192.0" cy="373.7" r="5.2"/><circle cx="194.2" cy="379.6" r="6.1"/><circle cx="199.4" cy="383.3" r="5.2"/><circle cx="191.9" cy="378.8" r="5.9"/><circle cx="206.6" cy="374.9" r="6.3"/><circle cx="188.2" cy="375.8" r="5.2"/><circle cx="201.6" cy="381.1" r="6.7"/><circle cx="210.0" cy="377.4" r="5.3"/><circle cx="207.5" cy="377.7" r="5.4"/></g>
<g fill="#da7a30"><circle cx="198.8" cy="377.7" r="8.1"/><circle cx="187.2" cy="375.6" r="5.1"/><circle cx="189.6" cy="379.9" r="6.6"/><circle cx="190.4" cy="381.1" r="6.1"/><circle cx="192.0" cy="373.7" r="5.2"/><circle cx="194.2" cy="379.6" r="6.1"/><circle cx="199.4" cy="383.3" r="5.2"/><circle cx="191.9" cy="378.8" r="5.9"/><circle cx="206.6" cy="374.9" r="6.3"/><circle cx="188.2" cy="375.8" r="5.2"/><circle cx="201.6" cy="381.1" r="6.7"/><circle cx="210.0" cy="377.4" r="5.3"/><circle cx="207.5" cy="377.7" r="5.4"/></g>
<g fill="url(#tg7)"><circle cx="187.2" cy="375.6" r="4.6"/><circle cx="189.6" cy="379.9" r="6.1"/><circle cx="190.4" cy="381.1" r="5.6"/><circle cx="192.0" cy="373.7" r="4.7"/><circle cx="194.2" cy="379.6" r="5.6"/><circle cx="199.4" cy="383.3" r="4.7"/><circle cx="191.9" cy="378.8" r="5.4"/><circle cx="206.6" cy="374.9" r="5.8"/><circle cx="188.2" cy="375.8" r="4.7"/><circle cx="201.6" cy="381.1" r="6.2"/><circle cx="210.0" cy="377.4" r="4.8"/><circle cx="207.5" cy="377.7" r="4.9"/><circle cx="198.8" cy="377.7" r="7.6"/></g>
<g fill="#c85020" opacity=".4" filter="url(#bl07)"><circle cx="205.1" cy="373.4" r="2.1"/><circle cx="198.0" cy="375.9" r="2.3"/><circle cx="198.5" cy="381.6" r="2.5"/><circle cx="205.8" cy="378.5" r="2.7"/></g>
<g fill="#000" opacity="0.08" transform="translate(1.5,1.2)" filter="url(#bl1)"><circle cx="230.9" cy="382.1" r="7.4"/><circle cx="234.0" cy="385.3" r="4.7"/><circle cx="227.7" cy="383.1" r="6.1"/><circle cx="234.4" cy="383.4" r="5.9"/><circle cx="233.7" cy="381.2" r="5.3"/><circle cx="234.2" cy="385.1" r="5.3"/><circle cx="226.2" cy="382.7" r="4.7"/><circle cx="233.5" cy="384.0" r="4.6"/><circle cx="230.5" cy="384.2" r="6.2"/><circle cx="233.7" cy="386.1" r="5.1"/><circle cx="227.3" cy="382.4" r="4.7"/><circle cx="230.0" cy="379.7" r="5.5"/><circle cx="227.4" cy="382.9" r="5.4"/></g>
<g fill="#da7a30"><circle cx="230.9" cy="382.1" r="7.4"/><circle cx="234.0" cy="385.3" r="4.7"/><circle cx="227.7" cy="383.1" r="6.1"/><circle cx="234.4" cy="383.4" r="5.9"/><circle cx="233.7" cy="381.2" r="5.3"/><circle cx="234.2" cy="385.1" r="5.3"/><circle cx="226.2" cy="382.7" r="4.7"/><circle cx="233.5" cy="384.0" r="4.6"/><circle cx="230.5" cy="384.2" r="6.2"/><circle cx="233.7" cy="386.1" r="5.1"/><circle cx="227.3" cy="382.4" r="4.7"/><circle cx="230.0" cy="379.7" r="5.5"/><circle cx="227.4" cy="382.9" r="5.4"/></g>
<g fill="url(#tg7)"><circle cx="234.0" cy="385.3" r="4.2"/><circle cx="227.7" cy="383.1" r="5.6"/><circle cx="234.4" cy="383.4" r="5.4"/><circle cx="233.7" cy="381.2" r="4.8"/><circle cx="234.2" cy="385.1" r="4.8"/><circle cx="226.2" cy="382.7" r="4.2"/><circle cx="233.5" cy="384.0" r="4.1"/><circle cx="230.5" cy="384.2" r="5.7"/><circle cx="233.7" cy="386.1" r="4.6"/><circle cx="227.3" cy="382.4" r="4.2"/><circle cx="230.0" cy="379.7" r="5.0"/><circle cx="227.4" cy="382.9" r="4.9"/><circle cx="230.9" cy="382.1" r="6.9"/></g>
<g fill="#c85020" opacity=".4" filter="url(#bl07)"><circle cx="229.0" cy="378.9" r="2.2"/><circle cx="233.0" cy="385.0" r="2.0"/><circle cx="226.6" cy="377.7" r="2.2"/><circle cx="233.2" cy="383.7" r="1.8"/></g>
<g fill="#000" opacity="0.08" transform="translate(1.5,1.2)" filter="url(#bl1)"><circle cx="83.8" cy="422.8" r="4.6"/><circle cx="84.7" cy="421.1" r="3.3"/><circle cx="87.1" cy="423.8" r="3.6"/><circle cx="84.9" cy="424.3" r="3.1"/><circle cx="81.7" cy="422.8" r="3.1"/></g>
<g fill="#da7a30"><circle cx="83.8" cy="422.8" r="4.6"/><circle cx="84.7" cy="421.1" r="3.3"/><circle cx="87.1" cy="423.8" r="3.6"/><circle cx="84.9" cy="424.3" r="3.1"/><circle cx="81.7" cy="422.8" r="3.1"/></g>
<g fill="url(#tg7)"><circle cx="84.7" cy="421.1" r="2.8"/><circle cx="87.1" cy="423.8" r="3.1"/><circle cx="84.9" cy="424.3" r="2.6"/><circle cx="81.7" cy="422.8" r="2.6"/><circle cx="83.8" cy="422.8" r="4.1"/></g>
<g fill="#c85020" opacity=".4" filter="url(#bl07)"><circle cx="84.4" cy="423.7" r="1.2"/></g>
<g fill="#000" opacity="0.08" transform="translate(1.5,1.2)" filter="url(#bl1)"><circle cx="110.6" cy="423.7" r="6.5"/><circle cx="109.0" cy="420.6" r="5.1"/><circle cx="106.8" cy="422.6" r="4.0"/><circle cx="108.2" cy="421.0" r="4.6"/><circle cx="111.8" cy="420.4" r="5.2"/><circle cx="114.6" cy="424.1" r="4.5"/><circle cx="108.8" cy="428.3" r="4.3"/><circle cx="112.5" cy="422.1" r="4.2"/><circle cx="111.6" cy="419.1" r="4.3"/></g>
<g fill="#da7a30"><circle cx="110.6" cy="423.7" r="6.5"/><circle cx="109.0" cy="420.6" r="5.1"/><circle cx="106.8" cy="422.6" r="4.0"/><circle cx="108.2" cy="421.0" r="4.6"/><circle cx="111.8" cy="420.4" r="5.2"/><circle cx="114.6" cy="424.1" r="4.5"/><circle cx="108.8" cy="428.3" r="4.3"/><circle cx="112.5" cy="422.1" r="4.2"/><circle cx="111.6" cy="419.1" r="4.3"/></g>
<g fill="url(#tg7)"><circle cx="109.0" cy="420.6" r="4.6"/><circle cx="106.8" cy="422.6" r="3.5"/><circle cx="108.2" cy="421.0" r="4.1"/><circle cx="111.8" cy="420.4" r="4.7"/><circle cx="114.6" cy="424.1" r="4.0"/><circle cx="108.8" cy="428.3" r="3.8"/><circle cx="112.5" cy="422.1" r="3.7"/><circle cx="111.6" cy="419.1" r="3.8"/><circle cx="110.6" cy="423.7" r="6.0"/></g>
<g fill="#c85020" opacity=".4" filter="url(#bl07)"><circle cx="113.5" cy="422.3" r="1.7"/><circle cx="110.7" cy="423.1" r="2.1"/></g>
<g fill="#000" opacity="0.08" transform="translate(1.5,1.2)" filter="url(#bl1)"><circle cx="139.5" cy="422.4" r="5.9"/><circle cx="137.0" cy="420.5" r="3.7"/><circle cx="141.5" cy="424.4" r="4.3"/><circle cx="141.2" cy="425.3" r="4.7"/><circle cx="138.5" cy="426.1" r="4.5"/><circle cx="142.7" cy="420.7" r="3.9"/><circle cx="140.0" cy="424.4" r="4.5"/></g>
<g fill="#da7a30"><circle cx="139.5" cy="422.4" r="5.9"/><circle cx="137.0" cy="420.5" r="3.7"/><circle cx="141.5" cy="424.4" r="4.3"/><circle cx="141.2" cy="425.3" r="4.7"/><circle cx="138.5" cy="426.1" r="4.5"/><circle cx="142.7" cy="420.7" r="3.9"/><circle cx="140.0" cy="424.4" r="4.5"/></g>
<g fill="url(#tg7)"><circle cx="137.0" cy="420.5" r="3.2"/><circle cx="141.5" cy="424.4" r="3.8"/><circle cx="141.2" cy="425.3" r="4.2"/><circle cx="138.5" cy="426.1" r="4.0"/><circle cx="142.7" cy="420.7" r="3.4"/><circle cx="140.0" cy="424.4" r="4.0"/><circle cx="139.5" cy="422.4" r="5.4"/></g>
<g fill="#c85020" opacity=".4" filter="url(#bl07)"><circle cx="136.9" cy="421.9" r="2.0"/><circle cx="138.2" cy="425.8" r="1.5"/></g>
<g fill="#000" opacity="0.08" transform="translate(1.5,1.2)" filter="url(#bl1)"><circle cx="171.3" cy="423.7" r="6.7"/><circle cx="168.3" cy="423.8" r="5.1"/><circle cx="175.2" cy="423.1" r="5.1"/><circle cx="172.4" cy="421.0" r="4.8"/><circle cx="170.1" cy="421.8" r="4.7"/><circle cx="175.2" cy="424.2" r="5.1"/><circle cx="174.0" cy="425.0" r="5.3"/><circle cx="170.9" cy="419.8" r="5.3"/><circle cx="171.2" cy="420.5" r="4.8"/></g>
<g fill="#da7a30"><circle cx="171.3" cy="423.7" r="6.7"/><circle cx="168.3" cy="423.8" r="5.1"/><circle cx="175.2" cy="423.1" r="5.1"/><circle cx="172.4" cy="421.0" r="4.8"/><circle cx="170.1" cy="421.8" r="4.7"/><circle cx="175.2" cy="424.2" r="5.1"/><circle cx="174.0" cy="425.0" r="5.3"/><circle cx="170.9" cy="419.8" r="5.3"/><circle cx="171.2" cy="420.5" r="4.8"/></g>
<g fill="url(#tg7)"><circle cx="168.3" cy="423.8" r="4.6"/><circle cx="175.2" cy="423.1" r="4.6"/><circle cx="172.4" cy="421.0" r="4.3"/><circle cx="170.1" cy="421.8" r="4.2"/><circle cx="175.2" cy="424.2" r="4.6"/><circle cx="174.0" cy="425.0" r="4.8"/><circle cx="170.9" cy="419.8" r="4.8"/><circle cx="171.2" cy="420.5" r="4.3"/><circle cx="171.3" cy="423.7" r="6.2"/></g>
<g fill="#c85020" opacity=".4" filter="url(#bl07)"><circle cx="174.5" cy="424.8" r="2.1"/><circle cx="168.8" cy="425.1" r="2.0"/></g>
<g fill="#000" opacity="0.08" transform="translate(1.5,1.2)" filter="url(#bl1)"><circle cx="200.6" cy="423.7" r="4.1"/><circle cx="200.6" cy="425.1" r="3.5"/><circle cx="199.3" cy="421.1" r="2.8"/><circle cx="199.5" cy="426.2" r="2.8"/><circle cx="200.0" cy="426.2" r="3.3"/></g>
<g fill="#da7a30"><circle cx="200.6" cy="423.7" r="4.1"/><circle cx="200.6" cy="425.1" r="3.5"/><circle cx="199.3" cy="421.1" r="2.8"/><circle cx="199.5" cy="426.2" r="2.8"/><circle cx="200.0" cy="426.2" r="3.3"/></g>
<g fill="url(#tg7)"><circle cx="200.6" cy="425.1" r="3.0"/><circle cx="199.3" cy="421.1" r="2.3"/><circle cx="199.5" cy="426.2" r="2.3"/><circle cx="200.0" cy="426.2" r="2.8"/><circle cx="200.6" cy="423.7" r="3.6"/></g>
<g fill="#c85020" opacity=".4" filter="url(#bl07)"><circle cx="201.3" cy="421.8" r="1.4"/></g>
<g fill="#000" opacity="0.08" transform="translate(1.5,1.2)" filter="url(#bl1)"><circle cx="229.6" cy="424.6" r="5.9"/><circle cx="228.2" cy="421.2" r="4.1"/><circle cx="227.0" cy="423.7" r="4.1"/><circle cx="229.8" cy="427.2" r="4.0"/><circle cx="227.6" cy="423.2" r="4.8"/><circle cx="230.7" cy="427.5" r="4.4"/><circle cx="232.1" cy="426.3" r="3.8"/></g>
<g fill="#da7a30"><circle cx="229.6" cy="424.6" r="5.9"/><circle cx="228.2" cy="421.2" r="4.1"/><circle cx="227.0" cy="423.7" r="4.1"/><circle cx="229.8" cy="427.2" r="4.0"/><circle cx="227.6" cy="423.2" r="4.8"/><circle cx="230.7" cy="427.5" r="4.4"/><circle cx="232.1" cy="426.3" r="3.8"/></g>
<g fill="url(#tg7)"><circle cx="228.2" cy="421.2" r="3.6"/><circle cx="227.0" cy="423.7" r="3.6"/><circle cx="229.8" cy="427.2" r="3.5"/><circle cx="227.6" cy="423.2" r="4.3"/><circle cx="230.7" cy="427.5" r="3.9"/><circle cx="232.1" cy="426.3" r="3.3"/><circle cx="229.6" cy="424.6" r="5.4"/></g>
<g fill="#c85020" opacity=".4" filter="url(#bl07)"><circle cx="229.4" cy="422.8" r="2.0"/><circle cx="228.6" cy="427.0" r="1.3"/></g>
<rect x="68.90" y="436.30" width="169.50" height="15.00" fill="#bcbcb4"/>
<rect x="68.90" y="445.90" width="169.50" height="5.40" fill="#d2d2ca"/>
<rect x="68.90" y="436.30" width="169.50" height="15.00" fill="url(#rp3)"/>
<rect x="67.60" y="465.20" width="172.10" height="89.40" fill="url(#c2bg)"/>
<g fill="#000" opacity="0.18" transform="translate(1.5,1.2)" filter="url(#bl1)"><circle cx="76.8" cy="486.9" r="6.2"/><circle cx="79.7" cy="488.0" r="5.2"/><circle cx="79.9" cy="489.3" r="4.1"/><circle cx="77.1" cy="482.3" r="3.9"/><circle cx="77.3" cy="484.6" r="4.8"/><circle cx="75.3" cy="485.9" r="4.5"/><circle cx="78.7" cy="488.7" r="4.2"/><circle cx="74.2" cy="488.6" r="5.0"/></g>
<g fill="#dca070"><circle cx="76.8" cy="486.9" r="6.2"/><circle cx="79.7" cy="488.0" r="5.2"/><circle cx="79.9" cy="489.3" r="4.1"/><circle cx="77.1" cy="482.3" r="3.9"/><circle cx="77.3" cy="484.6" r="4.8"/><circle cx="75.3" cy="485.9" r="4.5"/><circle cx="78.7" cy="488.7" r="4.2"/><circle cx="74.2" cy="488.6" r="5.0"/></g>
<g fill="url(#tg8)"><circle cx="79.7" cy="488.0" r="4.7"/><circle cx="79.9" cy="489.3" r="3.6"/><circle cx="77.1" cy="482.3" r="3.4"/><circle cx="77.3" cy="484.6" r="4.3"/><circle cx="75.3" cy="485.9" r="4.0"/><circle cx="78.7" cy="488.7" r="3.7"/><circle cx="74.2" cy="488.6" r="4.5"/><circle cx="76.8" cy="486.9" r="5.7"/></g>
<g fill="#d06040" opacity=".4" filter="url(#bl07)"><circle cx="74.6" cy="489.3" r="1.9"/><circle cx="76.2" cy="483.3" r="2.0"/></g>
<g fill="#000" opacity="0.18" transform="translate(1.5,1.2)" filter="url(#bl1)"><circle cx="105.1" cy="483.7" r="5.7"/><circle cx="100.4" cy="481.3" r="3.9"/><circle cx="100.2" cy="482.2" r="4.2"/><circle cx="108.7" cy="480.9" r="3.8"/><circle cx="111.6" cy="485.3" r="4.2"/><circle cx="105.6" cy="481.6" r="4.1"/><circle cx="110.3" cy="484.0" r="3.7"/><circle cx="110.5" cy="484.3" r="4.7"/><circle cx="106.5" cy="481.7" r="4.0"/></g>
<g fill="#dca070"><circle cx="105.1" cy="483.7" r="5.7"/><circle cx="100.4" cy="481.3" r="3.9"/><circle cx="100.2" cy="482.2" r="4.2"/><circle cx="108.7" cy="480.9" r="3.8"/><circle cx="111.6" cy="485.3" r="4.2"/><circle cx="105.6" cy="481.6" r="4.1"/><circle cx="110.3" cy="484.0" r="3.7"/><circle cx="110.5" cy="484.3" r="4.7"/><circle cx="106.5" cy="481.7" r="4.0"/></g>
<g fill="url(#tg8)"><circle cx="100.4" cy="481.3" r="3.4"/><circle cx="100.2" cy="482.2" r="3.7"/><circle cx="108.7" cy="480.9" r="3.3"/><circle cx="111.6" cy="485.3" r="3.7"/><circle cx="105.6" cy="481.6" r="3.6"/><circle cx="110.3" cy="484.0" r="3.2"/><circle cx="110.5" cy="484.3" r="4.2"/><circle cx="106.5" cy="481.7" r="3.5"/><circle cx="105.1" cy="483.7" r="5.2"/></g>
<g fill="#d06040" opacity=".4" filter="url(#bl07)"><circle cx="101.4" cy="481.3" r="1.5"/><circle cx="107.5" cy="482.6" r="1.8"/></g>
<g fill="#000" opacity="0.18" transform="translate(1.5,1.2)" filter="url(#bl1)"><circle cx="138.6" cy="480.1" r="7.1"/><circle cx="141.0" cy="480.0" r="5.9"/><circle cx="135.7" cy="480.3" r="5.7"/><circle cx="135.8" cy="477.3" r="4.7"/><circle cx="142.3" cy="481.0" r="5.7"/><circle cx="134.1" cy="481.3" r="4.5"/><circle cx="137.3" cy="481.7" r="5.8"/><circle cx="140.3" cy="482.0" r="5.7"/><circle cx="138.4" cy="476.9" r="4.5"/><circle cx="141.3" cy="477.9" r="5.0"/><circle cx="139.1" cy="475.3" r="5.2"/></g>
<g fill="#dca070"><circle cx="138.6" cy="480.1" r="7.1"/><circle cx="141.0" cy="480.0" r="5.9"/><circle cx="135.7" cy="480.3" r="5.7"/><circle cx="135.8" cy="477.3" r="4.7"/><circle cx="142.3" cy="481.0" r="5.7"/><circle cx="134.1" cy="481.3" r="4.5"/><circle cx="137.3" cy="481.7" r="5.8"/><circle cx="140.3" cy="482.0" r="5.7"/><circle cx="138.4" cy="476.9" r="4.5"/><circle cx="141.3" cy="477.9" r="5.0"/><circle cx="139.1" cy="475.3" r="5.2"/></g>
<g fill="url(#tg8)"><circle cx="141.0" cy="480.0" r="5.4"/><circle cx="135.7" cy="480.3" r="5.2"/><circle cx="135.8" cy="477.3" r="4.2"/><circle cx="142.3" cy="481.0" r="5.2"/><circle cx="134.1" cy="481.3" r="4.0"/><circle cx="137.3" cy="481.7" r="5.3"/><circle cx="140.3" cy="482.0" r="5.2"/><circle cx="138.4" cy="476.9" r="4.0"/><circle cx="141.3" cy="477.9" r="4.5"/><circle cx="139.1" cy="475.3" r="4.7"/><circle cx="138.6" cy="480.1" r="6.6"/></g>
<g fill="#d06040" opacity=".4" filter="url(#bl07)"><circle cx="138.2" cy="480.2" r="1.9"/><circle cx="142.4" cy="479.8" r="2.4"/><circle cx="139.5" cy="484.6" r="1.6"/></g>
<g fill="#000" opacity="0.18" transform="translate(1.5,1.2)" filter="url(#bl1)"><circle cx="163.1" cy="483.1" r="5.9"/><circle cx="163.9" cy="478.1" r="4.7"/><circle cx="163.1" cy="474.2" r="4.9"/><circle cx="163.3" cy="491.2" r="3.7"/><circle cx="160.6" cy="486.0" r="4.4"/><circle cx="165.2" cy="478.8" r="3.9"/><circle cx="160.7" cy="474.3" r="4.0"/><circle cx="162.7" cy="489.9" r="4.3"/><circle cx="161.2" cy="491.2" r="4.7"/><circle cx="162.1" cy="473.6" r="4.5"/><circle cx="164.7" cy="481.4" r="4.3"/><circle cx="163.8" cy="491.9" r="4.7"/><circle cx="162.1" cy="490.7" r="4.7"/></g>
<g fill="#dca070"><circle cx="163.1" cy="483.1" r="5.9"/><circle cx="163.9" cy="478.1" r="4.7"/><circle cx="163.1" cy="474.2" r="4.9"/><circle cx="163.3" cy="491.2" r="3.7"/><circle cx="160.6" cy="486.0" r="4.4"/><circle cx="165.2" cy="478.8" r="3.9"/><circle cx="160.7" cy="474.3" r="4.0"/><circle cx="162.7" cy="489.9" r="4.3"/><circle cx="161.2" cy="491.2" r="4.7"/><circle cx="162.1" cy="473.6" r="4.5"/><circle cx="164.7" cy="481.4" r="4.3"/><circle cx="163.8" cy="491.9" r="4.7"/><circle cx="162.1" cy="490.7" r="4.7"/></g>
<g fill="url(#tg8)"><circle cx="163.9" cy="478.1" r="4.2"/><circle cx="163.1" cy="474.2" r="4.4"/><circle cx="163.3" cy="491.2" r="3.2"/><circle cx="160.6" cy="486.0" r="3.9"/><circle cx="165.2" cy="478.8" r="3.4"/><circle cx="160.7" cy="474.3" r="3.5"/><circle cx="162.7" cy="489.9" r="3.8"/><circle cx="161.2" cy="491.2" r="4.2"/><circle cx="162.1" cy="473.6" r="4.0"/><circle cx="164.7" cy="481.4" r="3.8"/><circle cx="163.8" cy="491.9" r="4.2"/><circle cx="162.1" cy="490.7" r="4.2"/><circle cx="163.1" cy="483.1" r="5.4"/></g>
<g fill="#d06040" opacity=".4" filter="url(#bl07)"><circle cx="164.2" cy="483.6" r="1.6"/><circle cx="161.2" cy="480.3" r="1.6"/><circle cx="160.4" cy="480.1" r="1.6"/><circle cx="164.6" cy="489.8" r="1.5"/></g>
<g fill="#000" opacity="0.18" transform="translate(1.5,1.2)" filter="url(#bl1)"><circle cx="195.1" cy="481.4" r="7.3"/><circle cx="191.6" cy="485.2" r="4.9"/><circle cx="198.2" cy="480.6" r="5.2"/><circle cx="189.9" cy="480.9" r="4.7"/><circle cx="193.2" cy="484.7" r="5.5"/><circle cx="192.3" cy="481.2" r="4.9"/><circle cx="191.1" cy="480.3" r="4.6"/><circle cx="194.5" cy="484.6" r="5.6"/><circle cx="193.6" cy="477.7" r="6.0"/><circle cx="189.9" cy="484.2" r="4.8"/><circle cx="198.5" cy="478.1" r="5.4"/><circle cx="191.2" cy="480.0" r="4.7"/></g>
<g fill="#dca070"><circle cx="195.1" cy="481.4" r="7.3"/><circle cx="191.6" cy="485.2" r="4.9"/><circle cx="198.2" cy="480.6" r="5.2"/><circle cx="189.9" cy="480.9" r="4.7"/><circle cx="193.2" cy="484.7" r="5.5"/><circle cx="192.3" cy="481.2" r="4.9"/><circle cx="191.1" cy="480.3" r="4.6"/><circle cx="194.5" cy="484.6" r="5.6"/><circle cx="193.6" cy="477.7" r="6.0"/><circle cx="189.9" cy="484.2" r="4.8"/><circle cx="198.5" cy="478.1" r="5.4"/><circle cx="191.2" cy="480.0" r="4.7"/></g>
<g fill="url(#tg8)"><circle cx="191.6" cy="485.2" r="4.4"/><circle cx="198.2" cy="480.6" r="4.7"/><circle cx="189.9" cy="480.9" r="4.2"/><circle cx="193.2" cy="484.7" r="5.0"/><circle cx="192.3" cy="481.2" r="4.4"/><circle cx="191.1" cy="480.3" r="4.1"/><circle cx="194.5" cy="484.6" r="5.1"/><circle cx="193.6" cy="477.7" r="5.5"/><circle cx="189.9" cy="484.2" r="4.3"/><circle cx="198.5" cy="478.1" r="4.9"/><circle cx="191.2" cy="480.0" r="4.2"/><circle cx="195.1" cy="481.4" r="6.8"/></g>
<g fill="#d06040" opacity=".4" filter="url(#bl07)"><circle cx="198.7" cy="478.4" r="2.0"/><circle cx="195.9" cy="482.5" r="2.2"/><circle cx="196.9" cy="481.3" r="1.7"/></g>
<g fill="#000" opacity="0.18" transform="translate(1.5,1.2)" filter="url(#bl1)"><circle cx="228.3" cy="477.5" r="6.3"/><circle cx="233.1" cy="477.5" r="4.1"/><circle cx="229.1" cy="475.5" r="4.3"/><circle cx="224.9" cy="478.1" r="4.4"/><circle cx="227.0" cy="476.1" r="4.9"/><circle cx="226.5" cy="480.5" r="4.7"/><circle cx="230.4" cy="477.7" r="5.1"/><circle cx="227.8" cy="480.3" r="5.0"/></g>
<g fill="#dca070"><circle cx="228.3" cy="477.5" r="6.3"/><circle cx="233.1" cy="477.5" r="4.1"/><circle cx="229.1" cy="475.5" r="4.3"/><circle cx="224.9" cy="478.1" r="4.4"/><circle cx="227.0" cy="476.1" r="4.9"/><circle cx="226.5" cy="480.5" r="4.7"/><circle cx="230.4" cy="477.7" r="5.1"/><circle cx="227.8" cy="480.3" r="5.0"/></g>
<g fill="url(#tg8)"><circle cx="233.1" cy="477.5" r="3.6"/><circle cx="229.1" cy="475.5" r="3.8"/><circle cx="224.9" cy="478.1" r="3.9"/><circle cx="227.0" cy="476.1" r="4.4"/><circle cx="226.5" cy="480.5" r="4.2"/><circle cx="230.4" cy="477.7" r="4.6"/><circle cx="227.8" cy="480.3" r="4.5"/><circle cx="228.3" cy="477.5" r="5.8"/></g>
<g fill="#d06040" opacity=".4" filter="url(#bl07)"><circle cx="231.9" cy="476.8" r="1.8"/><circle cx="224.6" cy="477.0" r="2.1"/></g>
<g fill="#000" opacity="0.18" transform="translate(1.5,1.2)" filter="url(#bl1)"><circle cx="76.4" cy="517.1" r="4.6"/><circle cx="74.3" cy="515.8" r="3.4"/><circle cx="76.9" cy="518.5" r="3.9"/><circle cx="75.3" cy="516.3" r="3.3"/><circle cx="78.4" cy="518.1" r="3.9"/></g>
<g fill="#dca070"><circle cx="76.4" cy="517.1" r="4.6"/><circle cx="74.3" cy="515.8" r="3.4"/><circle cx="76.9" cy="518.5" r="3.9"/><circle cx="75.3" cy="516.3" r="3.3"/><circle cx="78.4" cy="518.1" r="3.9"/></g>
<g fill="url(#tg8)"><circle cx="74.3" cy="515.8" r="2.9"/><circle cx="76.9" cy="518.5" r="3.4"/><circle cx="75.3" cy="516.3" r="2.8"/><circle cx="78.4" cy="518.1" r="3.4"/><circle cx="76.4" cy="517.1" r="4.1"/></g>
<g fill="#d06040" opacity=".4" filter="url(#bl07)"><circle cx="74.4" cy="514.2" r="1.1"/></g>
<g fill="#000" opacity="0.18" transform="translate(1.5,1.2)" filter="url(#bl1)"><circle cx="104.7" cy="520.7" r="6.4"/><circle cx="103.6" cy="515.2" r="4.7"/><circle cx="102.3" cy="519.9" r="4.0"/><circle cx="101.2" cy="518.7" r="4.4"/><circle cx="104.2" cy="518.3" r="5.0"/><circle cx="107.3" cy="523.2" r="4.7"/><circle cx="102.2" cy="518.3" r="5.4"/><circle cx="104.5" cy="515.4" r="5.1"/><circle cx="103.0" cy="516.8" r="5.4"/><circle cx="106.9" cy="522.2" r="5.3"/></g>
<g fill="#dca070"><circle cx="104.7" cy="520.7" r="6.4"/><circle cx="103.6" cy="515.2" r="4.7"/><circle cx="102.3" cy="519.9" r="4.0"/><circle cx="101.2" cy="518.7" r="4.4"/><circle cx="104.2" cy="518.3" r="5.0"/><circle cx="107.3" cy="523.2" r="4.7"/><circle cx="102.2" cy="518.3" r="5.4"/><circle cx="104.5" cy="515.4" r="5.1"/><circle cx="103.0" cy="516.8" r="5.4"/><circle cx="106.9" cy="522.2" r="5.3"/></g>
<g fill="url(#tg8)"><circle cx="103.6" cy="515.2" r="4.2"/><circle cx="102.3" cy="519.9" r="3.5"/><circle cx="101.2" cy="518.7" r="3.9"/><circle cx="104.2" cy="518.3" r="4.5"/><circle cx="107.3" cy="523.2" r="4.2"/><circle cx="102.2" cy="518.3" r="4.9"/><circle cx="104.5" cy="515.4" r="4.6"/><circle cx="103.0" cy="516.8" r="4.9"/><circle cx="106.9" cy="522.2" r="4.8"/><circle cx="104.7" cy="520.7" r="5.9"/></g>
<g fill="#d06040" opacity=".4" filter="url(#bl07)"><circle cx="104.1" cy="524.4" r="1.5"/><circle cx="101.8" cy="519.8" r="2.0"/><circle cx="105.1" cy="519.1" r="1.6"/></g>
<g fill="#000" opacity="0.18" transform="translate(1.5,1.2)" filter="url(#bl1)"><circle cx="135.3" cy="522.0" r="5.7"/><circle cx="134.1" cy="517.9" r="3.7"/><circle cx="136.8" cy="519.0" r="3.9"/><circle cx="135.7" cy="517.1" r="4.4"/><circle cx="133.8" cy="525.9" r="4.7"/><circle cx="132.0" cy="521.9" r="4.2"/><circle cx="135.8" cy="517.7" r="4.2"/><circle cx="134.7" cy="524.5" r="4.5"/></g>
<g fill="#dca070"><circle cx="135.3" cy="522.0" r="5.7"/><circle cx="134.1" cy="517.9" r="3.7"/><circle cx="136.8" cy="519.0" r="3.9"/><circle cx="135.7" cy="517.1" r="4.4"/><circle cx="133.8" cy="525.9" r="4.7"/><circle cx="132.0" cy="521.9" r="4.2"/><circle cx="135.8" cy="517.7" r="4.2"/><circle cx="134.7" cy="524.5" r="4.5"/></g>
<g fill="url(#tg8)"><circle cx="134.1" cy="517.9" r="3.2"/><circle cx="136.8" cy="519.0" r="3.4"/><circle cx="135.7" cy="517.1" r="3.9"/><circle cx="133.8" cy="525.9" r="4.2"/><circle cx="132.0" cy="521.9" r="3.7"/><circle cx="135.8" cy="517.7" r="3.7"/><circle cx="134.7" cy="524.5" r="4.0"/><circle cx="135.3" cy="522.0" r="5.2"/></g>
<g fill="#d06040" opacity=".4" filter="url(#bl07)"><circle cx="136.6" cy="521.8" r="1.3"/><circle cx="132.8" cy="520.9" r="1.9"/></g>
<g fill="#000" opacity="0.18" transform="translate(1.5,1.2)" filter="url(#bl1)"><circle cx="166.2" cy="521.4" r="6.2"/><circle cx="163.3" cy="516.7" r="4.4"/><circle cx="165.0" cy="525.5" r="4.9"/><circle cx="164.4" cy="523.3" r="4.0"/><circle cx="163.3" cy="527.8" r="3.9"/><circle cx="166.8" cy="528.3" r="4.8"/><circle cx="167.7" cy="514.6" r="4.5"/><circle cx="161.9" cy="520.5" r="4.1"/><circle cx="166.4" cy="528.2" r="4.9"/><circle cx="163.2" cy="524.6" r="4.1"/><circle cx="163.5" cy="522.5" r="4.8"/></g>
<g fill="#dca070"><circle cx="166.2" cy="521.4" r="6.2"/><circle cx="163.3" cy="516.7" r="4.4"/><circle cx="165.0" cy="525.5" r="4.9"/><circle cx="164.4" cy="523.3" r="4.0"/><circle cx="163.3" cy="527.8" r="3.9"/><circle cx="166.8" cy="528.3" r="4.8"/><circle cx="167.7" cy="514.6" r="4.5"/><circle cx="161.9" cy="520.5" r="4.1"/><circle cx="166.4" cy="528.2" r="4.9"/><circle cx="163.2" cy="524.6" r="4.1"/><circle cx="163.5" cy="522.5" r="4.8"/></g>
<g fill="url(#tg8)"><circle cx="163.3" cy="516.7" r="3.9"/><circle cx="165.0" cy="525.5" r="4.4"/><circle cx="164.4" cy="523.3" r="3.5"/><circle cx="163.3" cy="527.8" r="3.4"/><circle cx="166.8" cy="528.3" r="4.3"/><circle cx="167.7" cy="514.6" r="4.0"/><circle cx="161.9" cy="520.5" r="3.6"/><circle cx="166.4" cy="528.2" r="4.4"/><circle cx="163.2" cy="524.6" r="3.6"/><circle cx="163.5" cy="522.5" r="4.3"/><circle cx="166.2" cy="521.4" r="5.7"/></g>
<g fill="#d06040" opacity=".4" filter="url(#bl07)"><circle cx="163.7" cy="526.5" r="1.6"/><circle cx="167.0" cy="526.6" r="2.1"/><circle cx="165.1" cy="519.5" r="1.5"/></g>
<g fill="#000" opacity="0.18" transform="translate(1.5,1.2)" filter="url(#bl1)"><circle cx="196.4" cy="525.5" r="6.2"/><circle cx="195.2" cy="533.3" r="5.2"/><circle cx="196.4" cy="517.3" r="3.8"/><circle cx="196.7" cy="531.6" r="4.0"/><circle cx="193.4" cy="532.7" r="4.2"/><circle cx="197.8" cy="529.5" r="5.1"/><circle cx="194.1" cy="533.4" r="4.5"/><circle cx="195.1" cy="529.0" r="4.4"/><circle cx="197.0" cy="535.7" r="4.7"/><circle cx="197.3" cy="533.5" r="4.0"/><circle cx="195.2" cy="533.0" r="5.1"/><circle cx="194.9" cy="529.9" r="4.3"/><circle cx="194.8" cy="515.8" r="4.6"/></g>
<g fill="#dca070"><circle cx="196.4" cy="525.5" r="6.2"/><circle cx="195.2" cy="533.3" r="5.2"/><circle cx="196.4" cy="517.3" r="3.8"/><circle cx="196.7" cy="531.6" r="4.0"/><circle cx="193.4" cy="532.7" r="4.2"/><circle cx="197.8" cy="529.5" r="5.1"/><circle cx="194.1" cy="533.4" r="4.5"/><circle cx="195.1" cy="529.0" r="4.4"/><circle cx="197.0" cy="535.7" r="4.7"/><circle cx="197.3" cy="533.5" r="4.0"/><circle cx="195.2" cy="533.0" r="5.1"/><circle cx="194.9" cy="529.9" r="4.3"/><circle cx="194.8" cy="515.8" r="4.6"/></g>
<g fill="url(#tg8)"><circle cx="195.2" cy="533.3" r="4.7"/><circle cx="196.4" cy="517.3" r="3.3"/><circle cx="196.7" cy="531.6" r="3.5"/><circle cx="193.4" cy="532.7" r="3.7"/><circle cx="197.8" cy="529.5" r="4.6"/><circle cx="194.1" cy="533.4" r="4.0"/><circle cx="195.1" cy="529.0" r="3.9"/><circle cx="197.0" cy="535.7" r="4.2"/><circle cx="197.3" cy="533.5" r="3.5"/><circle cx="195.2" cy="533.0" r="4.6"/><circle cx="194.9" cy="529.9" r="3.8"/><circle cx="194.8" cy="515.8" r="4.1"/><circle cx="196.4" cy="525.5" r="5.7"/></g>
<g fill="#d06040" opacity=".4" filter="url(#bl07)"><circle cx="198.4" cy="528.5" r="2.1"/><circle cx="196.8" cy="521.3" r="1.6"/><circle cx="193.7" cy="524.1" r="1.6"/><circle cx="199.1" cy="529.5" r="2.1"/></g>
<g fill="#000" opacity="0.18" transform="translate(1.5,1.2)" filter="url(#bl1)"><circle cx="228.9" cy="520.8" r="6.9"/><circle cx="231.3" cy="523.4" r="5.8"/><circle cx="227.5" cy="517.9" r="5.0"/><circle cx="231.1" cy="523.5" r="5.8"/><circle cx="227.3" cy="524.5" r="4.6"/><circle cx="226.5" cy="520.8" r="4.6"/><circle cx="226.5" cy="524.4" r="4.8"/><circle cx="225.0" cy="519.3" r="5.3"/><circle cx="231.9" cy="518.0" r="5.4"/><circle cx="229.4" cy="524.1" r="5.0"/></g>
<g fill="#dca070"><circle cx="228.9" cy="520.8" r="6.9"/><circle cx="231.3" cy="523.4" r="5.8"/><circle cx="227.5" cy="517.9" r="5.0"/><circle cx="231.1" cy="523.5" r="5.8"/><circle cx="227.3" cy="524.5" r="4.6"/><circle cx="226.5" cy="520.8" r="4.6"/><circle cx="226.5" cy="524.4" r="4.8"/><circle cx="225.0" cy="519.3" r="5.3"/><circle cx="231.9" cy="518.0" r="5.4"/><circle cx="229.4" cy="524.1" r="5.0"/></g>
<g fill="url(#tg8)"><circle cx="231.3" cy="523.4" r="5.3"/><circle cx="227.5" cy="517.9" r="4.5"/><circle cx="231.1" cy="523.5" r="5.3"/><circle cx="227.3" cy="524.5" r="4.1"/><circle cx="226.5" cy="520.8" r="4.1"/><circle cx="226.5" cy="524.4" r="4.3"/><circle cx="225.0" cy="519.3" r="4.8"/><circle cx="231.9" cy="518.0" r="4.9"/><circle cx="229.4" cy="524.1" r="4.5"/><circle cx="228.9" cy="520.8" r="6.4"/></g>
<g fill="#d06040" opacity=".4" filter="url(#bl07)"><circle cx="226.5" cy="519.1" r="2.3"/><circle cx="232.2" cy="519.2" r="2.4"/><circle cx="228.8" cy="519.5" r="1.9"/></g>
<rect x="67.60" y="542.10" width="172.10" height="12.50" fill="#5a604c"/>
<rect x="67.60" y="542.10" width="172.10" height="12.50" fill="url(#rp4)"/>
<rect x="68.90" y="570.80" width="171.00" height="84.00" fill="#f8f7f3"/>
<path d="M87.5,597 Q89.5,603 89.8,608.5 Q90.8,603 92,597 Z" fill="#c03444"/>
<g fill="#000" opacity="0.06" transform="translate(1.5,1.2)" filter="url(#bl1)"><circle cx="83.7" cy="587.4" r="9.8"/><circle cx="87.7" cy="589.9" r="7.8"/><circle cx="79.1" cy="587.0" r="6.7"/><circle cx="80.0" cy="583.9" r="7.1"/><circle cx="80.5" cy="582.3" r="7.5"/><circle cx="77.7" cy="591.4" r="6.0"/><circle cx="83.7" cy="584.7" r="7.6"/><circle cx="79.5" cy="588.0" r="7.4"/><circle cx="80.2" cy="590.2" r="6.9"/><circle cx="79.5" cy="591.7" r="7.1"/><circle cx="80.7" cy="581.5" r="6.5"/><circle cx="85.6" cy="588.6" r="7.9"/><circle cx="83.2" cy="590.4" r="7.2"/></g>
<g fill="#c03c4c"><circle cx="83.7" cy="587.4" r="9.8"/><circle cx="87.7" cy="589.9" r="7.8"/><circle cx="79.1" cy="587.0" r="6.7"/><circle cx="80.0" cy="583.9" r="7.1"/><circle cx="80.5" cy="582.3" r="7.5"/><circle cx="77.7" cy="591.4" r="6.0"/><circle cx="83.7" cy="584.7" r="7.6"/><circle cx="79.5" cy="588.0" r="7.4"/><circle cx="80.2" cy="590.2" r="6.9"/><circle cx="79.5" cy="591.7" r="7.1"/><circle cx="80.7" cy="581.5" r="6.5"/><circle cx="85.6" cy="588.6" r="7.9"/><circle cx="83.2" cy="590.4" r="7.2"/></g>
<g fill="url(#tg9)"><circle cx="87.7" cy="589.9" r="7.3"/><circle cx="79.1" cy="587.0" r="6.2"/><circle cx="80.0" cy="583.9" r="6.6"/><circle cx="80.5" cy="582.3" r="7.0"/><circle cx="77.7" cy="591.4" r="5.5"/><circle cx="83.7" cy="584.7" r="7.1"/><circle cx="79.5" cy="588.0" r="6.9"/><circle cx="80.2" cy="590.2" r="6.4"/><circle cx="79.5" cy="591.7" r="6.6"/><circle cx="80.7" cy="581.5" r="6.0"/><circle cx="85.6" cy="588.6" r="7.4"/><circle cx="83.2" cy="590.4" r="6.7"/><circle cx="83.7" cy="587.4" r="9.3"/></g>
<g fill="#902838" opacity=".4" filter="url(#bl07)"><circle cx="83.9" cy="582.4" r="3.2"/><circle cx="85.2" cy="592.3" r="3.1"/><circle cx="89.2" cy="590.2" r="2.4"/><circle cx="81.7" cy="590.5" r="2.8"/></g>
<g fill="#000" opacity="0.06" transform="translate(1.5,1.2)" filter="url(#bl1)"><circle cx="119.2" cy="589.0" r="9.7"/><circle cx="122.0" cy="593.9" r="6.8"/><circle cx="113.6" cy="592.3" r="7.2"/><circle cx="115.1" cy="588.6" r="7.1"/><circle cx="120.3" cy="598.2" r="6.6"/><circle cx="113.4" cy="585.1" r="6.6"/><circle cx="116.2" cy="582.7" r="7.6"/><circle cx="125.6" cy="589.2" r="6.2"/><circle cx="119.2" cy="598.3" r="7.9"/><circle cx="123.8" cy="583.2" r="6.0"/><circle cx="121.9" cy="594.4" r="7.1"/><circle cx="117.4" cy="596.5" r="7.4"/><circle cx="116.8" cy="583.3" r="6.8"/></g>
<g fill="#c03c4c"><circle cx="119.2" cy="589.0" r="9.7"/><circle cx="122.0" cy="593.9" r="6.8"/><circle cx="113.6" cy="592.3" r="7.2"/><circle cx="115.1" cy="588.6" r="7.1"/><circle cx="120.3" cy="598.2" r="6.6"/><circle cx="113.4" cy="585.1" r="6.6"/><circle cx="116.2" cy="582.7" r="7.6"/><circle cx="125.6" cy="589.2" r="6.2"/><circle cx="119.2" cy="598.3" r="7.9"/><circle cx="123.8" cy="583.2" r="6.0"/><circle cx="121.9" cy="594.4" r="7.1"/><circle cx="117.4" cy="596.5" r="7.4"/><circle cx="116.8" cy="583.3" r="6.8"/></g>
<g fill="url(#tg9)"><circle cx="122.0" cy="593.9" r="6.3"/><circle cx="113.6" cy="592.3" r="6.7"/><circle cx="115.1" cy="588.6" r="6.6"/><circle cx="120.3" cy="598.2" r="6.1"/><circle cx="113.4" cy="585.1" r="6.1"/><circle cx="116.2" cy="582.7" r="7.1"/><circle cx="125.6" cy="589.2" r="5.7"/><circle cx="119.2" cy="598.3" r="7.4"/><circle cx="123.8" cy="583.2" r="5.5"/><circle cx="121.9" cy="594.4" r="6.6"/><circle cx="117.4" cy="596.5" r="6.9"/><circle cx="116.8" cy="583.3" r="6.3"/><circle cx="119.2" cy="589.0" r="9.2"/></g>
<g fill="#902838" opacity=".4" filter="url(#bl07)"><circle cx="115.1" cy="593.4" r="2.8"/><circle cx="119.6" cy="593.5" r="2.1"/><circle cx="123.3" cy="585.1" r="2.8"/><circle cx="122.6" cy="583.3" r="2.9"/></g>
<g fill="#000" opacity="0.25" transform="translate(1.5,1.2)" filter="url(#bl1)"><circle cx="153.0" cy="591.0" r="7.9"/><circle cx="158.1" cy="591.5" r="5.0"/><circle cx="149.2" cy="586.6" r="5.3"/><circle cx="148.4" cy="593.6" r="6.0"/><circle cx="149.5" cy="593.7" r="6.0"/><circle cx="154.6" cy="594.3" r="6.2"/><circle cx="149.7" cy="587.1" r="5.6"/><circle cx="155.7" cy="593.9" r="5.4"/><circle cx="148.1" cy="589.1" r="6.3"/><circle cx="155.6" cy="587.3" r="6.3"/><circle cx="153.4" cy="588.9" r="5.5"/><circle cx="153.6" cy="593.0" r="6.4"/><circle cx="148.6" cy="587.5" r="5.0"/></g>
<g fill="#a83446"><circle cx="153.0" cy="591.0" r="7.9"/><circle cx="158.1" cy="591.5" r="5.0"/><circle cx="149.2" cy="586.6" r="5.3"/><circle cx="148.4" cy="593.6" r="6.0"/><circle cx="149.5" cy="593.7" r="6.0"/><circle cx="154.6" cy="594.3" r="6.2"/><circle cx="149.7" cy="587.1" r="5.6"/><circle cx="155.7" cy="593.9" r="5.4"/><circle cx="148.1" cy="589.1" r="6.3"/><circle cx="155.6" cy="587.3" r="6.3"/><circle cx="153.4" cy="588.9" r="5.5"/><circle cx="153.6" cy="593.0" r="6.4"/><circle cx="148.6" cy="587.5" r="5.0"/></g>
<g fill="url(#tg10)"><circle cx="158.1" cy="591.5" r="4.5"/><circle cx="149.2" cy="586.6" r="4.8"/><circle cx="148.4" cy="593.6" r="5.5"/><circle cx="149.5" cy="593.7" r="5.5"/><circle cx="154.6" cy="594.3" r="5.7"/><circle cx="149.7" cy="587.1" r="5.1"/><circle cx="155.7" cy="593.9" r="4.9"/><circle cx="148.1" cy="589.1" r="5.8"/><circle cx="155.6" cy="587.3" r="5.8"/><circle cx="153.4" cy="588.9" r="5.0"/><circle cx="153.6" cy="593.0" r="5.9"/><circle cx="148.6" cy="587.5" r="4.5"/><circle cx="153.0" cy="591.0" r="7.4"/></g>
<g fill="#000" opacity="0.25" transform="translate(1.5,1.2)" filter="url(#bl1)"><circle cx="182.6" cy="592.0" r="8.5"/><circle cx="180.1" cy="589.4" r="6.3"/><circle cx="186.5" cy="592.0" r="7.0"/><circle cx="181.2" cy="588.0" r="7.2"/><circle cx="181.3" cy="595.4" r="6.2"/><circle cx="179.3" cy="595.1" r="6.1"/><circle cx="185.4" cy="594.3" r="6.5"/><circle cx="184.8" cy="589.4" r="7.2"/><circle cx="182.2" cy="594.2" r="6.0"/><circle cx="181.3" cy="595.0" r="5.6"/><circle cx="186.4" cy="594.6" r="6.6"/><circle cx="179.9" cy="594.5" r="6.5"/><circle cx="184.3" cy="593.1" r="6.7"/></g>
<g fill="#dca070"><circle cx="182.6" cy="592.0" r="8.5"/><circle cx="180.1" cy="589.4" r="6.3"/><circle cx="186.5" cy="592.0" r="7.0"/><circle cx="181.2" cy="588.0" r="7.2"/><circle cx="181.3" cy="595.4" r="6.2"/><circle cx="179.3" cy="595.1" r="6.1"/><circle cx="185.4" cy="594.3" r="6.5"/><circle cx="184.8" cy="589.4" r="7.2"/><circle cx="182.2" cy="594.2" r="6.0"/><circle cx="181.3" cy="595.0" r="5.6"/><circle cx="186.4" cy="594.6" r="6.6"/><circle cx="179.9" cy="594.5" r="6.5"/><circle cx="184.3" cy="593.1" r="6.7"/></g>
<g fill="url(#tg11)"><circle cx="180.1" cy="589.4" r="5.8"/><circle cx="186.5" cy="592.0" r="6.5"/><circle cx="181.2" cy="588.0" r="6.7"/><circle cx="181.3" cy="595.4" r="5.7"/><circle cx="179.3" cy="595.1" r="5.6"/><circle cx="185.4" cy="594.3" r="6.0"/><circle cx="184.8" cy="589.4" r="6.7"/><circle cx="182.2" cy="594.2" r="5.5"/><circle cx="181.3" cy="595.0" r="5.1"/><circle cx="186.4" cy="594.6" r="6.1"/><circle cx="179.9" cy="594.5" r="6.0"/><circle cx="184.3" cy="593.1" r="6.2"/><circle cx="182.6" cy="592.0" r="8.0"/></g>
<g fill="#000" opacity="0.06" transform="translate(1.5,1.2)" filter="url(#bl1)"><circle cx="206.2" cy="592.0" r="8.5"/><circle cx="208.3" cy="591.7" r="7.1"/><circle cx="206.7" cy="588.1" r="5.3"/><circle cx="206.9" cy="595.0" r="5.9"/><circle cx="205.1" cy="588.9" r="5.3"/><circle cx="207.8" cy="595.4" r="6.8"/><circle cx="208.3" cy="598.0" r="5.7"/><circle cx="205.4" cy="588.5" r="5.6"/><circle cx="203.1" cy="596.1" r="6.5"/><circle cx="202.2" cy="590.4" r="7.1"/><circle cx="210.0" cy="589.8" r="6.8"/><circle cx="208.1" cy="596.2" r="6.8"/><circle cx="201.9" cy="593.0" r="5.3"/></g>
<g fill="#c03c4c"><circle cx="206.2" cy="592.0" r="8.5"/><circle cx="208.3" cy="591.7" r="7.1"/><circle cx="206.7" cy="588.1" r="5.3"/><circle cx="206.9" cy="595.0" r="5.9"/><circle cx="205.1" cy="588.9" r="5.3"/><circle cx="207.8" cy="595.4" r="6.8"/><circle cx="208.3" cy="598.0" r="5.7"/><circle cx="205.4" cy="588.5" r="5.6"/><circle cx="203.1" cy="596.1" r="6.5"/><circle cx="202.2" cy="590.4" r="7.1"/><circle cx="210.0" cy="589.8" r="6.8"/><circle cx="208.1" cy="596.2" r="6.8"/><circle cx="201.9" cy="593.0" r="5.3"/></g>
<g fill="url(#tg9)"><circle cx="208.3" cy="591.7" r="6.6"/><circle cx="206.7" cy="588.1" r="4.8"/><circle cx="206.9" cy="595.0" r="5.4"/><circle cx="205.1" cy="588.9" r="4.8"/><circle cx="207.8" cy="595.4" r="6.3"/><circle cx="208.3" cy="598.0" r="5.2"/><circle cx="205.4" cy="588.5" r="5.1"/><circle cx="203.1" cy="596.1" r="6.0"/><circle cx="202.2" cy="590.4" r="6.6"/><circle cx="210.0" cy="589.8" r="6.3"/><circle cx="208.1" cy="596.2" r="6.3"/><circle cx="201.9" cy="593.0" r="4.8"/><circle cx="206.2" cy="592.0" r="8.0"/></g>
<g fill="#902838" opacity=".4" filter="url(#bl07)"><circle cx="205.2" cy="588.4" r="1.9"/><circle cx="201.5" cy="595.4" r="2.7"/><circle cx="208.5" cy="589.6" r="2.3"/><circle cx="203.0" cy="593.1" r="2.8"/></g>
<g fill="#000" opacity="0.06" transform="translate(1.5,1.2)" filter="url(#bl1)"><circle cx="232.2" cy="589.7" r="7.3"/><circle cx="227.9" cy="589.7" r="5.1"/><circle cx="229.9" cy="587.1" r="4.8"/><circle cx="234.9" cy="590.8" r="6.0"/><circle cx="234.9" cy="587.4" r="4.7"/><circle cx="233.1" cy="585.9" r="5.5"/><circle cx="233.6" cy="587.9" r="5.3"/><circle cx="230.0" cy="588.3" r="5.9"/><circle cx="229.2" cy="589.9" r="4.7"/><circle cx="236.6" cy="591.9" r="4.9"/><circle cx="229.4" cy="588.2" r="5.4"/></g>
<g fill="#c03c4c"><circle cx="232.2" cy="589.7" r="7.3"/><circle cx="227.9" cy="589.7" r="5.1"/><circle cx="229.9" cy="587.1" r="4.8"/><circle cx="234.9" cy="590.8" r="6.0"/><circle cx="234.9" cy="587.4" r="4.7"/><circle cx="233.1" cy="585.9" r="5.5"/><circle cx="233.6" cy="587.9" r="5.3"/><circle cx="230.0" cy="588.3" r="5.9"/><circle cx="229.2" cy="589.9" r="4.7"/><circle cx="236.6" cy="591.9" r="4.9"/><circle cx="229.4" cy="588.2" r="5.4"/></g>
<g fill="url(#tg9)"><circle cx="227.9" cy="589.7" r="4.6"/><circle cx="229.9" cy="587.1" r="4.3"/><circle cx="234.9" cy="590.8" r="5.5"/><circle cx="234.9" cy="587.4" r="4.2"/><circle cx="233.1" cy="585.9" r="5.0"/><circle cx="233.6" cy="587.9" r="4.8"/><circle cx="230.0" cy="588.3" r="5.4"/><circle cx="229.2" cy="589.9" r="4.2"/><circle cx="236.6" cy="591.9" r="4.4"/><circle cx="229.4" cy="588.2" r="4.9"/><circle cx="232.2" cy="589.7" r="6.8"/></g>
<g fill="#902838" opacity=".4" filter="url(#bl07)"><circle cx="236.0" cy="588.0" r="1.8"/><circle cx="232.9" cy="586.9" r="1.7"/><circle cx="230.9" cy="593.1" r="2.0"/></g>
<g fill="#000" opacity="0.06" transform="translate(1.5,1.2)" filter="url(#bl1)"><circle cx="83.1" cy="627.8" r="6.0"/><circle cx="83.5" cy="624.2" r="4.0"/><circle cx="81.7" cy="630.1" r="4.5"/><circle cx="82.5" cy="625.7" r="4.1"/><circle cx="80.8" cy="627.6" r="4.1"/><circle cx="81.7" cy="626.3" r="4.9"/><circle cx="85.4" cy="625.6" r="4.3"/></g>
<g fill="#c8404a"><circle cx="83.1" cy="627.8" r="6.0"/><circle cx="83.5" cy="624.2" r="4.0"/><circle cx="81.7" cy="630.1" r="4.5"/><circle cx="82.5" cy="625.7" r="4.1"/><circle cx="80.8" cy="627.6" r="4.1"/><circle cx="81.7" cy="626.3" r="4.9"/><circle cx="85.4" cy="625.6" r="4.3"/></g>
<g fill="url(#tg12)"><circle cx="83.5" cy="624.2" r="3.5"/><circle cx="81.7" cy="630.1" r="4.0"/><circle cx="82.5" cy="625.7" r="3.6"/><circle cx="80.8" cy="627.6" r="3.6"/><circle cx="81.7" cy="626.3" r="4.4"/><circle cx="85.4" cy="625.6" r="3.8"/><circle cx="83.1" cy="627.8" r="5.5"/></g>
<g fill="#a03040" opacity=".4" filter="url(#bl07)"><circle cx="86.1" cy="628.1" r="1.4"/><circle cx="82.4" cy="630.6" r="1.7"/></g>
<g fill="#000" opacity="0.06" transform="translate(1.5,1.2)" filter="url(#bl1)"><circle cx="116.7" cy="632.3" r="4.6"/><circle cx="118.0" cy="634.0" r="3.1"/><circle cx="117.8" cy="634.0" r="3.8"/><circle cx="116.4" cy="630.0" r="3.7"/><circle cx="116.1" cy="630.5" r="3.3"/></g>
<g fill="#c8404a"><circle cx="116.7" cy="632.3" r="4.6"/><circle cx="118.0" cy="634.0" r="3.1"/><circle cx="117.8" cy="634.0" r="3.8"/><circle cx="116.4" cy="630.0" r="3.7"/><circle cx="116.1" cy="630.5" r="3.3"/></g>
<g fill="url(#tg12)"><circle cx="118.0" cy="634.0" r="2.6"/><circle cx="117.8" cy="634.0" r="3.3"/><circle cx="116.4" cy="630.0" r="3.2"/><circle cx="116.1" cy="630.5" r="2.8"/><circle cx="116.7" cy="632.3" r="4.1"/></g>
<g fill="#a03040" opacity=".4" filter="url(#bl07)"><circle cx="116.9" cy="632.3" r="1.3"/></g>
<g fill="#000" opacity="0.06" transform="translate(1.5,1.2)" filter="url(#bl1)"><circle cx="146.4" cy="629.6" r="5.0"/><circle cx="146.5" cy="626.4" r="3.4"/><circle cx="143.9" cy="628.2" r="3.7"/><circle cx="145.0" cy="630.9" r="3.4"/><circle cx="147.6" cy="631.7" r="4.0"/><circle cx="144.6" cy="631.2" r="3.2"/></g>
<g fill="#c8404a"><circle cx="146.4" cy="629.6" r="5.0"/><circle cx="146.5" cy="626.4" r="3.4"/><circle cx="143.9" cy="628.2" r="3.7"/><circle cx="145.0" cy="630.9" r="3.4"/><circle cx="147.6" cy="631.7" r="4.0"/><circle cx="144.6" cy="631.2" r="3.2"/></g>
<g fill="url(#tg12)"><circle cx="146.5" cy="626.4" r="2.9"/><circle cx="143.9" cy="628.2" r="3.2"/><circle cx="145.0" cy="630.9" r="2.9"/><circle cx="147.6" cy="631.7" r="3.5"/><circle cx="144.6" cy="631.2" r="2.7"/><circle cx="146.4" cy="629.6" r="4.5"/></g>
<g fill="#a03040" opacity=".4" filter="url(#bl07)"><circle cx="144.0" cy="628.5" r="1.7"/></g>
<g fill="#000" opacity="0.06" transform="translate(1.5,1.2)" filter="url(#bl1)"><circle cx="182.9" cy="632.0" r="3.7"/><circle cx="185.3" cy="631.9" r="3.1"/><circle cx="183.4" cy="630.6" r="2.4"/><circle cx="183.7" cy="633.1" r="2.7"/><circle cx="181.8" cy="630.8" r="2.4"/></g>
<g fill="#c8404a"><circle cx="182.9" cy="632.0" r="3.7"/><circle cx="185.3" cy="631.9" r="3.1"/><circle cx="183.4" cy="630.6" r="2.4"/><circle cx="183.7" cy="633.1" r="2.7"/><circle cx="181.8" cy="630.8" r="2.4"/></g>
<g fill="url(#tg12)"><circle cx="185.3" cy="631.9" r="2.6"/><circle cx="183.4" cy="630.6" r="1.9"/><circle cx="183.7" cy="633.1" r="2.2"/><circle cx="181.8" cy="630.8" r="1.9"/><circle cx="182.9" cy="632.0" r="3.2"/></g>
<g fill="#a03040" opacity=".4" filter="url(#bl07)"><circle cx="180.6" cy="631.4" r="1.3"/></g>
<g fill="#000" opacity="0.25" transform="translate(1.5,1.2)" filter="url(#bl1)"><circle cx="205.6" cy="632.0" r="4.3"/><circle cx="203.0" cy="632.1" r="3.2"/><circle cx="205.5" cy="634.3" r="3.2"/><circle cx="207.3" cy="633.3" r="3.1"/><circle cx="205.0" cy="634.0" r="3.4"/></g>
<g fill="#dc8a70"><circle cx="205.6" cy="632.0" r="4.3"/><circle cx="203.0" cy="632.1" r="3.2"/><circle cx="205.5" cy="634.3" r="3.2"/><circle cx="207.3" cy="633.3" r="3.1"/><circle cx="205.0" cy="634.0" r="3.4"/></g>
<g fill="url(#tg13)"><circle cx="203.0" cy="632.1" r="2.7"/><circle cx="205.5" cy="634.3" r="2.7"/><circle cx="207.3" cy="633.3" r="2.6"/><circle cx="205.0" cy="634.0" r="2.9"/><circle cx="205.6" cy="632.0" r="3.8"/></g>
<g fill="#000" opacity="0.06" transform="translate(1.5,1.2)" filter="url(#bl1)"><circle cx="230.9" cy="630.3" r="3.6"/><circle cx="233.0" cy="630.8" r="2.4"/><circle cx="230.0" cy="629.4" r="3.1"/><circle cx="233.1" cy="630.4" r="2.7"/><circle cx="228.0" cy="630.2" r="2.7"/></g>
<g fill="#c8404a"><circle cx="230.9" cy="630.3" r="3.6"/><circle cx="233.0" cy="630.8" r="2.4"/><circle cx="230.0" cy="629.4" r="3.1"/><circle cx="233.1" cy="630.4" r="2.7"/><circle cx="228.0" cy="630.2" r="2.7"/></g>
<g fill="url(#tg12)"><circle cx="233.0" cy="630.8" r="1.9"/><circle cx="230.0" cy="629.4" r="2.6"/><circle cx="233.1" cy="630.4" r="2.2"/><circle cx="228.0" cy="630.2" r="2.2"/><circle cx="230.9" cy="630.3" r="3.1"/></g>
<g fill="#a03040" opacity=".4" filter="url(#bl07)"><circle cx="228.3" cy="628.5" r="0.9"/></g>
<rect x="68.90" y="639.10" width="168.20" height="15.20" fill="#c0c0b0"/>
<rect x="68.90" y="648.83" width="168.20" height="5.47" fill="#cdcdbd"/>
<rect x="68.90" y="639.10" width="168.20" height="15.20" fill="url(#rp5)"/>
<rect x="67.60" y="677.80" width="175.50" height="69.00" fill="#e2e2e2"/>
<g fill="#000" opacity="0.16" transform="translate(1.5,1.2)" filter="url(#bl1)"><circle cx="76.8" cy="692.7" r="5.5"/><circle cx="77.9" cy="690.8" r="4.7"/><circle cx="75.9" cy="695.2" r="3.5"/><circle cx="73.1" cy="693.4" r="3.6"/><circle cx="78.6" cy="692.7" r="4.1"/><circle cx="75.5" cy="693.7" r="3.5"/></g>
<g fill="#d8803e"><circle cx="76.8" cy="692.7" r="5.5"/><circle cx="77.9" cy="690.8" r="4.7"/><circle cx="75.9" cy="695.2" r="3.5"/><circle cx="73.1" cy="693.4" r="3.6"/><circle cx="78.6" cy="692.7" r="4.1"/><circle cx="75.5" cy="693.7" r="3.5"/></g>
<g fill="url(#tg14)"><circle cx="77.9" cy="690.8" r="4.2"/><circle cx="75.9" cy="695.2" r="3.0"/><circle cx="73.1" cy="693.4" r="3.1"/><circle cx="78.6" cy="692.7" r="3.6"/><circle cx="75.5" cy="693.7" r="3.0"/><circle cx="76.8" cy="692.7" r="5.0"/></g>
<g fill="#c86028" opacity=".4" filter="url(#bl07)"><circle cx="78.9" cy="689.6" r="1.6"/></g>
<g fill="#000" opacity="0.16" transform="translate(1.5,1.2)" filter="url(#bl1)"><circle cx="106.1" cy="695.7" r="5.2"/><circle cx="104.5" cy="697.3" r="3.9"/><circle cx="107.5" cy="696.9" r="4.3"/><circle cx="104.9" cy="694.0" r="4.4"/><circle cx="104.8" cy="698.0" r="3.7"/><circle cx="101.9" cy="696.3" r="3.5"/></g>
<g fill="#d8803e"><circle cx="106.1" cy="695.7" r="5.2"/><circle cx="104.5" cy="697.3" r="3.9"/><circle cx="107.5" cy="696.9" r="4.3"/><circle cx="104.9" cy="694.0" r="4.4"/><circle cx="104.8" cy="698.0" r="3.7"/><circle cx="101.9" cy="696.3" r="3.5"/></g>
<g fill="url(#tg14)"><circle cx="104.5" cy="697.3" r="3.4"/><circle cx="107.5" cy="696.9" r="3.8"/><circle cx="104.9" cy="694.0" r="3.9"/><circle cx="104.8" cy="698.0" r="3.2"/><circle cx="101.9" cy="696.3" r="3.0"/><circle cx="106.1" cy="695.7" r="4.7"/></g>
<g fill="#c86028" opacity=".4" filter="url(#bl07)"><circle cx="108.8" cy="697.6" r="1.6"/></g>
<g fill="#000" opacity="0.16" transform="translate(1.5,1.2)" filter="url(#bl1)"><circle cx="137.9" cy="694.3" r="5.2"/><circle cx="136.0" cy="693.6" r="3.7"/><circle cx="140.5" cy="694.2" r="4.1"/><circle cx="137.9" cy="692.6" r="4.1"/><circle cx="140.4" cy="692.3" r="3.7"/><circle cx="141.0" cy="693.8" r="3.3"/></g>
<g fill="#d8803e"><circle cx="137.9" cy="694.3" r="5.2"/><circle cx="136.0" cy="693.6" r="3.7"/><circle cx="140.5" cy="694.2" r="4.1"/><circle cx="137.9" cy="692.6" r="4.1"/><circle cx="140.4" cy="692.3" r="3.7"/><circle cx="141.0" cy="693.8" r="3.3"/></g>
<g fill="url(#tg14)"><circle cx="136.0" cy="693.6" r="3.2"/><circle cx="140.5" cy="694.2" r="3.6"/><circle cx="137.9" cy="692.6" r="3.6"/><circle cx="140.4" cy="692.3" r="3.2"/><circle cx="141.0" cy="693.8" r="2.8"/><circle cx="137.9" cy="694.3" r="4.7"/></g>
<g fill="#c86028" opacity=".4" filter="url(#bl07)"><circle cx="137.5" cy="691.9" r="1.4"/></g>
<g fill="#000" opacity="0.16" transform="translate(1.5,1.2)" filter="url(#bl1)"><circle cx="170.3" cy="695.6" r="6.4"/><circle cx="173.4" cy="699.0" r="4.4"/><circle cx="168.8" cy="696.7" r="5.1"/><circle cx="171.4" cy="692.0" r="4.1"/><circle cx="167.9" cy="699.9" r="4.0"/><circle cx="169.8" cy="691.3" r="4.7"/><circle cx="168.5" cy="692.3" r="4.1"/><circle cx="173.2" cy="697.2" r="4.5"/><circle cx="171.3" cy="698.6" r="4.4"/></g>
<g fill="#d8803e"><circle cx="170.3" cy="695.6" r="6.4"/><circle cx="173.4" cy="699.0" r="4.4"/><circle cx="168.8" cy="696.7" r="5.1"/><circle cx="171.4" cy="692.0" r="4.1"/><circle cx="167.9" cy="699.9" r="4.0"/><circle cx="169.8" cy="691.3" r="4.7"/><circle cx="168.5" cy="692.3" r="4.1"/><circle cx="173.2" cy="697.2" r="4.5"/><circle cx="171.3" cy="698.6" r="4.4"/></g>
<g fill="url(#tg14)"><circle cx="173.4" cy="699.0" r="3.9"/><circle cx="168.8" cy="696.7" r="4.6"/><circle cx="171.4" cy="692.0" r="3.6"/><circle cx="167.9" cy="699.9" r="3.5"/><circle cx="169.8" cy="691.3" r="4.2"/><circle cx="168.5" cy="692.3" r="3.6"/><circle cx="173.2" cy="697.2" r="4.0"/><circle cx="171.3" cy="698.6" r="3.9"/><circle cx="170.3" cy="695.6" r="5.9"/></g>
<g fill="#c86028" opacity=".4" filter="url(#bl07)"><circle cx="170.8" cy="692.2" r="2.1"/><circle cx="167.8" cy="699.4" r="1.7"/></g>
<g fill="#000" opacity="0.16" transform="translate(1.5,1.2)" filter="url(#bl1)"><circle cx="201.2" cy="693.4" r="5.5"/><circle cx="202.9" cy="694.4" r="3.8"/><circle cx="199.8" cy="697.3" r="3.5"/><circle cx="203.7" cy="690.9" r="3.6"/><circle cx="200.6" cy="687.5" r="3.9"/><circle cx="202.5" cy="695.9" r="4.1"/><circle cx="202.2" cy="695.7" r="4.6"/><circle cx="197.7" cy="694.3" r="3.9"/></g>
<g fill="#d8803e"><circle cx="201.2" cy="693.4" r="5.5"/><circle cx="202.9" cy="694.4" r="3.8"/><circle cx="199.8" cy="697.3" r="3.5"/><circle cx="203.7" cy="690.9" r="3.6"/><circle cx="200.6" cy="687.5" r="3.9"/><circle cx="202.5" cy="695.9" r="4.1"/><circle cx="202.2" cy="695.7" r="4.6"/><circle cx="197.7" cy="694.3" r="3.9"/></g>
<g fill="url(#tg14)"><circle cx="202.9" cy="694.4" r="3.3"/><circle cx="199.8" cy="697.3" r="3.0"/><circle cx="203.7" cy="690.9" r="3.1"/><circle cx="200.6" cy="687.5" r="3.4"/><circle cx="202.5" cy="695.9" r="3.6"/><circle cx="202.2" cy="695.7" r="4.1"/><circle cx="197.7" cy="694.3" r="3.4"/><circle cx="201.2" cy="693.4" r="5.0"/></g>
<g fill="#c86028" opacity=".4" filter="url(#bl07)"><circle cx="204.4" cy="695.8" r="1.7"/><circle cx="201.7" cy="695.5" r="1.3"/></g>
<g fill="#000" opacity="0.16" transform="translate(1.5,1.2)" filter="url(#bl1)"><circle cx="232.8" cy="691.0" r="7.4"/><circle cx="228.6" cy="690.8" r="5.2"/><circle cx="234.6" cy="695.5" r="5.2"/><circle cx="230.9" cy="688.4" r="5.2"/><circle cx="230.7" cy="694.9" r="5.4"/><circle cx="229.8" cy="687.1" r="5.1"/><circle cx="229.5" cy="690.2" r="5.7"/><circle cx="229.0" cy="690.8" r="4.6"/><circle cx="229.2" cy="690.5" r="5.1"/><circle cx="232.5" cy="689.0" r="5.7"/><circle cx="229.4" cy="690.0" r="5.1"/></g>
<g fill="#d8803e"><circle cx="232.8" cy="691.0" r="7.4"/><circle cx="228.6" cy="690.8" r="5.2"/><circle cx="234.6" cy="695.5" r="5.2"/><circle cx="230.9" cy="688.4" r="5.2"/><circle cx="230.7" cy="694.9" r="5.4"/><circle cx="229.8" cy="687.1" r="5.1"/><circle cx="229.5" cy="690.2" r="5.7"/><circle cx="229.0" cy="690.8" r="4.6"/><circle cx="229.2" cy="690.5" r="5.1"/><circle cx="232.5" cy="689.0" r="5.7"/><circle cx="229.4" cy="690.0" r="5.1"/></g>
<g fill="url(#tg14)"><circle cx="228.6" cy="690.8" r="4.7"/><circle cx="234.6" cy="695.5" r="4.7"/><circle cx="230.9" cy="688.4" r="4.7"/><circle cx="230.7" cy="694.9" r="4.9"/><circle cx="229.8" cy="687.1" r="4.6"/><circle cx="229.5" cy="690.2" r="5.2"/><circle cx="229.0" cy="690.8" r="4.1"/><circle cx="229.2" cy="690.5" r="4.6"/><circle cx="232.5" cy="689.0" r="5.2"/><circle cx="229.4" cy="690.0" r="4.6"/><circle cx="232.8" cy="691.0" r="6.9"/></g>
<g fill="#c86028" opacity=".4" filter="url(#bl07)"><circle cx="232.2" cy="688.6" r="1.9"/><circle cx="236.3" cy="689.1" r="2.1"/><circle cx="231.7" cy="693.2" r="2.0"/></g>
<g fill="#000" opacity="0.16" transform="translate(1.5,1.2)" filter="url(#bl1)"><circle cx="76.4" cy="724.3" r="4.0"/><circle cx="75.5" cy="724.3" r="3.4"/><circle cx="76.5" cy="725.8" r="3.1"/><circle cx="75.2" cy="726.5" r="2.8"/><circle cx="76.1" cy="723.0" r="2.7"/></g>
<g fill="#d8803e"><circle cx="76.4" cy="724.3" r="4.0"/><circle cx="75.5" cy="724.3" r="3.4"/><circle cx="76.5" cy="725.8" r="3.1"/><circle cx="75.2" cy="726.5" r="2.8"/><circle cx="76.1" cy="723.0" r="2.7"/></g>
<g fill="url(#tg14)"><circle cx="75.5" cy="724.3" r="2.9"/><circle cx="76.5" cy="725.8" r="2.6"/><circle cx="75.2" cy="726.5" r="2.3"/><circle cx="76.1" cy="723.0" r="2.2"/><circle cx="76.4" cy="724.3" r="3.5"/></g>
<g fill="#c86028" opacity=".4" filter="url(#bl07)"><circle cx="76.9" cy="722.1" r="1.3"/></g>
<g fill="#000" opacity="0.16" transform="translate(1.5,1.2)" filter="url(#bl1)"><circle cx="107.0" cy="723.6" r="5.2"/><circle cx="105.9" cy="724.3" r="4.2"/><circle cx="105.0" cy="724.7" r="3.3"/><circle cx="109.0" cy="726.9" r="4.0"/><circle cx="105.6" cy="721.9" r="3.3"/><circle cx="109.0" cy="720.8" r="3.8"/><circle cx="105.8" cy="721.7" r="4.1"/></g>
<g fill="#d8803e"><circle cx="107.0" cy="723.6" r="5.2"/><circle cx="105.9" cy="724.3" r="4.2"/><circle cx="105.0" cy="724.7" r="3.3"/><circle cx="109.0" cy="726.9" r="4.0"/><circle cx="105.6" cy="721.9" r="3.3"/><circle cx="109.0" cy="720.8" r="3.8"/><circle cx="105.8" cy="721.7" r="4.1"/></g>
<g fill="url(#tg14)"><circle cx="105.9" cy="724.3" r="3.7"/><circle cx="105.0" cy="724.7" r="2.8"/><circle cx="109.0" cy="726.9" r="3.5"/><circle cx="105.6" cy="721.9" r="2.8"/><circle cx="109.0" cy="720.8" r="3.3"/><circle cx="105.8" cy="721.7" r="3.6"/><circle cx="107.0" cy="723.6" r="4.7"/></g>
<g fill="#c86028" opacity=".4" filter="url(#bl07)"><circle cx="108.1" cy="720.3" r="1.4"/><circle cx="108.1" cy="725.5" r="1.5"/></g>
<g fill="#000" opacity="0.16" transform="translate(1.5,1.2)" filter="url(#bl1)"><circle cx="137.6" cy="725.8" r="5.2"/><circle cx="139.0" cy="728.2" r="3.3"/><circle cx="140.0" cy="724.3" r="4.4"/><circle cx="135.9" cy="727.0" r="4.0"/><circle cx="135.8" cy="726.7" r="4.2"/><circle cx="135.9" cy="725.4" r="3.4"/></g>
<g fill="#d8803e"><circle cx="137.6" cy="725.8" r="5.2"/><circle cx="139.0" cy="728.2" r="3.3"/><circle cx="140.0" cy="724.3" r="4.4"/><circle cx="135.9" cy="727.0" r="4.0"/><circle cx="135.8" cy="726.7" r="4.2"/><circle cx="135.9" cy="725.4" r="3.4"/></g>
<g fill="url(#tg14)"><circle cx="139.0" cy="728.2" r="2.8"/><circle cx="140.0" cy="724.3" r="3.9"/><circle cx="135.9" cy="727.0" r="3.5"/><circle cx="135.8" cy="726.7" r="3.7"/><circle cx="135.9" cy="725.4" r="2.9"/><circle cx="137.6" cy="725.8" r="4.7"/></g>
<g fill="#c86028" opacity=".4" filter="url(#bl07)"><circle cx="134.8" cy="723.2" r="1.3"/></g>
<g fill="#000" opacity="0.16" transform="translate(1.5,1.2)" filter="url(#bl1)"><circle cx="171.0" cy="724.2" r="6.8"/><circle cx="168.4" cy="725.8" r="5.3"/><circle cx="164.4" cy="723.8" r="4.4"/><circle cx="176.5" cy="723.2" r="5.1"/><circle cx="175.0" cy="723.5" r="5.6"/><circle cx="170.9" cy="727.9" r="5.5"/><circle cx="172.0" cy="720.4" r="5.3"/><circle cx="167.7" cy="727.1" r="4.4"/><circle cx="168.0" cy="722.8" r="5.3"/><circle cx="169.8" cy="726.2" r="5.7"/><circle cx="169.6" cy="727.1" r="5.5"/></g>
<g fill="#d8803e"><circle cx="171.0" cy="724.2" r="6.8"/><circle cx="168.4" cy="725.8" r="5.3"/><circle cx="164.4" cy="723.8" r="4.4"/><circle cx="176.5" cy="723.2" r="5.1"/><circle cx="175.0" cy="723.5" r="5.6"/><circle cx="170.9" cy="727.9" r="5.5"/><circle cx="172.0" cy="720.4" r="5.3"/><circle cx="167.7" cy="727.1" r="4.4"/><circle cx="168.0" cy="722.8" r="5.3"/><circle cx="169.8" cy="726.2" r="5.7"/><circle cx="169.6" cy="727.1" r="5.5"/></g>
<g fill="url(#tg14)"><circle cx="168.4" cy="725.8" r="4.8"/><circle cx="164.4" cy="723.8" r="3.9"/><circle cx="176.5" cy="723.2" r="4.6"/><circle cx="175.0" cy="723.5" r="5.1"/><circle cx="170.9" cy="727.9" r="5.0"/><circle cx="172.0" cy="720.4" r="4.8"/><circle cx="167.7" cy="727.1" r="3.9"/><circle cx="168.0" cy="722.8" r="4.8"/><circle cx="169.8" cy="726.2" r="5.2"/><circle cx="169.6" cy="727.1" r="5.0"/><circle cx="171.0" cy="724.2" r="6.3"/></g>
<g fill="#c86028" opacity=".4" filter="url(#bl07)"><circle cx="175.0" cy="720.7" r="1.9"/><circle cx="172.0" cy="721.9" r="1.5"/><circle cx="173.5" cy="727.2" r="1.6"/></g>
<g fill="#000" opacity="0.16" transform="translate(1.5,1.2)" filter="url(#bl1)"><circle cx="203.6" cy="726.8" r="4.7"/><circle cx="202.9" cy="724.7" r="3.3"/><circle cx="204.3" cy="723.2" r="3.8"/><circle cx="202.5" cy="725.8" r="4.0"/><circle cx="204.8" cy="723.8" r="3.5"/><circle cx="201.6" cy="724.7" r="3.2"/></g>
<g fill="#d8803e"><circle cx="203.6" cy="726.8" r="4.7"/><circle cx="202.9" cy="724.7" r="3.3"/><circle cx="204.3" cy="723.2" r="3.8"/><circle cx="202.5" cy="725.8" r="4.0"/><circle cx="204.8" cy="723.8" r="3.5"/><circle cx="201.6" cy="724.7" r="3.2"/></g>
<g fill="url(#tg14)"><circle cx="202.9" cy="724.7" r="2.8"/><circle cx="204.3" cy="723.2" r="3.3"/><circle cx="202.5" cy="725.8" r="3.5"/><circle cx="204.8" cy="723.8" r="3.0"/><circle cx="201.6" cy="724.7" r="2.7"/><circle cx="203.6" cy="726.8" r="4.2"/></g>
<g fill="#c86028" opacity=".4" filter="url(#bl07)"><circle cx="204.3" cy="723.7" r="1.1"/></g>
<g fill="#000" opacity="0.16" transform="translate(1.5,1.2)" filter="url(#bl1)"><circle cx="233.4" cy="728.2" r="6.0"/><circle cx="232.7" cy="731.2" r="3.7"/><circle cx="236.8" cy="729.6" r="4.2"/><circle cx="235.8" cy="728.9" r="4.2"/><circle cx="233.7" cy="732.4" r="4.9"/><circle cx="229.9" cy="728.5" r="4.3"/><circle cx="235.6" cy="725.6" r="5.0"/><circle cx="232.3" cy="725.3" r="5.1"/></g>
<g fill="#d8803e"><circle cx="233.4" cy="728.2" r="6.0"/><circle cx="232.7" cy="731.2" r="3.7"/><circle cx="236.8" cy="729.6" r="4.2"/><circle cx="235.8" cy="728.9" r="4.2"/><circle cx="233.7" cy="732.4" r="4.9"/><circle cx="229.9" cy="728.5" r="4.3"/><circle cx="235.6" cy="725.6" r="5.0"/><circle cx="232.3" cy="725.3" r="5.1"/></g>
<g fill="url(#tg14)"><circle cx="232.7" cy="731.2" r="3.2"/><circle cx="236.8" cy="729.6" r="3.7"/><circle cx="235.8" cy="728.9" r="3.7"/><circle cx="233.7" cy="732.4" r="4.4"/><circle cx="229.9" cy="728.5" r="3.8"/><circle cx="235.6" cy="725.6" r="4.5"/><circle cx="232.3" cy="725.3" r="4.6"/><circle cx="233.4" cy="728.2" r="5.5"/></g>
<g fill="#c86028" opacity=".4" filter="url(#bl07)"><circle cx="230.6" cy="731.2" r="1.4"/><circle cx="231.4" cy="726.1" r="1.5"/></g>
<rect x="67.60" y="736.40" width="175.50" height="10.50" fill="#84846f"/>
<rect x="67.60" y="742.70" width="175.50" height="4.20" fill="#c2bea6"/>
<rect x="67.60" y="736.40" width="175.50" height="10.50" fill="url(#rp6)"/>
<line x1="19.70" y1="164.90" x2="19.70" y2="232.00" stroke="#231f20" stroke-width="1.3"/>
<text x="15.50" y="197.60" font-size="7.2" text-anchor="middle" fill="#231f20" font-weight="bold" stroke="#231f20" stroke-width="0.22" transform="rotate(-90 15.50 197.60)">MHCC97H</text>
<text x="49.30" y="177.10" font-size="7.2" text-anchor="end" fill="#231f20" font-weight="bold" stroke="#231f20" stroke-width="0.22">Vehicle</text>
<text x="49.30" y="216.10" font-size="7.2" text-anchor="end" fill="#231f20" font-weight="bold" stroke="#231f20" stroke-width="0.22">Apatinib</text>
<line x1="18.60" y1="265.00" x2="18.60" y2="332.80" stroke="#231f20" stroke-width="1.3"/>
<text x="7.30" y="294.00" font-size="7.2" text-anchor="middle" fill="#231f20" font-weight="bold" stroke="#231f20" stroke-width="0.22" transform="rotate(-90 7.30 294.00)">MHCC97H</text>
<text x="15.50" y="294.00" font-size="7.2" text-anchor="middle" fill="#231f20" font-weight="bold" stroke="#231f20" stroke-width="0.22" transform="rotate(-90 15.50 294.00)">OE-APOA2</text>
<text x="48.00" y="276.00" font-size="7.2" text-anchor="end" fill="#231f20" font-weight="bold" stroke="#231f20" stroke-width="0.22">Vehicle</text>
<text x="48.00" y="317.60" font-size="7.2" text-anchor="end" fill="#231f20" font-weight="bold" stroke="#231f20" stroke-width="0.22">Apatinib</text>
<line x1="29.00" y1="369.50" x2="29.00" y2="437.30" stroke="#231f20" stroke-width="1.3"/>
<text x="24.90" y="397.50" font-size="7.2" text-anchor="middle" fill="#231f20" font-weight="bold" stroke="#231f20" stroke-width="0.22" transform="rotate(-90 24.90 397.50)">7721</text>
<text x="34.20" y="380.10" font-size="7.2" text-anchor="start" fill="#231f20" font-weight="bold" stroke="#231f20" stroke-width="0.22">Vehicle</text>
<text x="31.40" y="424.30" font-size="7.2" text-anchor="start" fill="#231f20" font-weight="bold" stroke="#231f20" stroke-width="0.22">Lenvatinib</text>
<line x1="28.50" y1="470.20" x2="28.50" y2="537.60" stroke="#231f20" stroke-width="1.3"/>
<text x="17.70" y="503.80" font-size="7.2" text-anchor="middle" fill="#231f20" font-weight="bold" stroke="#231f20" stroke-width="0.22" transform="rotate(-90 17.70 503.80)">7721</text>
<text x="25.30" y="503.80" font-size="7.2" text-anchor="middle" fill="#231f20" font-weight="bold" stroke="#231f20" stroke-width="0.22" transform="rotate(-90 25.30 503.80)">OE-APOA2</text>
<text x="31.90" y="486.40" font-size="7.2" text-anchor="start" fill="#231f20" font-weight="bold" stroke="#231f20" stroke-width="0.22">Vehicle</text>
<text x="29.90" y="519.30" font-size="7.2" text-anchor="start" fill="#231f20" font-weight="bold" stroke="#231f20" stroke-width="0.22">Lenvatinib</text>
<line x1="23.30" y1="574.00" x2="23.30" y2="641.90" stroke="#231f20" stroke-width="1.3"/>
<text x="19.20" y="605.30" font-size="7.2" text-anchor="middle" fill="#231f20" font-weight="bold" stroke="#231f20" stroke-width="0.22" transform="rotate(-90 19.20 605.30)">HepG2</text>
<text x="33.20" y="588.90" font-size="7.2" text-anchor="start" fill="#231f20" font-weight="bold" stroke="#231f20" stroke-width="0.22">Vehicle</text>
<text x="25.50" y="631.00" font-size="7.2" text-anchor="start" fill="#231f20" font-weight="bold" stroke="#231f20" stroke-width="0.22">Regorafenib</text>
<line x1="21.30" y1="677.00" x2="21.30" y2="744.50" stroke="#231f20" stroke-width="1.3"/>
<text x="9.10" y="706.00" font-size="7.2" text-anchor="middle" fill="#231f20" font-weight="bold" stroke="#231f20" stroke-width="0.22" transform="rotate(-90 9.10 706.00)">HepG2</text>
<text x="17.30" y="706.00" font-size="7.2" text-anchor="middle" fill="#231f20" font-weight="bold" stroke="#231f20" stroke-width="0.22" transform="rotate(-90 17.30 706.00)">OE-APOA2</text>
<text x="31.00" y="694.30" font-size="7.2" text-anchor="start" fill="#231f20" font-weight="bold" stroke="#231f20" stroke-width="0.22">Vehicle</text>
<text x="22.80" y="728.10" font-size="7.2" text-anchor="start" fill="#231f20" font-weight="bold" stroke="#231f20" stroke-width="0.22">Regorafenib</text>
<line x1="310.20" y1="166.00" x2="310.20" y2="233.40" stroke="#231f20" stroke-width="1.4"/>
<line x1="310.20" y1="233.40" x2="410.80" y2="233.40" stroke="#231f20" stroke-width="1.4"/>
<line x1="307.70" y1="166.00" x2="310.20" y2="166.00" stroke="#231f20" stroke-width="1.2"/>
<text x="307.00" y="168.40" font-size="6.8" text-anchor="end" fill="#231f20" font-weight="bold" stroke="#231f20" stroke-width="0.22">0.6</text>
<line x1="307.70" y1="188.40" x2="310.20" y2="188.40" stroke="#231f20" stroke-width="1.2"/>
<text x="307.00" y="190.80" font-size="6.8" text-anchor="end" fill="#231f20" font-weight="bold" stroke="#231f20" stroke-width="0.22">0.4</text>
<line x1="307.70" y1="210.70" x2="310.20" y2="210.70" stroke="#231f20" stroke-width="1.2"/>
<text x="307.00" y="213.10" font-size="6.8" text-anchor="end" fill="#231f20" font-weight="bold" stroke="#231f20" stroke-width="0.22">0.2</text>
<line x1="307.70" y1="233.40" x2="310.20" y2="233.40" stroke="#231f20" stroke-width="1.2"/>
<text x="304.80" y="235.80" font-size="6.8" text-anchor="end" fill="#231f20" font-weight="bold" stroke="#231f20" stroke-width="0.22">0</text>
<line x1="339.30" y1="180.20" x2="339.30" y2="208.90" stroke="#231f20" stroke-width="1.2"/>
<line x1="332.30" y1="180.20" x2="346.30" y2="180.20" stroke="#231f20" stroke-width="1.3"/>
<line x1="332.30" y1="208.90" x2="346.30" y2="208.90" stroke="#231f20" stroke-width="1.3"/>
<line x1="325.20" y1="194.30" x2="353.40" y2="194.30" stroke="#231f20" stroke-width="1.3"/>
<line x1="339.30" y1="233.40" x2="339.30" y2="235.90" stroke="#231f20" stroke-width="1.2"/>
<circle cx="336.82" cy="177.18" r="2.00" fill="#231f20"/>
<circle cx="341.31" cy="175.75" r="2.00" fill="#231f20"/>
<circle cx="339.27" cy="186.38" r="2.00" fill="#231f20"/>
<circle cx="336.82" cy="196.60" r="2.00" fill="#231f20"/>
<circle cx="340.90" cy="196.60" r="2.00" fill="#231f20"/>
<circle cx="336.82" cy="201.71" r="2.00" fill="#231f20"/>
<circle cx="340.90" cy="205.18" r="2.00" fill="#231f20"/>
<circle cx="339.27" cy="217.44" r="2.00" fill="#231f20"/>
<line x1="381.90" y1="219.50" x2="381.90" y2="226.40" stroke="#e2262b" stroke-width="1.2"/>
<line x1="374.90" y1="219.50" x2="388.90" y2="219.50" stroke="#e2262b" stroke-width="1.3"/>
<line x1="374.90" y1="226.40" x2="388.90" y2="226.40" stroke="#e2262b" stroke-width="1.3"/>
<line x1="367.60" y1="222.80" x2="396.20" y2="222.80" stroke="#e2262b" stroke-width="1.3"/>
<line x1="381.90" y1="233.40" x2="381.90" y2="235.90" stroke="#231f20" stroke-width="1.2"/>
<circle cx="372.20" cy="219.20" r="2.00" fill="#e2262b"/>
<circle cx="390.00" cy="219.20" r="2.00" fill="#e2262b"/>
<circle cx="375.70" cy="221.80" r="2.00" fill="#e2262b"/>
<circle cx="382.40" cy="221.80" r="2.00" fill="#e2262b"/>
<circle cx="386.50" cy="221.80" r="2.00" fill="#e2262b"/>
<circle cx="377.80" cy="224.80" r="2.00" fill="#e2262b"/>
<circle cx="385.40" cy="224.80" r="2.00" fill="#e2262b"/>
<circle cx="381.90" cy="228.90" r="2.00" fill="#e2262b"/>
<line x1="339.70" y1="170.80" x2="381.20" y2="170.80" stroke="#747474" stroke-width="1.0"/>
<text x="360.70" y="171.50" font-size="10.3" text-anchor="middle" fill="#231f20" font-weight="bold" stroke="#231f20" stroke-width="0.22">*</text>
<text x="293.50" y="196.30" font-size="7.2" text-anchor="middle" fill="#231f20" font-weight="bold" stroke="#231f20" stroke-width="0.22" transform="rotate(-90 293.50 196.30)">Tumor Mass (g)</text>
<text x="343.00" y="239.50" font-size="7.2" text-anchor="end" fill="#231f20" font-weight="bold" stroke="#231f20" stroke-width="0.22" transform="rotate(-45 343.00 239.50)">Vehicle</text>
<text x="384.50" y="239.50" font-size="7.2" text-anchor="end" fill="#231f20" font-weight="bold" stroke="#231f20" stroke-width="0.22" transform="rotate(-45 384.50 239.50)">Apatinib</text>
<line x1="445.00" y1="170.80" x2="445.00" y2="233.80" stroke="#231f20" stroke-width="1.4"/>
<line x1="445.00" y1="233.80" x2="539.80" y2="233.80" stroke="#231f20" stroke-width="1.4"/>
<line x1="442.50" y1="170.80" x2="445.00" y2="170.80" stroke="#231f20" stroke-width="1.2"/>
<text x="441.80" y="173.20" font-size="6.8" text-anchor="end" fill="#231f20" font-weight="bold" stroke="#231f20" stroke-width="0.22">1500</text>
<line x1="442.50" y1="192.30" x2="445.00" y2="192.30" stroke="#231f20" stroke-width="1.2"/>
<text x="441.80" y="194.70" font-size="6.8" text-anchor="end" fill="#231f20" font-weight="bold" stroke="#231f20" stroke-width="0.22">1000</text>
<line x1="442.50" y1="213.00" x2="445.00" y2="213.00" stroke="#231f20" stroke-width="1.2"/>
<text x="441.80" y="215.40" font-size="6.8" text-anchor="end" fill="#231f20" font-weight="bold" stroke="#231f20" stroke-width="0.22">500</text>
<line x1="442.50" y1="233.80" x2="445.00" y2="233.80" stroke="#231f20" stroke-width="1.2"/>
<text x="439.60" y="236.20" font-size="6.8" text-anchor="end" fill="#231f20" font-weight="bold" stroke="#231f20" stroke-width="0.22">0</text>
<line x1="472.00" y1="193.00" x2="472.00" y2="218.00" stroke="#231f20" stroke-width="1.2"/>
<line x1="465.00" y1="193.00" x2="479.00" y2="193.00" stroke="#231f20" stroke-width="1.3"/>
<line x1="465.00" y1="218.00" x2="479.00" y2="218.00" stroke="#231f20" stroke-width="1.3"/>
<line x1="458.40" y1="205.60" x2="485.60" y2="205.60" stroke="#231f20" stroke-width="1.3"/>
<line x1="472.00" y1="233.80" x2="472.00" y2="236.30" stroke="#231f20" stroke-width="1.2"/>
<circle cx="469.27" cy="189.44" r="2.00" fill="#231f20"/>
<circle cx="474.38" cy="189.44" r="2.00" fill="#231f20"/>
<circle cx="471.93" cy="196.39" r="2.00" fill="#231f20"/>
<circle cx="469.27" cy="208.25" r="2.00" fill="#231f20"/>
<circle cx="474.38" cy="208.25" r="2.00" fill="#231f20"/>
<circle cx="469.27" cy="214.38" r="2.00" fill="#231f20"/>
<circle cx="474.38" cy="214.99" r="2.00" fill="#231f20"/>
<circle cx="471.93" cy="225.01" r="2.00" fill="#231f20"/>
<line x1="512.40" y1="222.50" x2="512.40" y2="229.50" stroke="#e2262b" stroke-width="1.2"/>
<line x1="505.40" y1="222.50" x2="519.40" y2="222.50" stroke="#e2262b" stroke-width="1.3"/>
<line x1="505.40" y1="229.50" x2="519.40" y2="229.50" stroke="#e2262b" stroke-width="1.3"/>
<line x1="498.90" y1="227.00" x2="525.90" y2="227.00" stroke="#e2262b" stroke-width="1.3"/>
<line x1="512.40" y1="233.80" x2="512.40" y2="236.30" stroke="#231f20" stroke-width="1.2"/>
<circle cx="507.69" cy="221.94" r="2.00" fill="#e2262b"/>
<circle cx="512.19" cy="221.12" r="2.00" fill="#e2262b"/>
<circle cx="516.89" cy="222.96" r="2.00" fill="#e2262b"/>
<circle cx="506.06" cy="226.03" r="2.00" fill="#e2262b"/>
<circle cx="510.14" cy="227.66" r="2.00" fill="#e2262b"/>
<circle cx="514.23" cy="226.03" r="2.00" fill="#e2262b"/>
<circle cx="507.69" cy="231.34" r="2.00" fill="#e2262b"/>
<circle cx="512.19" cy="232.16" r="2.00" fill="#e2262b"/>
<circle cx="515.87" cy="230.73" r="2.00" fill="#e2262b"/>
<line x1="472.30" y1="185.20" x2="513.60" y2="185.20" stroke="#747474" stroke-width="1.0"/>
<text x="492.80" y="186.00" font-size="10.3" text-anchor="middle" fill="#231f20" font-weight="bold" stroke="#231f20" stroke-width="0.22">*</text>
<text x="424.50" y="203.00" font-size="7.2" text-anchor="middle" fill="#231f20" font-weight="bold" stroke="#231f20" stroke-width="0.22" transform="rotate(-90 424.50 203.00)">Tumor Volume (mm<tspan font-size="4.5" dy="-3">3</tspan><tspan dy="3">)</tspan></text>
<text x="475.00" y="239.50" font-size="7.2" text-anchor="end" fill="#231f20" font-weight="bold" stroke="#231f20" stroke-width="0.22" transform="rotate(-45 475.00 239.50)">Vehicle</text>
<text x="516.50" y="239.50" font-size="7.2" text-anchor="end" fill="#231f20" font-weight="bold" stroke="#231f20" stroke-width="0.22" transform="rotate(-45 516.50 239.50)">Apatinib</text>
<line x1="304.90" y1="256.20" x2="304.90" y2="325.30" stroke="#231f20" stroke-width="1.4"/>
<line x1="304.90" y1="325.30" x2="409.20" y2="325.30" stroke="#231f20" stroke-width="1.4"/>
<line x1="302.40" y1="256.20" x2="304.90" y2="256.20" stroke="#231f20" stroke-width="1.2"/>
<text x="301.70" y="258.60" font-size="6.8" text-anchor="end" fill="#231f20" font-weight="bold" stroke="#231f20" stroke-width="0.22">3</text>
<line x1="302.40" y1="279.30" x2="304.90" y2="279.30" stroke="#231f20" stroke-width="1.2"/>
<text x="301.70" y="281.70" font-size="6.8" text-anchor="end" fill="#231f20" font-weight="bold" stroke="#231f20" stroke-width="0.22">2</text>
<line x1="302.40" y1="302.20" x2="304.90" y2="302.20" stroke="#231f20" stroke-width="1.2"/>
<text x="301.70" y="304.60" font-size="6.8" text-anchor="end" fill="#231f20" font-weight="bold" stroke="#231f20" stroke-width="0.22">1</text>
<line x1="302.40" y1="325.30" x2="304.90" y2="325.30" stroke="#231f20" stroke-width="1.2"/>
<text x="299.50" y="327.70" font-size="6.8" text-anchor="end" fill="#231f20" font-weight="bold" stroke="#231f20" stroke-width="0.22">0</text>
<line x1="335.20" y1="281.80" x2="335.20" y2="298.10" stroke="#231f20" stroke-width="1.2"/>
<line x1="328.20" y1="281.80" x2="342.20" y2="281.80" stroke="#231f20" stroke-width="1.3"/>
<line x1="328.20" y1="298.10" x2="342.20" y2="298.10" stroke="#231f20" stroke-width="1.3"/>
<line x1="320.50" y1="290.00" x2="349.90" y2="290.00" stroke="#231f20" stroke-width="1.3"/>
<line x1="335.20" y1="325.30" x2="335.20" y2="327.80" stroke="#231f20" stroke-width="1.2"/>
<circle cx="331.09" cy="281.79" r="2.00" fill="#a6a6a6"/>
<circle cx="334.77" cy="281.79" r="2.00" fill="#a6a6a6"/>
<circle cx="331.09" cy="284.85" r="2.00" fill="#a6a6a6"/>
<circle cx="339.27" cy="286.90" r="2.00" fill="#a6a6a6"/>
<circle cx="335.18" cy="293.44" r="2.00" fill="#a6a6a6"/>
<circle cx="333.14" cy="302.22" r="2.00" fill="#a6a6a6"/>
<circle cx="337.22" cy="301.20" r="2.00" fill="#a6a6a6"/>
<line x1="379.50" y1="272.60" x2="379.50" y2="302.20" stroke="#7b2b9e" stroke-width="1.2"/>
<line x1="372.50" y1="272.60" x2="386.50" y2="272.60" stroke="#7b2b9e" stroke-width="1.3"/>
<line x1="372.50" y1="302.20" x2="386.50" y2="302.20" stroke="#7b2b9e" stroke-width="1.3"/>
<line x1="364.70" y1="287.50" x2="394.30" y2="287.50" stroke="#7b2b9e" stroke-width="1.3"/>
<line x1="379.50" y1="325.30" x2="379.50" y2="327.80" stroke="#231f20" stroke-width="1.2"/>
<circle cx="379.53" cy="264.82" r="2.00" fill="#7b2b9e"/>
<circle cx="377.69" cy="277.09" r="2.00" fill="#7b2b9e"/>
<circle cx="382.19" cy="280.77" r="2.00" fill="#7b2b9e"/>
<circle cx="384.23" cy="280.15" r="2.00" fill="#7b2b9e"/>
<circle cx="377.69" cy="285.87" r="2.00" fill="#7b2b9e"/>
<circle cx="379.53" cy="295.48" r="2.00" fill="#7b2b9e"/>
<circle cx="381.57" cy="305.29" r="2.00" fill="#7b2b9e"/>
<circle cx="377.69" cy="308.36" r="2.00" fill="#7b2b9e"/>
<line x1="335.20" y1="269.50" x2="376.70" y2="269.50" stroke="#747474" stroke-width="1.0"/>
<text x="357.10" y="267.00" font-size="9.7" text-anchor="middle" fill="#231f20" font-weight="bold" stroke="#231f20" stroke-width="0.22">ns</text>
<text x="293.70" y="288.50" font-size="7.2" text-anchor="middle" fill="#231f20" font-weight="bold" stroke="#231f20" stroke-width="0.22" transform="rotate(-90 293.70 288.50)">Tumor Mass (g)</text>
<text x="339.50" y="332.00" font-size="7.2" text-anchor="end" fill="#231f20" font-weight="bold" stroke="#231f20" stroke-width="0.22" transform="rotate(-45 339.50 332.00)">Vehicle</text>
<text x="383.50" y="332.00" font-size="7.2" text-anchor="end" fill="#231f20" font-weight="bold" stroke="#231f20" stroke-width="0.22" transform="rotate(-45 383.50 332.00)">Apatinib</text>
<line x1="446.90" y1="262.00" x2="446.90" y2="325.30" stroke="#231f20" stroke-width="1.4"/>
<line x1="446.90" y1="325.30" x2="541.50" y2="325.30" stroke="#231f20" stroke-width="1.4"/>
<line x1="444.40" y1="262.00" x2="446.90" y2="262.00" stroke="#231f20" stroke-width="1.2"/>
<text x="443.70" y="264.40" font-size="6.8" text-anchor="end" fill="#231f20" font-weight="bold" stroke="#231f20" stroke-width="0.22">8000</text>
<line x1="444.40" y1="277.70" x2="446.90" y2="277.70" stroke="#231f20" stroke-width="1.2"/>
<text x="443.70" y="280.10" font-size="6.8" text-anchor="end" fill="#231f20" font-weight="bold" stroke="#231f20" stroke-width="0.22">6000</text>
<line x1="444.40" y1="293.60" x2="446.90" y2="293.60" stroke="#231f20" stroke-width="1.2"/>
<text x="443.70" y="296.00" font-size="6.8" text-anchor="end" fill="#231f20" font-weight="bold" stroke="#231f20" stroke-width="0.22">4000</text>
<line x1="444.40" y1="309.40" x2="446.90" y2="309.40" stroke="#231f20" stroke-width="1.2"/>
<text x="443.70" y="311.80" font-size="6.8" text-anchor="end" fill="#231f20" font-weight="bold" stroke="#231f20" stroke-width="0.22">2000</text>
<line x1="444.40" y1="325.30" x2="446.90" y2="325.30" stroke="#231f20" stroke-width="1.2"/>
<text x="441.50" y="327.70" font-size="6.8" text-anchor="end" fill="#231f20" font-weight="bold" stroke="#231f20" stroke-width="0.22">0</text>
<line x1="474.50" y1="288.30" x2="474.50" y2="304.30" stroke="#231f20" stroke-width="1.2"/>
<line x1="467.50" y1="288.30" x2="481.50" y2="288.30" stroke="#231f20" stroke-width="1.3"/>
<line x1="467.50" y1="304.30" x2="481.50" y2="304.30" stroke="#231f20" stroke-width="1.3"/>
<line x1="460.90" y1="296.50" x2="488.10" y2="296.50" stroke="#231f20" stroke-width="1.3"/>
<line x1="474.50" y1="325.30" x2="474.50" y2="327.80" stroke="#231f20" stroke-width="1.2"/>
<circle cx="470.40" cy="288.94" r="2.00" fill="#a6a6a6"/>
<circle cx="475.51" cy="289.55" r="2.00" fill="#a6a6a6"/>
<circle cx="477.55" cy="292.41" r="2.00" fill="#a6a6a6"/>
<circle cx="473.47" cy="293.03" r="2.00" fill="#a6a6a6"/>
<circle cx="472.44" cy="301.20" r="2.00" fill="#a6a6a6"/>
<circle cx="475.51" cy="302.22" r="2.00" fill="#a6a6a6"/>
<circle cx="474.49" cy="310.81" r="2.00" fill="#a6a6a6"/>
<line x1="514.70" y1="283.20" x2="514.70" y2="307.30" stroke="#7b2b9e" stroke-width="1.2"/>
<line x1="507.70" y1="283.20" x2="521.70" y2="283.20" stroke="#7b2b9e" stroke-width="1.3"/>
<line x1="507.70" y1="307.30" x2="521.70" y2="307.30" stroke="#7b2b9e" stroke-width="1.3"/>
<line x1="501.10" y1="295.30" x2="528.30" y2="295.30" stroke="#7b2b9e" stroke-width="1.3"/>
<line x1="514.70" y1="325.30" x2="514.70" y2="327.80" stroke="#231f20" stroke-width="1.2"/>
<circle cx="514.75" cy="272.18" r="2.00" fill="#7b2b9e"/>
<circle cx="516.38" cy="289.55" r="2.00" fill="#7b2b9e"/>
<circle cx="512.70" cy="292.01" r="2.00" fill="#7b2b9e"/>
<circle cx="518.43" cy="295.07" r="2.00" fill="#7b2b9e"/>
<circle cx="510.66" cy="297.12" r="2.00" fill="#7b2b9e"/>
<circle cx="514.75" cy="297.73" r="2.00" fill="#7b2b9e"/>
<circle cx="516.38" cy="309.38" r="2.00" fill="#7b2b9e"/>
<circle cx="512.70" cy="312.03" r="2.00" fill="#7b2b9e"/>
<line x1="473.10" y1="278.10" x2="514.70" y2="278.10" stroke="#747474" stroke-width="1.0"/>
<text x="494.90" y="275.70" font-size="9.7" text-anchor="middle" fill="#231f20" font-weight="bold" stroke="#231f20" stroke-width="0.22">ns</text>
<text x="425.00" y="294.50" font-size="7.2" text-anchor="middle" fill="#231f20" font-weight="bold" stroke="#231f20" stroke-width="0.22" transform="rotate(-90 425.00 294.50)">Tumor Volume (mm<tspan font-size="4.5" dy="-3">3</tspan><tspan dy="3">)</tspan></text>
<text x="478.50" y="331.50" font-size="7.2" text-anchor="end" fill="#231f20" font-weight="bold" stroke="#231f20" stroke-width="0.22" transform="rotate(-45 478.50 331.50)">Vehicle</text>
<text x="519.50" y="331.50" font-size="7.2" text-anchor="end" fill="#231f20" font-weight="bold" stroke="#231f20" stroke-width="0.22" transform="rotate(-45 519.50 331.50)">Apatinib</text>
<line x1="300.00" y1="366.00" x2="300.00" y2="433.90" stroke="#231f20" stroke-width="1.4"/>
<line x1="300.00" y1="433.90" x2="402.60" y2="433.90" stroke="#231f20" stroke-width="1.4"/>
<line x1="297.50" y1="366.00" x2="300.00" y2="366.00" stroke="#231f20" stroke-width="1.2"/>
<text x="296.80" y="368.40" font-size="6.8" text-anchor="end" fill="#231f20" font-weight="bold" stroke="#231f20" stroke-width="0.22">0.6</text>
<line x1="297.50" y1="389.00" x2="300.00" y2="389.00" stroke="#231f20" stroke-width="1.2"/>
<text x="296.80" y="391.40" font-size="6.8" text-anchor="end" fill="#231f20" font-weight="bold" stroke="#231f20" stroke-width="0.22">0.4</text>
<line x1="297.50" y1="411.40" x2="300.00" y2="411.40" stroke="#231f20" stroke-width="1.2"/>
<text x="296.80" y="413.80" font-size="6.8" text-anchor="end" fill="#231f20" font-weight="bold" stroke="#231f20" stroke-width="0.22">0.2</text>
<line x1="297.50" y1="433.90" x2="300.00" y2="433.90" stroke="#231f20" stroke-width="1.2"/>
<text x="294.60" y="436.30" font-size="6.8" text-anchor="end" fill="#231f20" font-weight="bold" stroke="#231f20" stroke-width="0.22">0</text>
<line x1="330.00" y1="381.80" x2="330.00" y2="402.60" stroke="#231f20" stroke-width="1.2"/>
<line x1="323.00" y1="381.80" x2="337.00" y2="381.80" stroke="#231f20" stroke-width="1.3"/>
<line x1="323.00" y1="402.60" x2="337.00" y2="402.60" stroke="#231f20" stroke-width="1.3"/>
<line x1="315.40" y1="392.40" x2="344.60" y2="392.40" stroke="#231f20" stroke-width="1.3"/>
<line x1="330.00" y1="433.90" x2="330.00" y2="436.40" stroke="#231f20" stroke-width="1.2"/>
<circle cx="330.07" cy="371.98" r="2.00" fill="#231f20"/>
<circle cx="325.98" cy="389.96" r="2.00" fill="#231f20"/>
<circle cx="334.16" cy="387.92" r="2.00" fill="#231f20"/>
<circle cx="330.07" cy="390.37" r="2.00" fill="#231f20"/>
<circle cx="328.03" cy="400.59" r="2.00" fill="#231f20"/>
<circle cx="332.12" cy="399.16" r="2.00" fill="#231f20"/>
<line x1="373.40" y1="410.40" x2="373.40" y2="425.30" stroke="#e2262b" stroke-width="1.2"/>
<line x1="366.40" y1="410.40" x2="380.40" y2="410.40" stroke="#e2262b" stroke-width="1.3"/>
<line x1="366.40" y1="425.30" x2="380.40" y2="425.30" stroke="#e2262b" stroke-width="1.3"/>
<line x1="359.20" y1="417.60" x2="387.60" y2="417.60" stroke="#e2262b" stroke-width="1.3"/>
<line x1="373.40" y1="433.90" x2="373.40" y2="436.40" stroke="#231f20" stroke-width="1.2"/>
<circle cx="373.40" cy="406.72" r="2.00" fill="#e2262b"/>
<circle cx="369.31" cy="410.40" r="2.00" fill="#e2262b"/>
<circle cx="377.49" cy="413.47" r="2.00" fill="#e2262b"/>
<circle cx="373.40" cy="413.47" r="2.00" fill="#e2262b"/>
<circle cx="373.40" cy="423.28" r="2.00" fill="#e2262b"/>
<circle cx="373.40" cy="429.41" r="2.00" fill="#e2262b"/>
<line x1="330.70" y1="366.00" x2="372.00" y2="366.00" stroke="#747474" stroke-width="1.0"/>
<text x="351.50" y="367.00" font-size="10.3" text-anchor="middle" fill="#231f20" font-weight="bold" stroke="#231f20" stroke-width="0.22">*</text>
<text x="283.50" y="396.90" font-size="7.2" text-anchor="middle" fill="#231f20" font-weight="bold" stroke="#231f20" stroke-width="0.22" transform="rotate(-90 283.50 396.90)">Tumor Mass (g)</text>
<text x="333.00" y="440.00" font-size="7.2" text-anchor="end" fill="#231f20" font-weight="bold" stroke="#231f20" stroke-width="0.22" transform="rotate(-45 333.00 440.00)">Vehicle</text>
<text x="376.00" y="440.00" font-size="7.2" text-anchor="end" fill="#231f20" font-weight="bold" stroke="#231f20" stroke-width="0.22" transform="rotate(-45 376.00 440.00)">Lenvatinib</text>
<line x1="439.10" y1="365.40" x2="439.10" y2="433.30" stroke="#231f20" stroke-width="1.4"/>
<line x1="439.10" y1="433.30" x2="541.80" y2="433.30" stroke="#231f20" stroke-width="1.4"/>
<line x1="436.60" y1="365.40" x2="439.10" y2="365.40" stroke="#231f20" stroke-width="1.2"/>
<text x="435.90" y="368.40" font-size="6.8" text-anchor="end" fill="#231f20" font-weight="bold" stroke="#231f20" stroke-width="0.22">2500</text>
<line x1="436.60" y1="379.00" x2="439.10" y2="379.00" stroke="#231f20" stroke-width="1.2"/>
<text x="435.90" y="378.50" font-size="6.8" text-anchor="end" fill="#231f20" font-weight="bold" stroke="#231f20" stroke-width="0.22">2000</text>
<line x1="436.60" y1="392.60" x2="439.10" y2="392.60" stroke="#231f20" stroke-width="1.2"/>
<text x="435.90" y="392.40" font-size="6.8" text-anchor="end" fill="#231f20" font-weight="bold" stroke="#231f20" stroke-width="0.22">1500</text>
<line x1="436.60" y1="406.20" x2="439.10" y2="406.20" stroke="#231f20" stroke-width="1.2"/>
<text x="435.90" y="405.70" font-size="6.8" text-anchor="end" fill="#231f20" font-weight="bold" stroke="#231f20" stroke-width="0.22">1000</text>
<line x1="436.60" y1="419.80" x2="439.10" y2="419.80" stroke="#231f20" stroke-width="1.2"/>
<text x="435.90" y="421.70" font-size="6.8" text-anchor="end" fill="#231f20" font-weight="bold" stroke="#231f20" stroke-width="0.22">500</text>
<line x1="436.60" y1="433.30" x2="439.10" y2="433.30" stroke="#231f20" stroke-width="1.2"/>
<text x="433.70" y="435.20" font-size="6.8" text-anchor="end" fill="#231f20" font-weight="bold" stroke="#231f20" stroke-width="0.22">0</text>
<line x1="468.90" y1="379.30" x2="468.90" y2="406.30" stroke="#231f20" stroke-width="1.2"/>
<line x1="461.90" y1="379.30" x2="475.90" y2="379.30" stroke="#231f20" stroke-width="1.3"/>
<line x1="461.90" y1="406.30" x2="475.90" y2="406.30" stroke="#231f20" stroke-width="1.3"/>
<line x1="454.30" y1="393.40" x2="483.50" y2="393.40" stroke="#231f20" stroke-width="1.3"/>
<line x1="468.90" y1="433.30" x2="468.90" y2="435.80" stroke="#231f20" stroke-width="1.2"/>
<circle cx="464.16" cy="379.74" r="2.00" fill="#231f20"/>
<circle cx="468.86" cy="379.74" r="2.00" fill="#231f20"/>
<circle cx="473.36" cy="379.33" r="2.00" fill="#231f20"/>
<circle cx="468.86" cy="393.44" r="2.00" fill="#231f20"/>
<circle cx="468.86" cy="403.25" r="2.00" fill="#231f20"/>
<circle cx="468.86" cy="410.40" r="2.00" fill="#231f20"/>
<line x1="514.20" y1="412.00" x2="514.20" y2="427.40" stroke="#e2262b" stroke-width="1.2"/>
<line x1="507.20" y1="412.00" x2="521.20" y2="412.00" stroke="#e2262b" stroke-width="1.3"/>
<line x1="507.20" y1="427.40" x2="521.20" y2="427.40" stroke="#e2262b" stroke-width="1.3"/>
<line x1="499.90" y1="420.00" x2="528.50" y2="420.00" stroke="#e2262b" stroke-width="1.3"/>
<line x1="514.20" y1="433.30" x2="514.20" y2="435.80" stroke="#231f20" stroke-width="1.2"/>
<circle cx="509.12" cy="410.81" r="2.00" fill="#e2262b"/>
<circle cx="514.23" cy="409.38" r="2.00" fill="#e2262b"/>
<circle cx="511.16" cy="413.87" r="2.00" fill="#e2262b"/>
<circle cx="514.23" cy="419.60" r="2.00" fill="#e2262b"/>
<circle cx="511.16" cy="428.79" r="2.00" fill="#e2262b"/>
<circle cx="515.25" cy="428.38" r="2.00" fill="#e2262b"/>
<line x1="469.30" y1="372.00" x2="510.60" y2="372.00" stroke="#747474" stroke-width="1.0"/>
<text x="490.00" y="372.90" font-size="10.3" text-anchor="middle" fill="#231f20" font-weight="bold" stroke="#231f20" stroke-width="0.22">*</text>
<text x="418.00" y="397.10" font-size="7.2" text-anchor="middle" fill="#231f20" font-weight="bold" stroke="#231f20" stroke-width="0.22" transform="rotate(-90 418.00 397.10)">Tumor Volume (mm<tspan font-size="4.5" dy="-3">3</tspan><tspan dy="3">)</tspan></text>
<text x="472.00" y="440.00" font-size="7.2" text-anchor="end" fill="#231f20" font-weight="bold" stroke="#231f20" stroke-width="0.22" transform="rotate(-45 472.00 440.00)">Vehicle</text>
<text x="517.50" y="440.00" font-size="7.2" text-anchor="end" fill="#231f20" font-weight="bold" stroke="#231f20" stroke-width="0.22" transform="rotate(-45 517.50 440.00)">Lenvatinib</text>
<line x1="299.60" y1="464.40" x2="299.60" y2="533.30" stroke="#231f20" stroke-width="1.4"/>
<line x1="299.60" y1="533.30" x2="402.80" y2="533.30" stroke="#231f20" stroke-width="1.4"/>
<line x1="297.10" y1="464.40" x2="299.60" y2="464.40" stroke="#231f20" stroke-width="1.2"/>
<text x="296.40" y="466.80" font-size="6.8" text-anchor="end" fill="#231f20" font-weight="bold" stroke="#231f20" stroke-width="0.22">0.3</text>
<line x1="297.10" y1="487.50" x2="299.60" y2="487.50" stroke="#231f20" stroke-width="1.2"/>
<text x="296.40" y="489.90" font-size="6.8" text-anchor="end" fill="#231f20" font-weight="bold" stroke="#231f20" stroke-width="0.22">0.2</text>
<line x1="297.10" y1="510.40" x2="299.60" y2="510.40" stroke="#231f20" stroke-width="1.2"/>
<text x="296.40" y="512.80" font-size="6.8" text-anchor="end" fill="#231f20" font-weight="bold" stroke="#231f20" stroke-width="0.22">0.1</text>
<line x1="297.10" y1="533.30" x2="299.60" y2="533.30" stroke="#231f20" stroke-width="1.2"/>
<text x="296.40" y="535.70" font-size="6.8" text-anchor="end" fill="#231f20" font-weight="bold" stroke="#231f20" stroke-width="0.22">0.0</text>
<line x1="329.30" y1="478.70" x2="329.30" y2="497.70" stroke="#231f20" stroke-width="1.2"/>
<line x1="322.30" y1="478.70" x2="336.30" y2="478.70" stroke="#231f20" stroke-width="1.3"/>
<line x1="322.30" y1="497.70" x2="336.30" y2="497.70" stroke="#231f20" stroke-width="1.3"/>
<line x1="314.80" y1="488.30" x2="343.80" y2="488.30" stroke="#231f20" stroke-width="1.3"/>
<line x1="329.30" y1="533.30" x2="329.30" y2="535.80" stroke="#231f20" stroke-width="1.2"/>
<circle cx="329.27" cy="478.72" r="2.00" fill="#a6a6a6"/>
<circle cx="325.18" cy="484.85" r="2.00" fill="#a6a6a6"/>
<circle cx="331.31" cy="482.81" r="2.00" fill="#a6a6a6"/>
<circle cx="329.27" cy="488.94" r="2.00" fill="#a6a6a6"/>
<circle cx="329.27" cy="505.90" r="2.00" fill="#a6a6a6"/>
<line x1="373.20" y1="475.70" x2="373.20" y2="495.50" stroke="#7b2b9e" stroke-width="1.2"/>
<line x1="366.20" y1="475.70" x2="380.20" y2="475.70" stroke="#7b2b9e" stroke-width="1.3"/>
<line x1="366.20" y1="495.50" x2="380.20" y2="495.50" stroke="#7b2b9e" stroke-width="1.3"/>
<line x1="358.60" y1="485.50" x2="387.80" y2="485.50" stroke="#7b2b9e" stroke-width="1.3"/>
<line x1="373.20" y1="533.30" x2="373.20" y2="535.80" stroke="#231f20" stroke-width="1.2"/>
<circle cx="373.21" cy="469.12" r="2.00" fill="#7b2b9e"/>
<circle cx="371.16" cy="482.81" r="2.00" fill="#7b2b9e"/>
<circle cx="375.25" cy="483.42" r="2.00" fill="#7b2b9e"/>
<circle cx="373.21" cy="487.31" r="2.00" fill="#7b2b9e"/>
<circle cx="375.25" cy="494.05" r="2.00" fill="#7b2b9e"/>
<circle cx="371.16" cy="497.12" r="2.00" fill="#7b2b9e"/>
<line x1="328.20" y1="474.20" x2="368.10" y2="474.20" stroke="#747474" stroke-width="1.0"/>
<text x="349.70" y="471.20" font-size="9.7" text-anchor="middle" fill="#231f20" font-weight="bold" stroke="#231f20" stroke-width="0.22">ns</text>
<text x="282.60" y="495.50" font-size="7.2" text-anchor="middle" fill="#231f20" font-weight="bold" stroke="#231f20" stroke-width="0.22" transform="rotate(-90 282.60 495.50)">Tumor Mass (g)</text>
<text x="333.50" y="541.00" font-size="7.2" text-anchor="end" fill="#231f20" font-weight="bold" stroke="#231f20" stroke-width="0.22" transform="rotate(-45 333.50 541.00)">Vehicle</text>
<text x="378.50" y="541.00" font-size="7.2" text-anchor="end" fill="#231f20" font-weight="bold" stroke="#231f20" stroke-width="0.22" transform="rotate(-45 378.50 541.00)">Lenvatinib</text>
<line x1="439.00" y1="470.50" x2="439.00" y2="533.30" stroke="#231f20" stroke-width="1.4"/>
<line x1="439.00" y1="533.30" x2="533.80" y2="533.30" stroke="#231f20" stroke-width="1.4"/>
<line x1="436.50" y1="470.50" x2="439.00" y2="470.50" stroke="#231f20" stroke-width="1.2"/>
<text x="435.80" y="472.90" font-size="6.8" text-anchor="end" fill="#231f20" font-weight="bold" stroke="#231f20" stroke-width="0.22">1000</text>
<line x1="436.50" y1="483.10" x2="439.00" y2="483.10" stroke="#231f20" stroke-width="1.2"/>
<text x="435.80" y="485.50" font-size="6.8" text-anchor="end" fill="#231f20" font-weight="bold" stroke="#231f20" stroke-width="0.22">800</text>
<line x1="436.50" y1="495.60" x2="439.00" y2="495.60" stroke="#231f20" stroke-width="1.2"/>
<text x="435.80" y="498.00" font-size="6.8" text-anchor="end" fill="#231f20" font-weight="bold" stroke="#231f20" stroke-width="0.22">600</text>
<line x1="436.50" y1="508.20" x2="439.00" y2="508.20" stroke="#231f20" stroke-width="1.2"/>
<text x="435.80" y="510.60" font-size="6.8" text-anchor="end" fill="#231f20" font-weight="bold" stroke="#231f20" stroke-width="0.22">400</text>
<line x1="436.50" y1="520.70" x2="439.00" y2="520.70" stroke="#231f20" stroke-width="1.2"/>
<text x="435.80" y="523.10" font-size="6.8" text-anchor="end" fill="#231f20" font-weight="bold" stroke="#231f20" stroke-width="0.22">200</text>
<line x1="436.50" y1="533.30" x2="439.00" y2="533.30" stroke="#231f20" stroke-width="1.2"/>
<text x="433.60" y="535.70" font-size="6.8" text-anchor="end" fill="#231f20" font-weight="bold" stroke="#231f20" stroke-width="0.22">0</text>
<line x1="465.70" y1="485.50" x2="465.70" y2="508.80" stroke="#231f20" stroke-width="1.2"/>
<line x1="458.70" y1="485.50" x2="472.70" y2="485.50" stroke="#231f20" stroke-width="1.3"/>
<line x1="458.70" y1="508.80" x2="472.70" y2="508.80" stroke="#231f20" stroke-width="1.3"/>
<line x1="452.40" y1="497.10" x2="479.00" y2="497.10" stroke="#231f20" stroke-width="1.3"/>
<line x1="465.70" y1="533.30" x2="465.70" y2="535.80" stroke="#231f20" stroke-width="1.2"/>
<circle cx="465.70" cy="480.77" r="2.00" fill="#a6a6a6"/>
<circle cx="465.70" cy="488.53" r="2.00" fill="#a6a6a6"/>
<circle cx="465.70" cy="492.62" r="2.00" fill="#a6a6a6"/>
<circle cx="461.82" cy="505.29" r="2.00" fill="#a6a6a6"/>
<circle cx="465.70" cy="507.33" r="2.00" fill="#a6a6a6"/>
<circle cx="469.79" cy="507.33" r="2.00" fill="#a6a6a6"/>
<line x1="506.20" y1="487.90" x2="506.20" y2="510.40" stroke="#7b2b9e" stroke-width="1.2"/>
<line x1="499.20" y1="487.90" x2="513.20" y2="487.90" stroke="#7b2b9e" stroke-width="1.3"/>
<line x1="499.20" y1="510.40" x2="513.20" y2="510.40" stroke="#7b2b9e" stroke-width="1.3"/>
<line x1="492.70" y1="499.20" x2="519.70" y2="499.20" stroke="#7b2b9e" stroke-width="1.3"/>
<line x1="506.20" y1="533.30" x2="506.20" y2="535.80" stroke="#231f20" stroke-width="1.2"/>
<circle cx="504.12" cy="486.49" r="2.00" fill="#7b2b9e"/>
<circle cx="508.21" cy="487.92" r="2.00" fill="#7b2b9e"/>
<circle cx="506.16" cy="493.64" r="2.00" fill="#7b2b9e"/>
<circle cx="504.12" cy="505.90" r="2.00" fill="#7b2b9e"/>
<circle cx="508.21" cy="507.33" r="2.00" fill="#7b2b9e"/>
<circle cx="506.16" cy="512.03" r="2.00" fill="#7b2b9e"/>
<line x1="466.30" y1="476.30" x2="507.80" y2="476.30" stroke="#747474" stroke-width="1.0"/>
<text x="488.80" y="473.20" font-size="9.7" text-anchor="middle" fill="#231f20" font-weight="bold" stroke="#231f20" stroke-width="0.22">ns</text>
<text x="418.50" y="501.80" font-size="7.2" text-anchor="middle" fill="#231f20" font-weight="bold" stroke="#231f20" stroke-width="0.22" transform="rotate(-90 418.50 501.80)">Tumor Volume (mm<tspan font-size="4.5" dy="-3">3</tspan><tspan dy="3">)</tspan></text>
<text x="468.00" y="541.00" font-size="7.2" text-anchor="end" fill="#231f20" font-weight="bold" stroke="#231f20" stroke-width="0.22" transform="rotate(-45 468.00 541.00)">Vehicle</text>
<text x="509.00" y="541.00" font-size="7.2" text-anchor="end" fill="#231f20" font-weight="bold" stroke="#231f20" stroke-width="0.22" transform="rotate(-45 509.00 541.00)">Lenvatinib</text>
<line x1="299.20" y1="574.00" x2="299.20" y2="632.70" stroke="#231f20" stroke-width="1.4"/>
<line x1="299.20" y1="632.70" x2="405.90" y2="632.70" stroke="#231f20" stroke-width="1.4"/>
<line x1="296.70" y1="574.00" x2="299.20" y2="574.00" stroke="#231f20" stroke-width="1.2"/>
<text x="296.00" y="576.40" font-size="6.8" text-anchor="end" fill="#231f20" font-weight="bold" stroke="#231f20" stroke-width="0.22">0.6</text>
<line x1="296.70" y1="593.40" x2="299.20" y2="593.40" stroke="#231f20" stroke-width="1.2"/>
<text x="296.00" y="595.80" font-size="6.8" text-anchor="end" fill="#231f20" font-weight="bold" stroke="#231f20" stroke-width="0.22">0.4</text>
<line x1="296.70" y1="613.20" x2="299.20" y2="613.20" stroke="#231f20" stroke-width="1.2"/>
<text x="296.00" y="615.60" font-size="6.8" text-anchor="end" fill="#231f20" font-weight="bold" stroke="#231f20" stroke-width="0.22">0.2</text>
<line x1="296.70" y1="632.70" x2="299.20" y2="632.70" stroke="#231f20" stroke-width="1.2"/>
<text x="293.80" y="635.10" font-size="6.8" text-anchor="end" fill="#231f20" font-weight="bold" stroke="#231f20" stroke-width="0.22">0</text>
<line x1="329.70" y1="588.30" x2="329.70" y2="619.40" stroke="#231f20" stroke-width="1.2"/>
<line x1="322.70" y1="588.30" x2="336.70" y2="588.30" stroke="#231f20" stroke-width="1.3"/>
<line x1="322.70" y1="619.40" x2="336.70" y2="619.40" stroke="#231f20" stroke-width="1.3"/>
<line x1="314.40" y1="604.00" x2="345.00" y2="604.00" stroke="#231f20" stroke-width="1.3"/>
<line x1="329.70" y1="632.70" x2="329.70" y2="635.20" stroke="#231f20" stroke-width="1.2"/>
<circle cx="329.68" cy="579.93" r="2.00" fill="#231f20"/>
<circle cx="329.68" cy="590.36" r="2.00" fill="#231f20"/>
<circle cx="329.68" cy="607.32" r="2.00" fill="#231f20"/>
<circle cx="325.59" cy="614.88" r="2.00" fill="#231f20"/>
<circle cx="329.68" cy="615.90" r="2.00" fill="#231f20"/>
<circle cx="333.97" cy="615.90" r="2.00" fill="#231f20"/>
<line x1="375.30" y1="623.50" x2="375.30" y2="629.50" stroke="#e2262b" stroke-width="1.2"/>
<line x1="368.30" y1="623.50" x2="382.30" y2="623.50" stroke="#e2262b" stroke-width="1.3"/>
<line x1="368.30" y1="629.50" x2="382.30" y2="629.50" stroke="#e2262b" stroke-width="1.3"/>
<line x1="360.20" y1="626.10" x2="390.40" y2="626.10" stroke="#e2262b" stroke-width="1.3"/>
<line x1="375.30" y1="632.70" x2="375.30" y2="635.20" stroke="#231f20" stroke-width="1.2"/>
<circle cx="370.14" cy="625.10" r="2.00" fill="#e2262b"/>
<circle cx="373.21" cy="624.08" r="2.00" fill="#e2262b"/>
<circle cx="375.87" cy="623.06" r="2.00" fill="#e2262b"/>
<circle cx="379.95" cy="621.83" r="2.00" fill="#e2262b"/>
<circle cx="372.19" cy="627.55" r="2.00" fill="#e2262b"/>
<circle cx="375.87" cy="627.96" r="2.00" fill="#e2262b"/>
<circle cx="379.95" cy="627.96" r="2.00" fill="#e2262b"/>
<circle cx="374.23" cy="626.12" r="2.00" fill="#e2262b"/>
<line x1="329.70" y1="574.80" x2="370.80" y2="574.80" stroke="#747474" stroke-width="1.0"/>
<text x="350.70" y="575.30" font-size="10.3" text-anchor="middle" fill="#231f20" font-weight="bold" stroke="#231f20" stroke-width="0.22">*</text>
<text x="283.50" y="604.00" font-size="7.2" text-anchor="middle" fill="#231f20" font-weight="bold" stroke="#231f20" stroke-width="0.22" transform="rotate(-90 283.50 604.00)">Tumor Mass (g)</text>
<text x="333.00" y="641.00" font-size="7.2" text-anchor="end" fill="#231f20" font-weight="bold" stroke="#231f20" stroke-width="0.22" transform="rotate(-45 333.00 641.00)">Vehicle</text>
<text x="380.50" y="641.00" font-size="7.2" text-anchor="end" fill="#231f20" font-weight="bold" stroke="#231f20" stroke-width="0.22" transform="rotate(-45 380.50 641.00)">Regorafenib</text>
<line x1="441.80" y1="570.30" x2="441.80" y2="632.70" stroke="#231f20" stroke-width="1.4"/>
<line x1="441.80" y1="632.70" x2="536.40" y2="632.70" stroke="#231f20" stroke-width="1.4"/>
<line x1="439.30" y1="570.30" x2="441.80" y2="570.30" stroke="#231f20" stroke-width="1.2"/>
<text x="438.60" y="572.70" font-size="6.8" text-anchor="end" fill="#231f20" font-weight="bold" stroke="#231f20" stroke-width="0.22">1500</text>
<line x1="439.30" y1="591.40" x2="441.80" y2="591.40" stroke="#231f20" stroke-width="1.2"/>
<text x="438.60" y="593.80" font-size="6.8" text-anchor="end" fill="#231f20" font-weight="bold" stroke="#231f20" stroke-width="0.22">1000</text>
<line x1="439.30" y1="612.20" x2="441.80" y2="612.20" stroke="#231f20" stroke-width="1.2"/>
<text x="438.60" y="614.60" font-size="6.8" text-anchor="end" fill="#231f20" font-weight="bold" stroke="#231f20" stroke-width="0.22">500</text>
<line x1="439.30" y1="632.70" x2="441.80" y2="632.70" stroke="#231f20" stroke-width="1.2"/>
<text x="436.40" y="635.10" font-size="6.8" text-anchor="end" fill="#231f20" font-weight="bold" stroke="#231f20" stroke-width="0.22">0</text>
<line x1="469.40" y1="592.80" x2="469.40" y2="610.60" stroke="#231f20" stroke-width="1.2"/>
<line x1="462.40" y1="592.80" x2="476.40" y2="592.80" stroke="#231f20" stroke-width="1.3"/>
<line x1="462.40" y1="610.60" x2="476.40" y2="610.60" stroke="#231f20" stroke-width="1.3"/>
<line x1="456.10" y1="601.60" x2="482.70" y2="601.60" stroke="#231f20" stroke-width="1.3"/>
<line x1="469.40" y1="632.70" x2="469.40" y2="635.20" stroke="#231f20" stroke-width="1.2"/>
<circle cx="469.38" cy="587.29" r="2.00" fill="#231f20"/>
<circle cx="469.38" cy="595.26" r="2.00" fill="#231f20"/>
<circle cx="467.33" cy="603.03" r="2.00" fill="#231f20"/>
<circle cx="470.40" cy="604.05" r="2.00" fill="#231f20"/>
<circle cx="467.33" cy="611.82" r="2.00" fill="#231f20"/>
<circle cx="469.99" cy="611.20" r="2.00" fill="#231f20"/>
<line x1="508.20" y1="621.50" x2="508.20" y2="627.50" stroke="#e2262b" stroke-width="1.2"/>
<line x1="501.20" y1="621.50" x2="515.20" y2="621.50" stroke="#e2262b" stroke-width="1.3"/>
<line x1="501.20" y1="627.50" x2="515.20" y2="627.50" stroke="#e2262b" stroke-width="1.3"/>
<line x1="494.80" y1="624.50" x2="521.60" y2="624.50" stroke="#e2262b" stroke-width="1.3"/>
<line x1="508.20" y1="632.70" x2="508.20" y2="635.20" stroke="#231f20" stroke-width="1.2"/>
<circle cx="508.21" cy="618.36" r="2.00" fill="#e2262b"/>
<circle cx="505.14" cy="624.08" r="2.00" fill="#e2262b"/>
<circle cx="511.27" cy="623.47" r="2.00" fill="#e2262b"/>
<circle cx="507.19" cy="626.94" r="2.00" fill="#e2262b"/>
<circle cx="510.25" cy="626.94" r="2.00" fill="#e2262b"/>
<circle cx="514.34" cy="625.51" r="2.00" fill="#e2262b"/>
<circle cx="503.51" cy="625.51" r="2.00" fill="#e2262b"/>
<line x1="469.40" y1="582.20" x2="510.90" y2="582.20" stroke="#747474" stroke-width="1.0"/>
<text x="489.80" y="582.90" font-size="10.3" text-anchor="middle" fill="#231f20" font-weight="bold" stroke="#231f20" stroke-width="0.22">*</text>
<text x="421.50" y="599.80" font-size="7.2" text-anchor="middle" fill="#231f20" font-weight="bold" stroke="#231f20" stroke-width="0.22" transform="rotate(-90 421.50 599.80)">Tumor Volume (mm<tspan font-size="4.5" dy="-3">3</tspan><tspan dy="3">)</tspan></text>
<text x="472.50" y="641.00" font-size="7.2" text-anchor="end" fill="#231f20" font-weight="bold" stroke="#231f20" stroke-width="0.22" transform="rotate(-45 472.50 641.00)">Vehicle</text>
<text x="511.50" y="641.00" font-size="7.2" text-anchor="end" fill="#231f20" font-weight="bold" stroke="#231f20" stroke-width="0.22" transform="rotate(-45 511.50 641.00)">Regorafenib</text>
<line x1="295.50" y1="669.90" x2="295.50" y2="739.20" stroke="#231f20" stroke-width="1.4"/>
<line x1="295.50" y1="739.20" x2="399.80" y2="739.20" stroke="#231f20" stroke-width="1.4"/>
<line x1="293.00" y1="669.90" x2="295.50" y2="669.90" stroke="#231f20" stroke-width="1.2"/>
<text x="292.30" y="672.30" font-size="6.8" text-anchor="end" fill="#231f20" font-weight="bold" stroke="#231f20" stroke-width="0.22">0.5</text>
<line x1="293.00" y1="684.00" x2="295.50" y2="684.00" stroke="#231f20" stroke-width="1.2"/>
<text x="292.30" y="686.40" font-size="6.8" text-anchor="end" fill="#231f20" font-weight="bold" stroke="#231f20" stroke-width="0.22">0.4</text>
<line x1="293.00" y1="697.50" x2="295.50" y2="697.50" stroke="#231f20" stroke-width="1.2"/>
<text x="292.30" y="699.90" font-size="6.8" text-anchor="end" fill="#231f20" font-weight="bold" stroke="#231f20" stroke-width="0.22">0.3</text>
<line x1="293.00" y1="711.60" x2="295.50" y2="711.60" stroke="#231f20" stroke-width="1.2"/>
<text x="292.30" y="714.00" font-size="6.8" text-anchor="end" fill="#231f20" font-weight="bold" stroke="#231f20" stroke-width="0.22">0.2</text>
<line x1="293.00" y1="725.50" x2="295.50" y2="725.50" stroke="#231f20" stroke-width="1.2"/>
<text x="292.30" y="727.90" font-size="6.8" text-anchor="end" fill="#231f20" font-weight="bold" stroke="#231f20" stroke-width="0.22">0.1</text>
<line x1="293.00" y1="739.20" x2="295.50" y2="739.20" stroke="#231f20" stroke-width="1.2"/>
<text x="292.30" y="741.60" font-size="6.8" text-anchor="end" fill="#231f20" font-weight="bold" stroke="#231f20" stroke-width="0.22">0.0</text>
<line x1="325.60" y1="691.40" x2="325.60" y2="715.90" stroke="#231f20" stroke-width="1.2"/>
<line x1="318.60" y1="691.40" x2="332.60" y2="691.40" stroke="#231f20" stroke-width="1.3"/>
<line x1="318.60" y1="715.90" x2="332.60" y2="715.90" stroke="#231f20" stroke-width="1.3"/>
<line x1="310.60" y1="703.40" x2="340.60" y2="703.40" stroke="#231f20" stroke-width="1.3"/>
<line x1="325.60" y1="739.20" x2="325.60" y2="741.70" stroke="#231f20" stroke-width="1.2"/>
<circle cx="325.59" cy="684.02" r="2.00" fill="#a6a6a6"/>
<circle cx="325.59" cy="693.83" r="2.00" fill="#a6a6a6"/>
<circle cx="323.55" cy="705.68" r="2.00" fill="#a6a6a6"/>
<circle cx="329.68" cy="708.75" r="2.00" fill="#a6a6a6"/>
<circle cx="327.63" cy="713.25" r="2.00" fill="#a6a6a6"/>
<circle cx="323.55" cy="715.90" r="2.00" fill="#a6a6a6"/>
<line x1="370.10" y1="696.50" x2="370.10" y2="719.40" stroke="#7b2b9e" stroke-width="1.2"/>
<line x1="363.10" y1="696.50" x2="377.10" y2="696.50" stroke="#7b2b9e" stroke-width="1.3"/>
<line x1="363.10" y1="719.40" x2="377.10" y2="719.40" stroke="#7b2b9e" stroke-width="1.3"/>
<line x1="355.30" y1="708.10" x2="384.90" y2="708.10" stroke="#7b2b9e" stroke-width="1.3"/>
<line x1="370.10" y1="739.20" x2="370.10" y2="741.70" stroke="#231f20" stroke-width="1.2"/>
<circle cx="368.10" cy="696.49" r="2.00" fill="#7b2b9e"/>
<circle cx="372.19" cy="696.49" r="2.00" fill="#7b2b9e"/>
<circle cx="368.10" cy="707.12" r="2.00" fill="#7b2b9e"/>
<circle cx="372.19" cy="706.09" r="2.00" fill="#7b2b9e"/>
<circle cx="370.14" cy="715.90" r="2.00" fill="#7b2b9e"/>
<circle cx="370.14" cy="725.51" r="2.00" fill="#7b2b9e"/>
<line x1="324.20" y1="680.50" x2="372.80" y2="680.50" stroke="#747474" stroke-width="1.0"/>
<text x="350.70" y="677.70" font-size="9.7" text-anchor="middle" fill="#231f20" font-weight="bold" stroke="#231f20" stroke-width="0.22">ns</text>
<text x="279.50" y="704.50" font-size="7.2" text-anchor="middle" fill="#231f20" font-weight="bold" stroke="#231f20" stroke-width="0.22" transform="rotate(-90 279.50 704.50)">Tumor Mass (g)</text>
<text x="329.00" y="746.00" font-size="7.2" text-anchor="end" fill="#231f20" font-weight="bold" stroke="#231f20" stroke-width="0.22" transform="rotate(-45 329.00 746.00)">Vehicle</text>
<text x="374.50" y="746.00" font-size="7.2" text-anchor="end" fill="#231f20" font-weight="bold" stroke="#231f20" stroke-width="0.22" transform="rotate(-45 374.50 746.00)">Regorafenib</text>
<line x1="430.50" y1="672.00" x2="430.50" y2="738.40" stroke="#231f20" stroke-width="1.4"/>
<line x1="430.50" y1="738.40" x2="531.30" y2="738.40" stroke="#231f20" stroke-width="1.4"/>
<line x1="428.00" y1="672.00" x2="430.50" y2="672.00" stroke="#231f20" stroke-width="1.2"/>
<text x="427.30" y="674.40" font-size="6.8" text-anchor="end" fill="#231f20" font-weight="bold" stroke="#231f20" stroke-width="0.22">1500</text>
<line x1="428.00" y1="694.40" x2="430.50" y2="694.40" stroke="#231f20" stroke-width="1.2"/>
<text x="427.30" y="696.80" font-size="6.8" text-anchor="end" fill="#231f20" font-weight="bold" stroke="#231f20" stroke-width="0.22">1000</text>
<line x1="428.00" y1="716.30" x2="430.50" y2="716.30" stroke="#231f20" stroke-width="1.2"/>
<text x="427.30" y="718.70" font-size="6.8" text-anchor="end" fill="#231f20" font-weight="bold" stroke="#231f20" stroke-width="0.22">500</text>
<line x1="428.00" y1="738.40" x2="430.50" y2="738.40" stroke="#231f20" stroke-width="1.2"/>
<text x="425.10" y="740.80" font-size="6.8" text-anchor="end" fill="#231f20" font-weight="bold" stroke="#231f20" stroke-width="0.22">0</text>
<line x1="459.80" y1="697.30" x2="459.80" y2="722.00" stroke="#231f20" stroke-width="1.2"/>
<line x1="452.80" y1="697.30" x2="466.80" y2="697.30" stroke="#231f20" stroke-width="1.3"/>
<line x1="452.80" y1="722.00" x2="466.80" y2="722.00" stroke="#231f20" stroke-width="1.3"/>
<line x1="445.80" y1="709.60" x2="473.80" y2="709.60" stroke="#231f20" stroke-width="1.3"/>
<line x1="459.80" y1="738.40" x2="459.80" y2="740.90" stroke="#231f20" stroke-width="1.2"/>
<circle cx="457.73" cy="692.81" r="2.00" fill="#a6a6a6"/>
<circle cx="461.82" cy="693.83" r="2.00" fill="#a6a6a6"/>
<circle cx="454.05" cy="716.72" r="2.00" fill="#a6a6a6"/>
<circle cx="457.73" cy="719.99" r="2.00" fill="#a6a6a6"/>
<circle cx="461.82" cy="719.99" r="2.00" fill="#a6a6a6"/>
<circle cx="465.90" cy="715.49" r="2.00" fill="#a6a6a6"/>
<line x1="502.70" y1="700.00" x2="502.70" y2="721.80" stroke="#7b2b9e" stroke-width="1.2"/>
<line x1="495.70" y1="700.00" x2="509.70" y2="700.00" stroke="#7b2b9e" stroke-width="1.3"/>
<line x1="495.70" y1="721.80" x2="509.70" y2="721.80" stroke="#7b2b9e" stroke-width="1.3"/>
<line x1="488.40" y1="710.80" x2="517.00" y2="710.80" stroke="#7b2b9e" stroke-width="1.3"/>
<line x1="502.70" y1="738.40" x2="502.70" y2="740.90" stroke="#231f20" stroke-width="1.2"/>
<circle cx="500.65" cy="698.33" r="2.00" fill="#7b2b9e"/>
<circle cx="504.73" cy="696.90" r="2.00" fill="#7b2b9e"/>
<circle cx="500.65" cy="714.27" r="2.00" fill="#7b2b9e"/>
<circle cx="504.73" cy="714.27" r="2.00" fill="#7b2b9e"/>
<circle cx="500.65" cy="722.44" r="2.00" fill="#7b2b9e"/>
<circle cx="504.73" cy="719.99" r="2.00" fill="#7b2b9e"/>
<line x1="461.80" y1="686.30" x2="503.10" y2="686.30" stroke="#747474" stroke-width="1.0"/>
<text x="483.70" y="683.90" font-size="9.7" text-anchor="middle" fill="#231f20" font-weight="bold" stroke="#231f20" stroke-width="0.22">ns</text>
<text x="408.80" y="705.70" font-size="7.2" text-anchor="middle" fill="#231f20" font-weight="bold" stroke="#231f20" stroke-width="0.22" transform="rotate(-90 408.80 705.70)">Tumor Volume (mm<tspan font-size="4.5" dy="-3">3</tspan><tspan dy="3">)</tspan></text>
<text x="462.00" y="746.00" font-size="7.2" text-anchor="end" fill="#231f20" font-weight="bold" stroke="#231f20" stroke-width="0.22" transform="rotate(-45 462.00 746.00)">Vehicle</text>
<text x="505.00" y="746.00" font-size="7.2" text-anchor="end" fill="#231f20" font-weight="bold" stroke="#231f20" stroke-width="0.22" transform="rotate(-45 505.00 746.00)">Regorafenib</text>
<line x1="582.10" y1="157.80" x2="582.10" y2="240.30" stroke="#231f20" stroke-width="1.4"/>
<line x1="582.10" y1="239.60" x2="680.70" y2="239.60" stroke="#231f20" stroke-width="1.4"/>
<line x1="579.60" y1="239.60" x2="582.10" y2="239.60" stroke="#231f20" stroke-width="1.2"/>
<text x="576.60" y="242.00" font-size="6.8" text-anchor="end" fill="#231f20" font-weight="bold" stroke="#231f20" stroke-width="0.22">0</text>
<line x1="579.60" y1="212.33" x2="582.10" y2="212.33" stroke="#231f20" stroke-width="1.2"/>
<text x="577.80" y="214.73" font-size="6.8" text-anchor="end" fill="#231f20" font-weight="bold" stroke="#231f20" stroke-width="0.22">500</text>
<line x1="579.60" y1="185.07" x2="582.10" y2="185.07" stroke="#231f20" stroke-width="1.2"/>
<text x="578.60" y="187.47" font-size="6.8" text-anchor="end" fill="#231f20" font-weight="bold" stroke="#231f20" stroke-width="0.22">1000</text>
<line x1="579.60" y1="157.80" x2="582.10" y2="157.80" stroke="#231f20" stroke-width="1.2"/>
<text x="578.60" y="160.20" font-size="6.8" text-anchor="end" fill="#231f20" font-weight="bold" stroke="#231f20" stroke-width="0.22">1500</text>
<line x1="582.50" y1="239.60" x2="582.50" y2="242.10" stroke="#231f20" stroke-width="1.2"/>
<text x="582.50" y="249.00" font-size="6.8" text-anchor="middle" fill="#231f20" font-weight="bold" stroke="#231f20" stroke-width="0.22">0</text>
<line x1="601.94" y1="239.60" x2="601.94" y2="242.10" stroke="#231f20" stroke-width="1.2"/>
<text x="601.94" y="249.00" font-size="6.8" text-anchor="middle" fill="#231f20" font-weight="bold" stroke="#231f20" stroke-width="0.22">3</text>
<line x1="621.38" y1="239.60" x2="621.38" y2="242.10" stroke="#231f20" stroke-width="1.2"/>
<text x="621.38" y="249.00" font-size="6.8" text-anchor="middle" fill="#231f20" font-weight="bold" stroke="#231f20" stroke-width="0.22">6</text>
<line x1="640.82" y1="239.60" x2="640.82" y2="242.10" stroke="#231f20" stroke-width="1.2"/>
<text x="640.82" y="249.00" font-size="6.8" text-anchor="middle" fill="#231f20" font-weight="bold" stroke="#231f20" stroke-width="0.22">9</text>
<line x1="660.26" y1="239.60" x2="660.26" y2="242.10" stroke="#231f20" stroke-width="1.2"/>
<text x="660.26" y="249.00" font-size="6.8" text-anchor="middle" fill="#231f20" font-weight="bold" stroke="#231f20" stroke-width="0.22">12</text>
<line x1="679.70" y1="239.60" x2="679.70" y2="242.10" stroke="#231f20" stroke-width="1.2"/>
<text x="679.70" y="249.00" font-size="6.8" text-anchor="middle" fill="#231f20" font-weight="bold" stroke="#231f20" stroke-width="0.22">15</text>
<line x1="601.94" y1="236.33" x2="601.94" y2="233.06" stroke="#e2262b" stroke-width="1.3"/>
<line x1="621.38" y1="235.51" x2="621.38" y2="231.97" stroke="#e2262b" stroke-width="1.3"/>
<line x1="640.82" y1="234.42" x2="640.82" y2="229.51" stroke="#e2262b" stroke-width="1.3"/>
<line x1="660.26" y1="233.87" x2="660.26" y2="228.15" stroke="#e2262b" stroke-width="1.3"/>
<line x1="679.70" y1="233.87" x2="679.70" y2="226.51" stroke="#e2262b" stroke-width="1.3"/>
<line x1="601.94" y1="233.71" x2="601.94" y2="229.40" stroke="#231f20" stroke-width="1.3"/>
<line x1="621.38" y1="227.82" x2="621.38" y2="220.90" stroke="#231f20" stroke-width="1.3"/>
<line x1="640.82" y1="225.80" x2="640.82" y2="208.52" stroke="#231f20" stroke-width="1.3"/>
<line x1="660.26" y1="222.31" x2="660.26" y2="199.19" stroke="#231f20" stroke-width="1.3"/>
<line x1="679.70" y1="219.53" x2="679.70" y2="185.99" stroke="#231f20" stroke-width="1.3"/>
<polyline points="582.50,235.29 601.94,231.31 621.38,224.39 640.82,217.51 660.26,211.02 679.70,203.12" fill="none" stroke="#231f20" stroke-width="1.3"/>
<polyline points="582.50,235.29 601.94,234.58 621.38,233.71 640.82,232.13 660.26,231.09 679.70,230.33" fill="none" stroke="#e2262b" stroke-width="1.3"/>
<line x1="586.50" y1="160.80" x2="593.80" y2="160.80" stroke="#231f20" stroke-width="2.2"/>
<text x="595.60" y="163.40" font-size="7.2" text-anchor="start" fill="#231f20" font-weight="bold" stroke="#231f20" stroke-width="0.22">Vehicle</text>
<line x1="586.50" y1="168.70" x2="593.80" y2="168.70" stroke="#e2262b" stroke-width="2.2"/>
<text x="595.60" y="171.30" font-size="7.2" text-anchor="start" fill="#231f20" font-weight="bold" stroke="#231f20" stroke-width="0.22">Apatinib</text>
<text x="679.70" y="185.50" font-size="10.3" text-anchor="middle" fill="#231f20" font-weight="bold" stroke="#231f20" stroke-width="0.22">*</text>
<text x="556.00" y="201.20" font-size="7.2" text-anchor="middle" fill="#231f20" font-weight="bold" stroke="#231f20" stroke-width="0.22" transform="rotate(-90 556.00 201.20)">MHCC97H</text>
<text x="561.50" y="197.30" font-size="7.2" text-anchor="middle" fill="#231f20" font-weight="bold" stroke="#231f20" stroke-width="0.22" transform="rotate(-90 561.50 197.30)">Tumor Volume (mm<tspan font-size="4.5" dy="-3">3</tspan><tspan dy="3">)</tspan></text>
<text x="637.30" y="254.60" font-size="7.2" text-anchor="middle" fill="#231f20" font-weight="bold" stroke="#231f20" stroke-width="0.22">Days post treatment</text>
<line x1="584.90" y1="261.30" x2="584.90" y2="339.00" stroke="#231f20" stroke-width="1.4"/>
<line x1="584.90" y1="338.30" x2="679.70" y2="338.30" stroke="#231f20" stroke-width="1.4"/>
<line x1="582.40" y1="338.30" x2="584.90" y2="338.30" stroke="#231f20" stroke-width="1.2"/>
<text x="579.40" y="340.70" font-size="6.8" text-anchor="end" fill="#231f20" font-weight="bold" stroke="#231f20" stroke-width="0.22">0</text>
<line x1="582.40" y1="312.63" x2="584.90" y2="312.63" stroke="#231f20" stroke-width="1.2"/>
<text x="581.40" y="315.03" font-size="6.8" text-anchor="end" fill="#231f20" font-weight="bold" stroke="#231f20" stroke-width="0.22">2000</text>
<line x1="582.40" y1="286.97" x2="584.90" y2="286.97" stroke="#231f20" stroke-width="1.2"/>
<text x="581.40" y="289.37" font-size="6.8" text-anchor="end" fill="#231f20" font-weight="bold" stroke="#231f20" stroke-width="0.22">4000</text>
<line x1="582.40" y1="261.30" x2="584.90" y2="261.30" stroke="#231f20" stroke-width="1.2"/>
<text x="581.40" y="263.70" font-size="6.8" text-anchor="end" fill="#231f20" font-weight="bold" stroke="#231f20" stroke-width="0.22">6000</text>
<line x1="584.90" y1="338.30" x2="584.90" y2="340.80" stroke="#231f20" stroke-width="1.2"/>
<text x="584.90" y="347.00" font-size="6.8" text-anchor="middle" fill="#231f20" font-weight="bold" stroke="#231f20" stroke-width="0.22">0</text>
<line x1="600.53" y1="338.30" x2="600.53" y2="340.80" stroke="#231f20" stroke-width="1.2"/>
<text x="600.53" y="347.00" font-size="6.8" text-anchor="middle" fill="#231f20" font-weight="bold" stroke="#231f20" stroke-width="0.22">3</text>
<line x1="616.17" y1="338.30" x2="616.17" y2="340.80" stroke="#231f20" stroke-width="1.2"/>
<text x="616.17" y="347.00" font-size="6.8" text-anchor="middle" fill="#231f20" font-weight="bold" stroke="#231f20" stroke-width="0.22">6</text>
<line x1="631.80" y1="338.30" x2="631.80" y2="340.80" stroke="#231f20" stroke-width="1.2"/>
<text x="631.80" y="347.00" font-size="6.8" text-anchor="middle" fill="#231f20" font-weight="bold" stroke="#231f20" stroke-width="0.22">9</text>
<line x1="647.43" y1="338.30" x2="647.43" y2="340.80" stroke="#231f20" stroke-width="1.2"/>
<text x="647.43" y="347.00" font-size="6.8" text-anchor="middle" fill="#231f20" font-weight="bold" stroke="#231f20" stroke-width="0.22">12</text>
<line x1="663.07" y1="338.30" x2="663.07" y2="340.80" stroke="#231f20" stroke-width="1.2"/>
<text x="663.07" y="347.00" font-size="6.8" text-anchor="middle" fill="#231f20" font-weight="bold" stroke="#231f20" stroke-width="0.22">15</text>
<line x1="678.70" y1="338.30" x2="678.70" y2="340.80" stroke="#231f20" stroke-width="1.2"/>
<text x="678.70" y="347.00" font-size="6.8" text-anchor="middle" fill="#231f20" font-weight="bold" stroke="#231f20" stroke-width="0.22">18</text>
<line x1="600.53" y1="335.09" x2="600.53" y2="330.60" stroke="#7b2b9e" stroke-width="1.3"/>
<line x1="616.17" y1="331.88" x2="616.17" y2="324.18" stroke="#7b2b9e" stroke-width="1.3"/>
<line x1="631.80" y1="329.32" x2="631.80" y2="310.07" stroke="#7b2b9e" stroke-width="1.3"/>
<line x1="647.43" y1="324.18" x2="647.43" y2="297.23" stroke="#7b2b9e" stroke-width="1.3"/>
<line x1="663.07" y1="316.48" x2="663.07" y2="277.98" stroke="#7b2b9e" stroke-width="1.3"/>
<line x1="678.70" y1="310.07" x2="678.70" y2="269.00" stroke="#7b2b9e" stroke-width="1.3"/>
<line x1="600.53" y1="334.45" x2="600.53" y2="328.03" stroke="#a6a6a6" stroke-width="1.3"/>
<line x1="616.17" y1="330.60" x2="616.17" y2="320.33" stroke="#a6a6a6" stroke-width="1.3"/>
<line x1="631.80" y1="324.18" x2="631.80" y2="303.65" stroke="#a6a6a6" stroke-width="1.3"/>
<line x1="647.43" y1="319.05" x2="647.43" y2="297.23" stroke="#a6a6a6" stroke-width="1.3"/>
<line x1="663.07" y1="316.48" x2="663.07" y2="277.98" stroke="#a6a6a6" stroke-width="1.3"/>
<line x1="678.70" y1="308.78" x2="678.70" y2="267.72" stroke="#a6a6a6" stroke-width="1.3"/>
<polyline points="584.90,335.09 600.53,331.24 616.17,325.47 631.80,313.92 647.43,308.14 663.07,300.44 678.70,291.46" fill="none" stroke="#a6a6a6" stroke-width="1.8"/>
<polyline points="584.90,335.73 600.53,333.17 616.17,328.03 631.80,319.69 647.43,310.07 663.07,297.88 678.70,289.53" fill="none" stroke="#7b2b9e" stroke-width="1.4"/>
<line x1="588.50" y1="264.00" x2="596.00" y2="264.00" stroke="#a6a6a6" stroke-width="2.2"/>
<text x="597.80" y="266.60" font-size="7.2" text-anchor="start" fill="#231f20" font-weight="bold" stroke="#231f20" stroke-width="0.22">Vehicle</text>
<line x1="588.50" y1="271.50" x2="596.00" y2="271.50" stroke="#7b2b9e" stroke-width="2.2"/>
<text x="597.80" y="274.10" font-size="7.2" text-anchor="start" fill="#231f20" font-weight="bold" stroke="#231f20" stroke-width="0.22">Apatinib</text>
<text x="678.90" y="267.00" font-size="9.7" text-anchor="middle" fill="#231f20" font-weight="bold" stroke="#231f20" stroke-width="0.22">ns</text>
<text x="551.80" y="293.30" font-size="7.2" text-anchor="middle" fill="#231f20" font-weight="bold" stroke="#231f20" stroke-width="0.22" transform="rotate(-90 551.80 293.30)">MHCC97H</text>
<text x="557.60" y="293.80" font-size="7.2" text-anchor="middle" fill="#231f20" font-weight="bold" stroke="#231f20" stroke-width="0.22" transform="rotate(-90 557.60 293.80)">OE-APOA2</text>
<text x="564.90" y="290.90" font-size="7.2" text-anchor="middle" fill="#231f20" font-weight="bold" stroke="#231f20" stroke-width="0.22" transform="rotate(-90 564.90 290.90)">Tumor Volume (mm<tspan font-size="4.5" dy="-3">3</tspan><tspan dy="3">)</tspan></text>
<text x="636.40" y="353.30" font-size="7.2" text-anchor="middle" fill="#231f20" font-weight="bold" stroke="#231f20" stroke-width="0.22">Days post treatment</text>
<line x1="580.80" y1="357.30" x2="580.80" y2="435.00" stroke="#231f20" stroke-width="1.4"/>
<line x1="580.80" y1="434.30" x2="673.70" y2="434.30" stroke="#231f20" stroke-width="1.4"/>
<line x1="578.30" y1="434.30" x2="580.80" y2="434.30" stroke="#231f20" stroke-width="1.2"/>
<text x="575.30" y="436.70" font-size="6.8" text-anchor="end" fill="#231f20" font-weight="bold" stroke="#231f20" stroke-width="0.22">0</text>
<line x1="578.30" y1="418.90" x2="580.80" y2="418.90" stroke="#231f20" stroke-width="1.2"/>
<text x="576.50" y="421.30" font-size="6.8" text-anchor="end" fill="#231f20" font-weight="bold" stroke="#231f20" stroke-width="0.22">500</text>
<line x1="578.30" y1="403.50" x2="580.80" y2="403.50" stroke="#231f20" stroke-width="1.2"/>
<text x="577.30" y="405.90" font-size="6.8" text-anchor="end" fill="#231f20" font-weight="bold" stroke="#231f20" stroke-width="0.22">1000</text>
<line x1="578.30" y1="388.10" x2="580.80" y2="388.10" stroke="#231f20" stroke-width="1.2"/>
<text x="577.30" y="390.50" font-size="6.8" text-anchor="end" fill="#231f20" font-weight="bold" stroke="#231f20" stroke-width="0.22">1500</text>
<line x1="578.30" y1="372.70" x2="580.80" y2="372.70" stroke="#231f20" stroke-width="1.2"/>
<text x="577.30" y="375.10" font-size="6.8" text-anchor="end" fill="#231f20" font-weight="bold" stroke="#231f20" stroke-width="0.22">2000</text>
<line x1="578.30" y1="357.30" x2="580.80" y2="357.30" stroke="#231f20" stroke-width="1.2"/>
<text x="577.30" y="359.70" font-size="6.8" text-anchor="end" fill="#231f20" font-weight="bold" stroke="#231f20" stroke-width="0.22">2500</text>
<line x1="581.40" y1="434.30" x2="581.40" y2="436.80" stroke="#231f20" stroke-width="1.2"/>
<text x="581.40" y="443.00" font-size="6.8" text-anchor="middle" fill="#231f20" font-weight="bold" stroke="#231f20" stroke-width="0.22">0</text>
<line x1="594.44" y1="434.30" x2="594.44" y2="436.80" stroke="#231f20" stroke-width="1.2"/>
<text x="594.44" y="443.00" font-size="6.8" text-anchor="middle" fill="#231f20" font-weight="bold" stroke="#231f20" stroke-width="0.22">3</text>
<line x1="607.49" y1="434.30" x2="607.49" y2="436.80" stroke="#231f20" stroke-width="1.2"/>
<text x="607.49" y="443.00" font-size="6.8" text-anchor="middle" fill="#231f20" font-weight="bold" stroke="#231f20" stroke-width="0.22">6</text>
<line x1="620.53" y1="434.30" x2="620.53" y2="436.80" stroke="#231f20" stroke-width="1.2"/>
<text x="620.53" y="443.00" font-size="6.8" text-anchor="middle" fill="#231f20" font-weight="bold" stroke="#231f20" stroke-width="0.22">9</text>
<line x1="633.57" y1="434.30" x2="633.57" y2="436.80" stroke="#231f20" stroke-width="1.2"/>
<text x="633.57" y="443.00" font-size="6.8" text-anchor="middle" fill="#231f20" font-weight="bold" stroke="#231f20" stroke-width="0.22">12</text>
<line x1="646.61" y1="434.30" x2="646.61" y2="436.80" stroke="#231f20" stroke-width="1.2"/>
<text x="646.61" y="443.00" font-size="6.8" text-anchor="middle" fill="#231f20" font-weight="bold" stroke="#231f20" stroke-width="0.22">15</text>
<line x1="659.66" y1="434.30" x2="659.66" y2="436.80" stroke="#231f20" stroke-width="1.2"/>
<text x="659.66" y="443.00" font-size="6.8" text-anchor="middle" fill="#231f20" font-weight="bold" stroke="#231f20" stroke-width="0.22">18</text>
<line x1="672.70" y1="434.30" x2="672.70" y2="436.80" stroke="#231f20" stroke-width="1.2"/>
<text x="672.70" y="443.00" font-size="6.8" text-anchor="middle" fill="#231f20" font-weight="bold" stroke="#231f20" stroke-width="0.22">21</text>
<line x1="594.44" y1="432.45" x2="594.44" y2="429.37" stroke="#e2262b" stroke-width="1.3"/>
<line x1="607.49" y1="432.14" x2="607.49" y2="428.76" stroke="#e2262b" stroke-width="1.3"/>
<line x1="620.53" y1="431.22" x2="620.53" y2="427.52" stroke="#e2262b" stroke-width="1.3"/>
<line x1="633.57" y1="430.60" x2="633.57" y2="426.29" stroke="#e2262b" stroke-width="1.3"/>
<line x1="646.61" y1="429.99" x2="646.61" y2="424.14" stroke="#e2262b" stroke-width="1.3"/>
<line x1="659.66" y1="429.99" x2="659.66" y2="420.59" stroke="#e2262b" stroke-width="1.3"/>
<line x1="672.70" y1="428.82" x2="672.70" y2="412.99" stroke="#e2262b" stroke-width="1.3"/>
<line x1="594.44" y1="431.81" x2="594.44" y2="425.80" stroke="#231f20" stroke-width="1.3"/>
<line x1="607.49" y1="427.80" x2="607.49" y2="420.59" stroke="#231f20" stroke-width="1.3"/>
<line x1="620.53" y1="425.31" x2="620.53" y2="417.61" stroke="#231f20" stroke-width="1.3"/>
<line x1="633.57" y1="423.70" x2="633.57" y2="411.38" stroke="#231f20" stroke-width="1.3"/>
<line x1="646.61" y1="420.59" x2="646.61" y2="403.68" stroke="#231f20" stroke-width="1.3"/>
<line x1="659.66" y1="416.50" x2="659.66" y2="394.69" stroke="#231f20" stroke-width="1.3"/>
<line x1="672.70" y1="404.30" x2="672.70" y2="373.59" stroke="#231f20" stroke-width="1.3"/>
<polyline points="581.40,431.90 594.44,428.82 607.49,424.69 620.53,421.61 633.57,416.90 646.61,412.00 659.66,405.69 672.70,388.90" fill="none" stroke="#231f20" stroke-width="1.3"/>
<polyline points="581.40,431.90 594.44,430.79 607.49,430.39 620.53,429.40 633.57,428.39 646.61,427.40 659.66,425.31 672.70,420.99" fill="none" stroke="#e2262b" stroke-width="1.3"/>
<line x1="585.30" y1="362.40" x2="592.40" y2="362.40" stroke="#231f20" stroke-width="2.2"/>
<text x="594.20" y="365.00" font-size="7.2" text-anchor="start" fill="#231f20" font-weight="bold" stroke="#231f20" stroke-width="0.22">Vehicle</text>
<line x1="585.30" y1="371.60" x2="592.40" y2="371.60" stroke="#e2262b" stroke-width="2.2"/>
<text x="594.20" y="374.20" font-size="7.2" text-anchor="start" fill="#231f20" font-weight="bold" stroke="#231f20" stroke-width="0.22">Lenvatinib</text>
<text x="672.70" y="373.50" font-size="10.3" text-anchor="middle" fill="#231f20" font-weight="bold" stroke="#231f20" stroke-width="0.22">*</text>
<text x="552.10" y="394.90" font-size="7.2" text-anchor="middle" fill="#231f20" font-weight="bold" stroke="#231f20" stroke-width="0.22" transform="rotate(-90 552.10 394.90)">7721</text>
<text x="559.10" y="395.60" font-size="7.2" text-anchor="middle" fill="#231f20" font-weight="bold" stroke="#231f20" stroke-width="0.22" transform="rotate(-90 559.10 395.60)">Tumor Volume (mm<tspan font-size="4.5" dy="-3">3</tspan><tspan dy="3">)</tspan></text>
<text x="627.30" y="452.20" font-size="7.2" text-anchor="middle" fill="#231f20" font-weight="bold" stroke="#231f20" stroke-width="0.22">Days post treatment</text>
<line x1="579.30" y1="457.30" x2="579.30" y2="540.30" stroke="#231f20" stroke-width="1.4"/>
<line x1="579.30" y1="539.60" x2="679.30" y2="539.60" stroke="#231f20" stroke-width="1.4"/>
<line x1="576.80" y1="539.60" x2="579.30" y2="539.60" stroke="#231f20" stroke-width="1.2"/>
<text x="573.80" y="542.00" font-size="6.8" text-anchor="end" fill="#231f20" font-weight="bold" stroke="#231f20" stroke-width="0.22">0</text>
<line x1="576.80" y1="519.02" x2="579.30" y2="519.02" stroke="#231f20" stroke-width="1.2"/>
<text x="575.00" y="521.42" font-size="6.8" text-anchor="end" fill="#231f20" font-weight="bold" stroke="#231f20" stroke-width="0.22">200</text>
<line x1="576.80" y1="498.45" x2="579.30" y2="498.45" stroke="#231f20" stroke-width="1.2"/>
<text x="575.00" y="500.85" font-size="6.8" text-anchor="end" fill="#231f20" font-weight="bold" stroke="#231f20" stroke-width="0.22">400</text>
<line x1="576.80" y1="477.88" x2="579.30" y2="477.88" stroke="#231f20" stroke-width="1.2"/>
<text x="575.00" y="480.27" font-size="6.8" text-anchor="end" fill="#231f20" font-weight="bold" stroke="#231f20" stroke-width="0.22">600</text>
<line x1="576.80" y1="457.30" x2="579.30" y2="457.30" stroke="#231f20" stroke-width="1.2"/>
<text x="575.00" y="459.70" font-size="6.8" text-anchor="end" fill="#231f20" font-weight="bold" stroke="#231f20" stroke-width="0.22">800</text>
<line x1="580.20" y1="539.60" x2="580.20" y2="542.10" stroke="#231f20" stroke-width="1.2"/>
<text x="580.20" y="548.00" font-size="6.8" text-anchor="middle" fill="#231f20" font-weight="bold" stroke="#231f20" stroke-width="0.22">0</text>
<line x1="604.73" y1="539.60" x2="604.73" y2="542.10" stroke="#231f20" stroke-width="1.2"/>
<text x="604.73" y="548.00" font-size="6.8" text-anchor="middle" fill="#231f20" font-weight="bold" stroke="#231f20" stroke-width="0.22">3</text>
<line x1="629.25" y1="539.60" x2="629.25" y2="542.10" stroke="#231f20" stroke-width="1.2"/>
<text x="629.25" y="548.00" font-size="6.8" text-anchor="middle" fill="#231f20" font-weight="bold" stroke="#231f20" stroke-width="0.22">6</text>
<line x1="653.77" y1="539.60" x2="653.77" y2="542.10" stroke="#231f20" stroke-width="1.2"/>
<text x="653.77" y="548.00" font-size="6.8" text-anchor="middle" fill="#231f20" font-weight="bold" stroke="#231f20" stroke-width="0.22">9</text>
<line x1="678.30" y1="539.60" x2="678.30" y2="542.10" stroke="#231f20" stroke-width="1.2"/>
<text x="678.30" y="548.00" font-size="6.8" text-anchor="middle" fill="#231f20" font-weight="bold" stroke="#231f20" stroke-width="0.22">12</text>
<line x1="604.73" y1="529.31" x2="604.73" y2="522.63" stroke="#7b2b9e" stroke-width="1.3"/>
<line x1="629.25" y1="521.08" x2="629.25" y2="506.68" stroke="#7b2b9e" stroke-width="1.3"/>
<line x1="653.77" y1="512.85" x2="653.77" y2="487.13" stroke="#7b2b9e" stroke-width="1.3"/>
<line x1="678.30" y1="503.08" x2="678.30" y2="461.42" stroke="#7b2b9e" stroke-width="1.3"/>
<line x1="604.73" y1="531.37" x2="604.73" y2="522.11" stroke="#a6a6a6" stroke-width="1.3"/>
<line x1="629.25" y1="524.17" x2="629.25" y2="508.74" stroke="#a6a6a6" stroke-width="1.3"/>
<line x1="653.77" y1="513.88" x2="653.77" y2="486.11" stroke="#a6a6a6" stroke-width="1.3"/>
<line x1="678.30" y1="503.59" x2="678.30" y2="461.42" stroke="#a6a6a6" stroke-width="1.3"/>
<polyline points="580.20,533.43 604.73,527.46 629.25,516.76 653.77,499.27 678.30,481.17" fill="none" stroke="#a6a6a6" stroke-width="1.8"/>
<polyline points="580.20,533.02 604.73,526.64 629.25,514.91 653.77,499.07 678.30,484.25" fill="none" stroke="#7b2b9e" stroke-width="1.3"/>
<line x1="583.80" y1="463.40" x2="592.00" y2="463.40" stroke="#a6a6a6" stroke-width="2.2"/>
<text x="593.80" y="466.00" font-size="7.2" text-anchor="start" fill="#231f20" font-weight="bold" stroke="#231f20" stroke-width="0.22">Vehicle</text>
<line x1="583.80" y1="470.50" x2="592.00" y2="470.50" stroke="#7b2b9e" stroke-width="2.2"/>
<text x="593.80" y="473.10" font-size="7.2" text-anchor="start" fill="#231f20" font-weight="bold" stroke="#231f20" stroke-width="0.22">Lenvatinib</text>
<text x="678.90" y="460.00" font-size="9.7" text-anchor="middle" fill="#231f20" font-weight="bold" stroke="#231f20" stroke-width="0.22">ns</text>
<text x="545.20" y="494.90" font-size="7.2" text-anchor="middle" fill="#231f20" font-weight="bold" stroke="#231f20" stroke-width="0.22" transform="rotate(-90 545.20 494.90)">7721</text>
<text x="552.20" y="495.90" font-size="7.2" text-anchor="middle" fill="#231f20" font-weight="bold" stroke="#231f20" stroke-width="0.22" transform="rotate(-90 552.20 495.90)">OE-APOA2</text>
<text x="560.20" y="495.40" font-size="7.2" text-anchor="middle" fill="#231f20" font-weight="bold" stroke="#231f20" stroke-width="0.22" transform="rotate(-90 560.20 495.40)">Tumor Volume (mm<tspan font-size="4.5" dy="-3">3</tspan><tspan dy="3">)</tspan></text>
<text x="632.90" y="555.00" font-size="7.2" text-anchor="middle" fill="#231f20" font-weight="bold" stroke="#231f20" stroke-width="0.22">Days post treatment</text>
<line x1="582.80" y1="559.10" x2="582.80" y2="634.00" stroke="#231f20" stroke-width="1.4"/>
<line x1="582.80" y1="633.30" x2="672.70" y2="633.30" stroke="#231f20" stroke-width="1.4"/>
<line x1="580.30" y1="633.30" x2="582.80" y2="633.30" stroke="#231f20" stroke-width="1.2"/>
<text x="577.30" y="635.70" font-size="6.8" text-anchor="end" fill="#231f20" font-weight="bold" stroke="#231f20" stroke-width="0.22">0</text>
<line x1="580.30" y1="608.57" x2="582.80" y2="608.57" stroke="#231f20" stroke-width="1.2"/>
<text x="578.50" y="610.97" font-size="6.8" text-anchor="end" fill="#231f20" font-weight="bold" stroke="#231f20" stroke-width="0.22">500</text>
<line x1="580.30" y1="583.83" x2="582.80" y2="583.83" stroke="#231f20" stroke-width="1.2"/>
<text x="579.30" y="586.23" font-size="6.8" text-anchor="end" fill="#231f20" font-weight="bold" stroke="#231f20" stroke-width="0.22">1000</text>
<line x1="580.30" y1="559.10" x2="582.80" y2="559.10" stroke="#231f20" stroke-width="1.2"/>
<text x="579.30" y="561.50" font-size="6.8" text-anchor="end" fill="#231f20" font-weight="bold" stroke="#231f20" stroke-width="0.22">1500</text>
<line x1="583.20" y1="633.30" x2="583.20" y2="635.80" stroke="#231f20" stroke-width="1.2"/>
<text x="583.20" y="641.30" font-size="6.8" text-anchor="middle" fill="#231f20" font-weight="bold" stroke="#231f20" stroke-width="0.22">0</text>
<line x1="597.95" y1="633.30" x2="597.95" y2="635.80" stroke="#231f20" stroke-width="1.2"/>
<text x="597.95" y="641.30" font-size="6.8" text-anchor="middle" fill="#231f20" font-weight="bold" stroke="#231f20" stroke-width="0.22">3</text>
<line x1="612.70" y1="633.30" x2="612.70" y2="635.80" stroke="#231f20" stroke-width="1.2"/>
<text x="612.70" y="641.30" font-size="6.8" text-anchor="middle" fill="#231f20" font-weight="bold" stroke="#231f20" stroke-width="0.22">6</text>
<line x1="627.45" y1="633.30" x2="627.45" y2="635.80" stroke="#231f20" stroke-width="1.2"/>
<text x="627.45" y="641.30" font-size="6.8" text-anchor="middle" fill="#231f20" font-weight="bold" stroke="#231f20" stroke-width="0.22">9</text>
<line x1="642.20" y1="633.30" x2="642.20" y2="635.80" stroke="#231f20" stroke-width="1.2"/>
<text x="642.20" y="641.30" font-size="6.8" text-anchor="middle" fill="#231f20" font-weight="bold" stroke="#231f20" stroke-width="0.22">12</text>
<line x1="656.95" y1="633.30" x2="656.95" y2="635.80" stroke="#231f20" stroke-width="1.2"/>
<text x="656.95" y="641.30" font-size="6.8" text-anchor="middle" fill="#231f20" font-weight="bold" stroke="#231f20" stroke-width="0.22">15</text>
<line x1="671.70" y1="633.30" x2="671.70" y2="635.80" stroke="#231f20" stroke-width="1.2"/>
<text x="671.70" y="641.30" font-size="6.8" text-anchor="middle" fill="#231f20" font-weight="bold" stroke="#231f20" stroke-width="0.22">18</text>
<line x1="597.95" y1="628.35" x2="597.95" y2="625.39" stroke="#e2262b" stroke-width="1.3"/>
<line x1="612.70" y1="627.86" x2="612.70" y2="624.64" stroke="#e2262b" stroke-width="1.3"/>
<line x1="627.45" y1="627.36" x2="627.45" y2="623.90" stroke="#e2262b" stroke-width="1.3"/>
<line x1="642.20" y1="626.87" x2="642.20" y2="622.66" stroke="#e2262b" stroke-width="1.3"/>
<line x1="656.95" y1="626.37" x2="656.95" y2="620.93" stroke="#e2262b" stroke-width="1.3"/>
<line x1="671.70" y1="625.88" x2="671.70" y2="618.95" stroke="#e2262b" stroke-width="1.3"/>
<line x1="597.95" y1="627.86" x2="597.95" y2="624.40" stroke="#231f20" stroke-width="1.3"/>
<line x1="612.70" y1="623.90" x2="612.70" y2="618.95" stroke="#231f20" stroke-width="1.3"/>
<line x1="627.45" y1="620.44" x2="627.45" y2="609.06" stroke="#231f20" stroke-width="1.3"/>
<line x1="642.20" y1="615.29" x2="642.20" y2="600.65" stroke="#231f20" stroke-width="1.3"/>
<line x1="656.95" y1="610.89" x2="656.95" y2="594.57" stroke="#231f20" stroke-width="1.3"/>
<line x1="671.70" y1="607.68" x2="671.70" y2="585.96" stroke="#231f20" stroke-width="1.3"/>
<polyline points="583.20,629.00 597.95,626.08 612.70,621.38 627.45,615.29 642.20,607.68 656.95,602.98 671.70,596.84" fill="none" stroke="#231f20" stroke-width="1.3"/>
<polyline points="583.20,629.00 597.95,626.87 612.70,626.37 627.45,625.88 642.20,625.09 656.95,624.05 671.70,623.06" fill="none" stroke="#e2262b" stroke-width="1.3"/>
<line x1="587.90" y1="564.20" x2="594.00" y2="564.20" stroke="#231f20" stroke-width="2.2"/>
<text x="595.80" y="566.80" font-size="7.2" text-anchor="start" fill="#231f20" font-weight="bold" stroke="#231f20" stroke-width="0.22">Vehicle</text>
<line x1="587.90" y1="571.30" x2="594.00" y2="571.30" stroke="#e2262b" stroke-width="2.2"/>
<text x="595.80" y="573.90" font-size="7.2" text-anchor="start" fill="#231f20" font-weight="bold" stroke="#231f20" stroke-width="0.22">Regorafenib</text>
<text x="672.70" y="586.20" font-size="10.3" text-anchor="middle" fill="#231f20" font-weight="bold" stroke="#231f20" stroke-width="0.22">*</text>
<text x="557.00" y="599.10" font-size="7.2" text-anchor="middle" fill="#231f20" font-weight="bold" stroke="#231f20" stroke-width="0.22" transform="rotate(-90 557.00 599.10)">HepG2</text>
<text x="564.40" y="594.60" font-size="7.2" text-anchor="middle" fill="#231f20" font-weight="bold" stroke="#231f20" stroke-width="0.22" transform="rotate(-90 564.40 594.60)">Tumor Volume (mm<tspan font-size="4.5" dy="-3">3</tspan><tspan dy="3">)</tspan></text>
<text x="634.60" y="648.60" font-size="7.2" text-anchor="middle" fill="#231f20" font-weight="bold" stroke="#231f20" stroke-width="0.22">Days post treatment</text>
<line x1="579.60" y1="656.70" x2="579.60" y2="740.40" stroke="#231f20" stroke-width="1.4"/>
<line x1="579.60" y1="739.70" x2="680.30" y2="739.70" stroke="#231f20" stroke-width="1.4"/>
<line x1="577.10" y1="739.70" x2="579.60" y2="739.70" stroke="#231f20" stroke-width="1.2"/>
<text x="574.10" y="742.10" font-size="6.8" text-anchor="end" fill="#231f20" font-weight="bold" stroke="#231f20" stroke-width="0.22">0</text>
<line x1="577.10" y1="712.03" x2="579.60" y2="712.03" stroke="#231f20" stroke-width="1.2"/>
<text x="575.30" y="714.43" font-size="6.8" text-anchor="end" fill="#231f20" font-weight="bold" stroke="#231f20" stroke-width="0.22">500</text>
<line x1="577.10" y1="684.37" x2="579.60" y2="684.37" stroke="#231f20" stroke-width="1.2"/>
<text x="576.10" y="686.77" font-size="6.8" text-anchor="end" fill="#231f20" font-weight="bold" stroke="#231f20" stroke-width="0.22">1000</text>
<line x1="577.10" y1="656.70" x2="579.60" y2="656.70" stroke="#231f20" stroke-width="1.2"/>
<text x="576.10" y="659.10" font-size="6.8" text-anchor="end" fill="#231f20" font-weight="bold" stroke="#231f20" stroke-width="0.22">1500</text>
<line x1="579.60" y1="739.70" x2="579.60" y2="742.20" stroke="#231f20" stroke-width="1.2"/>
<text x="579.60" y="749.60" font-size="6.8" text-anchor="middle" fill="#231f20" font-weight="bold" stroke="#231f20" stroke-width="0.22">0</text>
<line x1="604.52" y1="739.70" x2="604.52" y2="742.20" stroke="#231f20" stroke-width="1.2"/>
<text x="604.52" y="749.60" font-size="6.8" text-anchor="middle" fill="#231f20" font-weight="bold" stroke="#231f20" stroke-width="0.22">3</text>
<line x1="629.45" y1="739.70" x2="629.45" y2="742.20" stroke="#231f20" stroke-width="1.2"/>
<text x="629.45" y="749.60" font-size="6.8" text-anchor="middle" fill="#231f20" font-weight="bold" stroke="#231f20" stroke-width="0.22">6</text>
<line x1="654.38" y1="739.70" x2="654.38" y2="742.20" stroke="#231f20" stroke-width="1.2"/>
<text x="654.38" y="749.60" font-size="6.8" text-anchor="middle" fill="#231f20" font-weight="bold" stroke="#231f20" stroke-width="0.22">9</text>
<line x1="679.30" y1="739.70" x2="679.30" y2="742.20" stroke="#231f20" stroke-width="1.2"/>
<text x="679.30" y="749.60" font-size="6.8" text-anchor="middle" fill="#231f20" font-weight="bold" stroke="#231f20" stroke-width="0.22">12</text>
<line x1="629.45" y1="725.31" x2="629.45" y2="713.14" stroke="#7b2b9e" stroke-width="1.3"/>
<line x1="604.52" y1="732.51" x2="604.52" y2="729.19" stroke="#a6a6a6" stroke-width="1.3"/>
<line x1="629.45" y1="723.10" x2="629.45" y2="717.57" stroke="#a6a6a6" stroke-width="1.3"/>
<line x1="654.38" y1="723.10" x2="654.38" y2="695.43" stroke="#a6a6a6" stroke-width="1.3"/>
<line x1="679.30" y1="717.57" x2="679.30" y2="685.47" stroke="#a6a6a6" stroke-width="1.3"/>
<polyline points="579.60,735.83 604.52,731.23 629.45,720.33 654.38,709.38 679.30,701.63" fill="none" stroke="#7b2b9e" stroke-width="1.4"/>
<polyline points="579.60,735.38 604.52,730.68 629.45,719.78 654.38,708.93 679.30,701.30" fill="none" stroke="#a6a6a6" stroke-width="1.9"/>
<line x1="585.50" y1="664.50" x2="592.90" y2="664.50" stroke="#a6a6a6" stroke-width="2.2"/>
<text x="594.70" y="667.10" font-size="7.2" text-anchor="start" fill="#231f20" font-weight="bold" stroke="#231f20" stroke-width="0.22">Vehicle</text>
<line x1="585.50" y1="673.00" x2="592.90" y2="673.00" stroke="#7b2b9e" stroke-width="2.2"/>
<text x="594.70" y="675.60" font-size="7.2" text-anchor="start" fill="#231f20" font-weight="bold" stroke="#231f20" stroke-width="0.22">Regorafenib</text>
<text x="678.90" y="681.40" font-size="9.7" text-anchor="middle" fill="#231f20" font-weight="bold" stroke="#231f20" stroke-width="0.22">ns</text>
<text x="540.40" y="703.90" font-size="7.2" text-anchor="middle" fill="#231f20" font-weight="bold" stroke="#231f20" stroke-width="0.22" transform="rotate(-90 540.40 703.90)">HepG2</text>
<text x="549.80" y="705.50" font-size="7.2" text-anchor="middle" fill="#231f20" font-weight="bold" stroke="#231f20" stroke-width="0.22" transform="rotate(-90 549.80 705.50)">OE-APOA2</text>
<text x="557.80" y="704.70" font-size="7.2" text-anchor="middle" fill="#231f20" font-weight="bold" stroke="#231f20" stroke-width="0.22" transform="rotate(-90 557.80 704.70)">Tumor Volume (mm<tspan font-size="4.5" dy="-3">3</tspan><tspan dy="3">)</tspan></text>
<text x="632.40" y="756.40" font-size="7.2" text-anchor="middle" fill="#231f20" font-weight="bold" stroke="#231f20" stroke-width="0.22">Days post treatment</text>
<rect x="77.90" y="789.05" width="24.50" height="94.15" fill="#221a18"/>
<line x1="90.15" y1="788.32" x2="90.15" y2="789.05" stroke="#231f20" stroke-width="1.2"/>
<line x1="86.15" y1="788.32" x2="94.15" y2="788.32" stroke="#231f20" stroke-width="1.3"/>
<circle cx="87.15" cy="788.59" r="1.60" fill="#231f20"/>
<circle cx="93.15" cy="788.59" r="1.60" fill="#231f20"/>
<rect x="114.20" y="859.20" width="24.50" height="24.00" fill="#a9a9a9"/>
<line x1="126.45" y1="857.73" x2="126.45" y2="859.20" stroke="#231f20" stroke-width="1.2"/>
<line x1="122.45" y1="857.73" x2="130.45" y2="857.73" stroke="#231f20" stroke-width="1.3"/>
<circle cx="123.45" cy="858.28" r="1.60" fill="#231f20"/>
<circle cx="129.45" cy="858.74" r="1.60" fill="#231f20"/>
<circle cx="126.45" cy="861.05" r="1.60" fill="#231f20"/>
<rect x="150.40" y="789.05" width="24.60" height="94.15" fill="#838580"/>
<line x1="162.70" y1="788.50" x2="162.70" y2="789.05" stroke="#231f20" stroke-width="1.2"/>
<line x1="158.70" y1="788.50" x2="166.70" y2="788.50" stroke="#231f20" stroke-width="1.3"/>
<circle cx="159.70" cy="788.59" r="1.60" fill="#231f20"/>
<circle cx="162.70" cy="788.78" r="1.60" fill="#231f20"/>
<circle cx="165.70" cy="788.59" r="1.60" fill="#231f20"/>
<rect x="186.70" y="788.13" width="24.50" height="95.07" fill="#dedede"/>
<line x1="198.95" y1="782.59" x2="198.95" y2="788.13" stroke="#231f20" stroke-width="1.2"/>
<line x1="194.95" y1="782.59" x2="202.95" y2="782.59" stroke="#231f20" stroke-width="1.3"/>
<circle cx="195.95" cy="791.82" r="1.60" fill="#231f20"/>
<circle cx="201.95" cy="791.82" r="1.60" fill="#231f20"/>
<circle cx="198.95" cy="783.52" r="1.60" fill="#231f20"/>
<line x1="68.40" y1="781.80" x2="68.40" y2="883.90" stroke="#231f20" stroke-width="1.5"/>
<line x1="68.40" y1="883.20" x2="220.00" y2="883.20" stroke="#231f20" stroke-width="1.5"/>
<line x1="65.40" y1="883.20" x2="68.40" y2="883.20" stroke="#231f20" stroke-width="1.3"/>
<text x="62.20" y="886.20" font-size="8.6" text-anchor="end" fill="#231f20" font-weight="bold" stroke="#231f20" stroke-width="0.22">0</text>
<line x1="65.40" y1="837.05" x2="68.40" y2="837.05" stroke="#231f20" stroke-width="1.3"/>
<text x="64.40" y="840.05" font-size="8.6" text-anchor="end" fill="#231f20" font-weight="bold" stroke="#231f20" stroke-width="0.22">50</text>
<line x1="65.40" y1="790.90" x2="68.40" y2="790.90" stroke="#231f20" stroke-width="1.3"/>
<text x="64.40" y="793.90" font-size="8.6" text-anchor="end" fill="#231f20" font-weight="bold" stroke="#231f20" stroke-width="0.22">100</text>
<line x1="84.00" y1="784.50" x2="129.30" y2="784.50" stroke="#231f20" stroke-width="1.25"/>
<text x="106.90" y="783.40" font-size="9.5" text-anchor="middle" fill="#231f20" font-weight="bold" stroke="#231f20" stroke-width="0.22" letter-spacing="0.8">***</text>
<line x1="132.60" y1="775.50" x2="177.30" y2="775.50" stroke="#231f20" stroke-width="1.25"/>
<text x="156.00" y="774.70" font-size="9.5" text-anchor="middle" fill="#231f20" font-weight="bold" stroke="#231f20" stroke-width="0.22" letter-spacing="0.8">***</text>
<line x1="163.90" y1="778.50" x2="198.80" y2="778.50" stroke="#231f20" stroke-width="1.25"/>
<text x="47.00" y="834.00" font-size="9.3" text-anchor="middle" fill="#231f20" font-weight="bold" stroke="#231f20" stroke-width="0.22" transform="rotate(-90 47.00 834.00)">% Inhibition ratio</text>
<text x="94.50" y="891.50" font-size="9.7" text-anchor="end" fill="#231f20" font-weight="bold" stroke="#231f20" stroke-width="0.22" transform="rotate(-44 94.50 891.50)">Vehicle</text>
<text x="130.50" y="891.50" font-size="9.7" text-anchor="end" fill="#231f20" font-weight="bold" stroke="#231f20" stroke-width="0.22" transform="rotate(-44 130.50 891.50)">Apatinib</text>
<text x="164.20" y="891.50" font-size="9.7" text-anchor="end" fill="#231f20" font-weight="bold" stroke="#231f20" stroke-width="0.22" transform="rotate(-44 164.20 891.50)">Vehicle</text>
<text x="199.20" y="891.50" font-size="9.7" text-anchor="end" fill="#231f20" font-weight="bold" stroke="#231f20" stroke-width="0.22" transform="rotate(-44 199.20 891.50)">Apatinib</text>
<line x1="70.50" y1="920.50" x2="131.00" y2="920.50" stroke="#3a3636" stroke-width="1.3"/>
<text x="100.40" y="932.70" font-size="9.5" text-anchor="middle" fill="#231f20" font-weight="bold" stroke="#231f20" stroke-width="0.22">MHCC97H</text>
<line x1="147.70" y1="921.20" x2="207.50" y2="921.20" stroke="#3a3636" stroke-width="1.3"/>
<text x="178.40" y="933.60" font-size="9.5" text-anchor="middle" fill="#231f20" font-weight="bold" stroke="#231f20" stroke-width="0.22">MHCC97H</text>
<rect x="289.80" y="792.70" width="22.90" height="90.90" fill="#050505"/>
<line x1="301.25" y1="791.53" x2="301.25" y2="792.70" stroke="#231f20" stroke-width="1.2"/>
<line x1="297.25" y1="791.53" x2="305.25" y2="791.53" stroke="#231f20" stroke-width="1.3"/>
<circle cx="298.25" cy="791.80" r="1.60" fill="#231f20"/>
<circle cx="304.25" cy="791.80" r="1.60" fill="#231f20"/>
<rect x="325.10" y="849.40" width="22.50" height="34.20" fill="#a9a9a9"/>
<line x1="336.35" y1="847.15" x2="336.35" y2="849.40" stroke="#231f20" stroke-width="1.2"/>
<line x1="332.35" y1="847.15" x2="340.35" y2="847.15" stroke="#231f20" stroke-width="1.3"/>
<circle cx="333.35" cy="850.30" r="1.60" fill="#231f20"/>
<circle cx="339.35" cy="849.85" r="1.60" fill="#231f20"/>
<circle cx="336.35" cy="849.40" r="1.60" fill="#231f20"/>
<rect x="360.40" y="795.40" width="22.50" height="88.20" fill="#838580"/>
<line x1="371.65" y1="790.90" x2="371.65" y2="795.40" stroke="#231f20" stroke-width="1.2"/>
<line x1="367.65" y1="790.90" x2="375.65" y2="790.90" stroke="#231f20" stroke-width="1.3"/>
<circle cx="371.65" cy="792.70" r="1.60" fill="#231f20"/>
<circle cx="371.65" cy="797.20" r="1.60" fill="#231f20"/>
<rect x="394.60" y="795.40" width="22.80" height="88.20" fill="#dedede"/>
<line x1="406.00" y1="791.35" x2="406.00" y2="795.40" stroke="#231f20" stroke-width="1.2"/>
<line x1="402.00" y1="791.35" x2="410.00" y2="791.35" stroke="#231f20" stroke-width="1.3"/>
<circle cx="406.00" cy="792.70" r="1.60" fill="#231f20"/>
<circle cx="406.00" cy="796.30" r="1.60" fill="#231f20"/>
<line x1="282.10" y1="785.20" x2="282.10" y2="884.30" stroke="#231f20" stroke-width="1.5"/>
<line x1="282.10" y1="883.60" x2="429.90" y2="883.60" stroke="#231f20" stroke-width="1.5"/>
<line x1="279.10" y1="883.60" x2="282.10" y2="883.60" stroke="#231f20" stroke-width="1.3"/>
<text x="275.90" y="886.60" font-size="8.6" text-anchor="end" fill="#231f20" font-weight="bold" stroke="#231f20" stroke-width="0.22">0</text>
<line x1="279.10" y1="838.60" x2="282.10" y2="838.60" stroke="#231f20" stroke-width="1.3"/>
<text x="278.10" y="841.60" font-size="8.6" text-anchor="end" fill="#231f20" font-weight="bold" stroke="#231f20" stroke-width="0.22">50</text>
<line x1="279.10" y1="793.60" x2="282.10" y2="793.60" stroke="#231f20" stroke-width="1.3"/>
<text x="278.10" y="796.60" font-size="8.6" text-anchor="end" fill="#231f20" font-weight="bold" stroke="#231f20" stroke-width="0.22">100</text>
<line x1="299.60" y1="786.50" x2="335.80" y2="786.50" stroke="#231f20" stroke-width="1.25"/>
<text x="318.80" y="787.20" font-size="9.5" text-anchor="middle" fill="#231f20" font-weight="bold" stroke="#231f20" stroke-width="0.22" letter-spacing="0.8">****</text>
<line x1="335.80" y1="782.50" x2="390.60" y2="782.50" stroke="#231f20" stroke-width="1.25"/>
<text x="363.40" y="782.50" font-size="9.5" text-anchor="middle" fill="#231f20" font-weight="bold" stroke="#231f20" stroke-width="0.22" letter-spacing="0.8">****</text>
<line x1="370.10" y1="786.50" x2="405.70" y2="786.50" stroke="#231f20" stroke-width="1.25"/>
<text x="260.80" y="839.70" font-size="9.3" text-anchor="middle" fill="#231f20" font-weight="bold" stroke="#231f20" stroke-width="0.22" transform="rotate(-90 260.80 839.70)">% Inhibition ratio</text>
<text x="309.00" y="891.50" font-size="9.7" text-anchor="end" fill="#231f20" font-weight="bold" stroke="#231f20" stroke-width="0.22" transform="rotate(-44 309.00 891.50)">Vehicle</text>
<text x="342.00" y="891.20" font-size="9.7" text-anchor="end" fill="#231f20" font-weight="bold" stroke="#231f20" stroke-width="0.22" transform="rotate(-44 342.00 891.20)">Lenvatinib</text>
<text x="375.50" y="891.20" font-size="9.7" text-anchor="end" fill="#231f20" font-weight="bold" stroke="#231f20" stroke-width="0.22" transform="rotate(-44 375.50 891.20)">Vehicle</text>
<text x="411.60" y="891.20" font-size="9.7" text-anchor="end" fill="#231f20" font-weight="bold" stroke="#231f20" stroke-width="0.22" transform="rotate(-44 411.60 891.20)">Lenvatinib</text>
<line x1="281.50" y1="924.50" x2="339.20" y2="924.50" stroke="#3a3636" stroke-width="1.3"/>
<text x="307.30" y="934.70" font-size="9.5" text-anchor="middle" fill="#231f20" font-weight="bold" stroke="#231f20" stroke-width="0.22">7721</text>
<line x1="358.70" y1="924.50" x2="416.40" y2="924.50" stroke="#3a3636" stroke-width="1.3"/>
<text x="386.20" y="934.70" font-size="9.5" text-anchor="middle" fill="#231f20" font-weight="bold" stroke="#231f20" stroke-width="0.22">7721</text>
<rect x="487.60" y="796.80" width="22.10" height="80.50" fill="#050505"/>
<line x1="498.65" y1="791.97" x2="498.65" y2="796.80" stroke="#231f20" stroke-width="1.2"/>
<line x1="494.65" y1="791.97" x2="502.65" y2="791.97" stroke="#231f20" stroke-width="1.3"/>
<circle cx="498.65" cy="793.58" r="1.60" fill="#231f20"/>
<rect x="519.40" y="853.15" width="22.50" height="24.15" fill="#a9a9a9"/>
<line x1="530.65" y1="849.12" x2="530.65" y2="853.15" stroke="#231f20" stroke-width="1.2"/>
<line x1="526.65" y1="849.12" x2="534.65" y2="849.12" stroke="#231f20" stroke-width="1.3"/>
<circle cx="530.65" cy="853.15" r="1.60" fill="#231f20"/>
<circle cx="530.65" cy="857.17" r="1.60" fill="#231f20"/>
<circle cx="530.65" cy="850.73" r="1.60" fill="#231f20"/>
<rect x="551.60" y="795.59" width="22.50" height="81.71" fill="#838580"/>
<line x1="562.85" y1="791.57" x2="562.85" y2="795.59" stroke="#231f20" stroke-width="1.2"/>
<line x1="558.85" y1="791.57" x2="566.85" y2="791.57" stroke="#231f20" stroke-width="1.3"/>
<circle cx="559.85" cy="793.58" r="1.60" fill="#231f20"/>
<circle cx="562.85" cy="800.02" r="1.60" fill="#231f20"/>
<circle cx="565.85" cy="794.38" r="1.60" fill="#231f20"/>
<rect x="583.10" y="798.41" width="22.50" height="78.89" fill="#dedede"/>
<line x1="594.35" y1="794.79" x2="594.35" y2="798.41" stroke="#231f20" stroke-width="1.2"/>
<line x1="590.35" y1="794.79" x2="598.35" y2="794.79" stroke="#231f20" stroke-width="1.3"/>
<circle cx="594.35" cy="795.99" r="1.60" fill="#231f20"/>
<circle cx="594.35" cy="801.63" r="1.60" fill="#231f20"/>
<line x1="484.70" y1="790.40" x2="484.70" y2="878.00" stroke="#231f20" stroke-width="1.5"/>
<line x1="484.70" y1="877.30" x2="612.70" y2="877.30" stroke="#231f20" stroke-width="1.5"/>
<line x1="481.70" y1="877.30" x2="484.70" y2="877.30" stroke="#231f20" stroke-width="1.3"/>
<text x="478.50" y="880.30" font-size="8.6" text-anchor="end" fill="#231f20" font-weight="bold" stroke="#231f20" stroke-width="0.22">0</text>
<line x1="481.70" y1="837.05" x2="484.70" y2="837.05" stroke="#231f20" stroke-width="1.3"/>
<text x="480.70" y="840.05" font-size="8.6" text-anchor="end" fill="#231f20" font-weight="bold" stroke="#231f20" stroke-width="0.22">50</text>
<line x1="481.70" y1="796.80" x2="484.70" y2="796.80" stroke="#231f20" stroke-width="1.3"/>
<text x="480.70" y="799.80" font-size="8.6" text-anchor="end" fill="#231f20" font-weight="bold" stroke="#231f20" stroke-width="0.22">100</text>
<line x1="497.20" y1="788.50" x2="526.90" y2="788.50" stroke="#231f20" stroke-width="1.25"/>
<text x="511.90" y="789.00" font-size="9.5" text-anchor="middle" fill="#231f20" font-weight="bold" stroke="#231f20" stroke-width="0.22" letter-spacing="0.8">****</text>
<line x1="526.90" y1="782.50" x2="579.50" y2="782.50" stroke="#231f20" stroke-width="1.25"/>
<text x="554.20" y="779.70" font-size="9.5" text-anchor="middle" fill="#231f20" font-weight="bold" stroke="#231f20" stroke-width="0.22" letter-spacing="0.8">****</text>
<line x1="561.60" y1="785.50" x2="594.50" y2="785.50" stroke="#231f20" stroke-width="1.25"/>
<text x="459.30" y="839.50" font-size="9.0" text-anchor="middle" fill="#231f20" font-weight="bold" stroke="#231f20" stroke-width="0.22" transform="rotate(-90 459.30 839.50)">% Inhibition ratio</text>
<text x="501.50" y="885.50" font-size="9.7" text-anchor="end" fill="#231f20" font-weight="bold" stroke="#231f20" stroke-width="0.22" transform="rotate(-44 501.50 885.50)">Vehicle</text>
<text x="535.50" y="885.00" font-size="9.7" text-anchor="end" fill="#231f20" font-weight="bold" stroke="#231f20" stroke-width="0.22" transform="rotate(-44 535.50 885.00)">Regorafenib</text>
<text x="564.50" y="885.50" font-size="9.7" text-anchor="end" fill="#231f20" font-weight="bold" stroke="#231f20" stroke-width="0.22" transform="rotate(-44 564.50 885.50)">Vehicle</text>
<text x="596.00" y="885.00" font-size="9.7" text-anchor="end" fill="#231f20" font-weight="bold" stroke="#231f20" stroke-width="0.22" transform="rotate(-44 596.00 885.00)">Regorafenib</text>
<line x1="473.30" y1="922.70" x2="531.90" y2="922.70" stroke="#3a3636" stroke-width="1.3"/>
<text x="504.50" y="934.60" font-size="9.5" text-anchor="middle" fill="#231f20" font-weight="bold" stroke="#231f20" stroke-width="0.22">HepG2</text>
<line x1="550.90" y1="924.50" x2="608.80" y2="924.50" stroke="#3a3636" stroke-width="1.3"/>
<text x="581.50" y="934.60" font-size="9.5" text-anchor="middle" fill="#231f20" font-weight="bold" stroke="#231f20" stroke-width="0.22">HepG2</text>
</svg>
</body></html>
